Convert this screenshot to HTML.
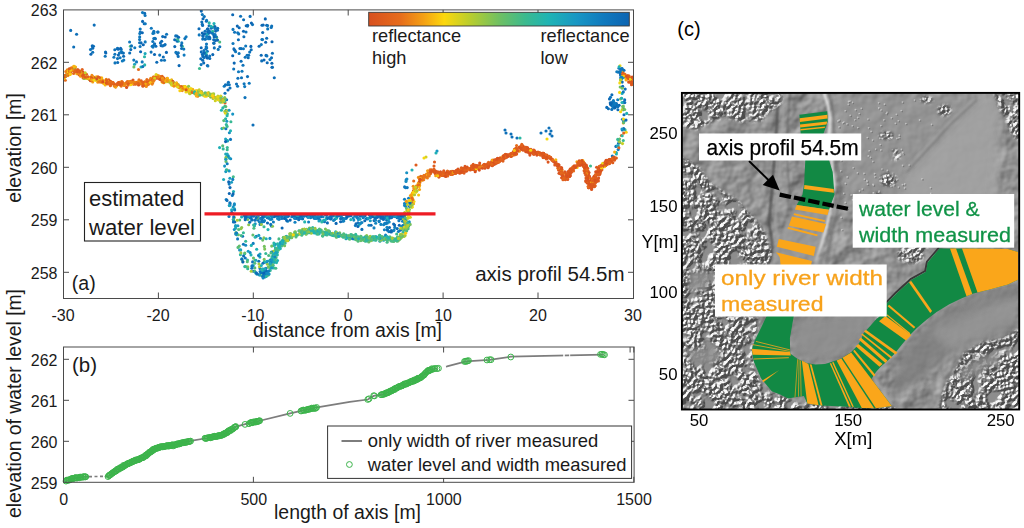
<!DOCTYPE html><html><head><meta charset="utf-8"><title>figure</title>
<style>html,body{margin:0;padding:0;background:#fff}svg{display:block}text{font-family:"Liberation Sans", sans-serif;fill:#1a1a1a}</style></head><body>
<svg width="1024" height="528" viewBox="0 0 1024 528">
<rect width="1024" height="528" fill="#fff"/>
<defs>
<linearGradient id="cb" x1="0" x2="1" y1="0" y2="0">
<stop offset="0.00" stop-color="#d8501f"/>
<stop offset="0.12" stop-color="#e66c1c"/>
<stop offset="0.21" stop-color="#f4a014"/>
<stop offset="0.29" stop-color="#fcd80d"/>
<stop offset="0.39" stop-color="#b8cd2e"/>
<stop offset="0.50" stop-color="#70c062"/>
<stop offset="0.60" stop-color="#3cba8e"/>
<stop offset="0.69" stop-color="#1fb4b4"/>
<stop offset="0.80" stop-color="#1896c4"/>
<stop offset="0.90" stop-color="#107abe"/>
<stop offset="1.00" stop-color="#0c64b2"/>
</linearGradient>
<clipPath id="ca"><rect x="63" y="10" width="571" height="288.5"/></clipPath>
<clipPath id="cm"><rect x="682" y="93" width="337" height="316"/></clipPath>
<filter id="trees" x="676" y="88" width="348" height="326" filterUnits="userSpaceOnUse" color-interpolation-filters="sRGB">
<feTurbulence type="fractalNoise" baseFrequency="0.27" numOctaves="3" seed="5" result="n"/>
<feTurbulence type="fractalNoise" baseFrequency="0.07" numOctaves="2" seed="9" result="lo"/>
<feComponentTransfer in="lo" result="lo2"><feFuncA type="linear" slope="5" intercept="-1.55"/></feComponentTransfer>
<feComponentTransfer in="n" result="n2"><feFuncA type="linear" slope="2.2" intercept="-0.6"/></feComponentTransfer>
<feComposite in="n2" in2="lo2" operator="arithmetic" k1="1" k2="0" k3="0" k4="0" result="h"/>
<feDiffuseLighting in="h" surfaceScale="3" diffuseConstant="1" lighting-color="#ffffff" result="l"><feDistantLight azimuth="225" elevation="33"/></feDiffuseLighting>
<feComponentTransfer in="l" result="l2"><feFuncR type="table" tableValues="0.3 0.41 0.5 0.53 0.62 0.88 1"/><feFuncG type="table" tableValues="0.3 0.41 0.5 0.53 0.62 0.88 1"/><feFuncB type="table" tableValues="0.3 0.41 0.5 0.53 0.62 0.88 1"/></feComponentTransfer>
<feGaussianBlur in="SourceAlpha" stdDeviation="1.5" result="m"/>
<feComposite in="l2" in2="m" operator="in"/>
</filter>
<filter id="soft" x="676" y="88" width="348" height="326" filterUnits="userSpaceOnUse" color-interpolation-filters="sRGB">
<feTurbulence type="fractalNoise" baseFrequency="0.05" numOctaves="3" seed="8" result="n"/>
<feDiffuseLighting in="n" surfaceScale="1.6" diffuseConstant="1" lighting-color="#ffffff" result="l"><feDistantLight azimuth="225" elevation="45"/></feDiffuseLighting>
<feComponentTransfer in="l"><feFuncR type="linear" slope="0.9" intercept="-0.065"/><feFuncG type="linear" slope="0.9" intercept="-0.065"/><feFuncB type="linear" slope="0.9" intercept="-0.065"/></feComponentTransfer>
</filter>
<filter id="b2"><feGaussianBlur stdDeviation="2"/></filter>
<filter id="b1"><feGaussianBlur stdDeviation="0.8"/></filter>
<filter id="b4"><feGaussianBlur stdDeviation="4"/></filter>
</defs>
<g clip-path="url(#ca)">
<circle cx="503.7" cy="158.3" r="1.55" fill="#dc581e"/>
<circle cx="286.3" cy="236.3" r="1.55" fill="#1ca6bb"/>
<circle cx="573.8" cy="168.2" r="1.55" fill="#db571e"/>
<circle cx="372.1" cy="240.1" r="1.55" fill="#44bb88"/>
<circle cx="276.2" cy="249.3" r="1.55" fill="#2bb6a4"/>
<circle cx="543.1" cy="157.6" r="1.55" fill="#dc581e"/>
<circle cx="70.6" cy="70.2" r="1.55" fill="#ec8319"/>
<circle cx="226.6" cy="99.8" r="1.55" fill="#1077bd"/>
<circle cx="426.1" cy="176.6" r="1.55" fill="#e8741b"/>
<circle cx="519.5" cy="147.3" r="1.55" fill="#ed8818"/>
<circle cx="412.2" cy="193.9" r="1.55" fill="#f7b611"/>
<circle cx="122.3" cy="61.0" r="1.55" fill="#107abe"/>
<circle cx="161.7" cy="41.2" r="1.55" fill="#0d6ab5"/>
<circle cx="590.7" cy="178.5" r="1.55" fill="#e1621d"/>
<circle cx="396.9" cy="238.6" r="1.55" fill="#a8ca39"/>
<circle cx="293.4" cy="215.2" r="1.55" fill="#158ac1"/>
<circle cx="300.7" cy="214.7" r="1.55" fill="#0c65b3"/>
<circle cx="326.0" cy="234.8" r="1.55" fill="#8ec54c"/>
<circle cx="220.6" cy="100.7" r="1.55" fill="#a9ca39"/>
<circle cx="247.8" cy="219.5" r="1.55" fill="#6ec063"/>
<circle cx="434.4" cy="172.0" r="1.55" fill="#dd591e"/>
<circle cx="334.8" cy="235.0" r="1.55" fill="#1ca7bb"/>
<circle cx="625.2" cy="89.1" r="1.55" fill="#0e6fb8"/>
<circle cx="534.4" cy="153.9" r="1.55" fill="#d9521f"/>
<circle cx="145.1" cy="83.4" r="1.55" fill="#e1621d"/>
<circle cx="309.8" cy="214.5" r="1.55" fill="#0f73ba"/>
<circle cx="153.2" cy="77.1" r="1.55" fill="#ed8718"/>
<circle cx="239.2" cy="27.7" r="1.55" fill="#0d68b4"/>
<circle cx="612.9" cy="104.1" r="1.55" fill="#107bbe"/>
<circle cx="614.3" cy="108.0" r="1.55" fill="#0e70b9"/>
<circle cx="595.4" cy="180.0" r="1.55" fill="#d8501f"/>
<circle cx="563.2" cy="176.3" r="1.55" fill="#d9521f"/>
<circle cx="206.9" cy="93.9" r="1.55" fill="#8dc54d"/>
<circle cx="74.2" cy="70.9" r="1.55" fill="#e4671c"/>
<circle cx="622.7" cy="106.6" r="1.55" fill="#70c062"/>
<circle cx="559.7" cy="169.7" r="1.55" fill="#dd591e"/>
<circle cx="419.5" cy="189.5" r="1.55" fill="#f5a613"/>
<circle cx="378.9" cy="237.8" r="1.55" fill="#2db7a2"/>
<circle cx="397.9" cy="216.3" r="1.55" fill="#0e6fb8"/>
<circle cx="244.8" cy="266.6" r="1.55" fill="#28b6a8"/>
<circle cx="301.6" cy="232.2" r="1.55" fill="#a4c93d"/>
<circle cx="276.1" cy="257.7" r="1.55" fill="#49bb83"/>
<circle cx="356.6" cy="215.1" r="1.55" fill="#29b6a7"/>
<circle cx="206.0" cy="55.4" r="1.55" fill="#33b89a"/>
<circle cx="179.0" cy="86.1" r="1.55" fill="#eed614"/>
<circle cx="314.4" cy="215.2" r="1.55" fill="#1ca8bb"/>
<circle cx="170.9" cy="83.6" r="1.55" fill="#7fc357"/>
<circle cx="586.5" cy="172.1" r="1.55" fill="#e0601d"/>
<circle cx="226.2" cy="199.6" r="1.55" fill="#117cbe"/>
<circle cx="349.1" cy="237.2" r="1.55" fill="#34b899"/>
<circle cx="300.4" cy="231.4" r="1.55" fill="#1eafb6"/>
<circle cx="404.7" cy="217.7" r="1.55" fill="#39b992"/>
<circle cx="171.6" cy="80.9" r="1.55" fill="#facb0f"/>
<circle cx="102.2" cy="79.9" r="1.55" fill="#df5e1e"/>
<circle cx="101.9" cy="81.5" r="1.55" fill="#e8721b"/>
<circle cx="599.8" cy="170.7" r="1.55" fill="#d9521f"/>
<circle cx="471.8" cy="168.0" r="1.55" fill="#db561e"/>
<circle cx="101.9" cy="81.2" r="1.55" fill="#e66b1c"/>
<circle cx="607.1" cy="160.4" r="1.55" fill="#df5f1d"/>
<circle cx="253.2" cy="265.5" r="1.55" fill="#1ca6bc"/>
<circle cx="183.8" cy="49.1" r="1.55" fill="#0f77bc"/>
<circle cx="65.3" cy="80.3" r="1.55" fill="#e66c1c"/>
<circle cx="334.9" cy="215.9" r="1.55" fill="#23b5af"/>
<circle cx="285.7" cy="238.6" r="1.55" fill="#30b89e"/>
<circle cx="165.2" cy="80.3" r="1.55" fill="#db561e"/>
<circle cx="404.7" cy="226.8" r="1.55" fill="#158ac2"/>
<circle cx="367.9" cy="218.4" r="1.55" fill="#0d6bb6"/>
<circle cx="392.6" cy="238.4" r="1.55" fill="#2ab6a6"/>
<circle cx="291.6" cy="237.8" r="1.55" fill="#51bc7c"/>
<circle cx="627.4" cy="76.3" r="1.55" fill="#e1621d"/>
<circle cx="357.7" cy="237.5" r="1.55" fill="#3fba8b"/>
<circle cx="250.9" cy="46.4" r="1.55" fill="#0d67b4"/>
<circle cx="210.8" cy="94.0" r="1.55" fill="#96c747"/>
<circle cx="293.9" cy="234.3" r="1.55" fill="#5abe74"/>
<circle cx="555.8" cy="161.8" r="1.55" fill="#e1611d"/>
<circle cx="496.4" cy="159.4" r="1.55" fill="#d9521f"/>
<circle cx="404.1" cy="220.1" r="1.55" fill="#1386c1"/>
<circle cx="492.3" cy="165.7" r="1.55" fill="#da551e"/>
<circle cx="619.9" cy="142.4" r="1.55" fill="#96c747"/>
<circle cx="615.5" cy="105.2" r="1.55" fill="#0e70b8"/>
<circle cx="252.6" cy="261.9" r="1.55" fill="#0f74bb"/>
<circle cx="592.3" cy="184.9" r="1.55" fill="#dc581e"/>
<circle cx="161.1" cy="45.6" r="1.55" fill="#0c66b3"/>
<circle cx="188.3" cy="90.6" r="1.55" fill="#f7b411"/>
<circle cx="153.4" cy="79.6" r="1.55" fill="#e4d419"/>
<circle cx="489.0" cy="165.2" r="1.55" fill="#dd591e"/>
<circle cx="227.3" cy="170.0" r="1.55" fill="#a8ca3a"/>
<circle cx="307.6" cy="215.3" r="1.55" fill="#1ba3bd"/>
<circle cx="356.7" cy="237.7" r="1.55" fill="#41bb8a"/>
<circle cx="264.3" cy="270.8" r="1.55" fill="#117dbf"/>
<circle cx="105.0" cy="83.1" r="1.55" fill="#c0ce2a"/>
<circle cx="128.1" cy="82.0" r="1.55" fill="#f7b711"/>
<circle cx="530.5" cy="151.9" r="1.55" fill="#dc581e"/>
<circle cx="231.6" cy="209.9" r="1.55" fill="#1ca7bb"/>
<circle cx="437.0" cy="151.0" r="1.55" fill="#1896c4"/>
<circle cx="387.9" cy="240.0" r="1.55" fill="#42bb89"/>
<circle cx="105.5" cy="52.1" r="1.55" fill="#0e71b9"/>
<circle cx="351.9" cy="237.7" r="1.55" fill="#48bb84"/>
<circle cx="590.5" cy="185.0" r="1.55" fill="#e2641d"/>
<circle cx="250.8" cy="217.0" r="1.55" fill="#1383c0"/>
<circle cx="282.9" cy="239.9" r="1.55" fill="#1eafb7"/>
<circle cx="250.1" cy="216.6" r="1.55" fill="#1486c1"/>
<circle cx="595.2" cy="178.6" r="1.55" fill="#dd5a1e"/>
<circle cx="586.1" cy="168.9" r="1.55" fill="#d9521f"/>
<circle cx="66.4" cy="75.3" r="1.55" fill="#dad21e"/>
<circle cx="226.1" cy="110.3" r="1.55" fill="#4ebc7f"/>
<circle cx="178.3" cy="41.3" r="1.55" fill="#28b6a8"/>
<circle cx="610.2" cy="160.1" r="1.55" fill="#db551e"/>
<circle cx="512.7" cy="155.1" r="1.55" fill="#dc581e"/>
<circle cx="104.9" cy="82.4" r="1.55" fill="#e76f1b"/>
<circle cx="130.4" cy="46.3" r="1.55" fill="#4abc83"/>
<circle cx="223.6" cy="179.5" r="1.55" fill="#1daab9"/>
<circle cx="203.7" cy="95.0" r="1.55" fill="#f8d70f"/>
<circle cx="310.6" cy="230.2" r="1.55" fill="#27b6aa"/>
<circle cx="446.3" cy="173.6" r="1.55" fill="#d8501f"/>
<circle cx="594.9" cy="177.2" r="1.55" fill="#db561e"/>
<circle cx="134.6" cy="64.2" r="1.55" fill="#1ba4bc"/>
<circle cx="254.8" cy="263.2" r="1.55" fill="#4dbc80"/>
<circle cx="546.5" cy="158.9" r="1.55" fill="#d9511f"/>
<circle cx="412.3" cy="197.7" r="1.55" fill="#e1d41a"/>
<circle cx="273.2" cy="251.2" r="1.55" fill="#adcb36"/>
<circle cx="407.1" cy="221.8" r="1.55" fill="#55bd79"/>
<circle cx="427.4" cy="177.9" r="1.55" fill="#eb7e19"/>
<circle cx="266.6" cy="262.1" r="1.55" fill="#0f75bb"/>
<circle cx="92.9" cy="77.1" r="1.55" fill="#e2651d"/>
<circle cx="278.3" cy="248.0" r="1.55" fill="#1ca8ba"/>
<circle cx="243.4" cy="48.8" r="1.55" fill="#1078bd"/>
<circle cx="80.9" cy="71.3" r="1.55" fill="#e5691c"/>
<circle cx="393.6" cy="224.0" r="1.55" fill="#0d6ab6"/>
<circle cx="233.0" cy="29.4" r="1.55" fill="#1077bd"/>
<circle cx="180.6" cy="86.9" r="1.55" fill="#de5b1e"/>
<circle cx="451.7" cy="171.4" r="1.55" fill="#f4d711"/>
<circle cx="318.9" cy="233.9" r="1.55" fill="#2db7a2"/>
<circle cx="409.9" cy="203.0" r="1.55" fill="#e8751b"/>
<circle cx="484.6" cy="166.6" r="1.55" fill="#de5c1e"/>
<circle cx="561.7" cy="167.9" r="1.55" fill="#da531f"/>
<circle cx="369.5" cy="237.9" r="1.55" fill="#22b5b0"/>
<circle cx="128.4" cy="82.1" r="1.55" fill="#f4a214"/>
<circle cx="315.0" cy="214.8" r="1.55" fill="#0c66b3"/>
<circle cx="235.7" cy="228.3" r="1.55" fill="#26b6aa"/>
<circle cx="531.7" cy="152.7" r="1.55" fill="#da531f"/>
<circle cx="559.9" cy="173.6" r="1.55" fill="#d9531f"/>
<circle cx="397.2" cy="217.8" r="1.55" fill="#0e6eb8"/>
<circle cx="269.9" cy="238.4" r="1.55" fill="#168ec2"/>
<circle cx="299.3" cy="215.9" r="1.55" fill="#1283c0"/>
<circle cx="572.8" cy="169.5" r="1.55" fill="#de5b1e"/>
<circle cx="308.0" cy="217.3" r="1.55" fill="#0e71b9"/>
<circle cx="336.4" cy="237.2" r="1.55" fill="#6cc065"/>
<circle cx="595.8" cy="177.9" r="1.55" fill="#e2641d"/>
<circle cx="237.9" cy="225.8" r="1.55" fill="#1998c3"/>
<circle cx="620.2" cy="87.0" r="1.55" fill="#70c062"/>
<circle cx="513.7" cy="154.9" r="1.55" fill="#e3651d"/>
<circle cx="386.8" cy="220.2" r="1.55" fill="#0e6fb8"/>
<circle cx="272.0" cy="256.5" r="1.55" fill="#3eba8c"/>
<circle cx="515.0" cy="152.0" r="1.55" fill="#d9521f"/>
<circle cx="157.0" cy="75.3" r="1.55" fill="#e56a1c"/>
<circle cx="375.7" cy="223.2" r="1.55" fill="#1385c0"/>
<circle cx="512.0" cy="137.0" r="1.55" fill="#0e6fb8"/>
<circle cx="289.5" cy="236.6" r="1.55" fill="#57bd77"/>
<circle cx="611.8" cy="109.4" r="1.55" fill="#0e70b9"/>
<circle cx="591.9" cy="182.0" r="1.55" fill="#da541f"/>
<circle cx="276.5" cy="215.8" r="1.55" fill="#117cbf"/>
<circle cx="596.1" cy="181.7" r="1.55" fill="#e0601d"/>
<circle cx="429.2" cy="175.9" r="1.55" fill="#eb7d19"/>
<circle cx="397.1" cy="237.9" r="1.55" fill="#3dba8d"/>
<circle cx="152.8" cy="82.8" r="1.55" fill="#e9771a"/>
<circle cx="546.2" cy="156.8" r="1.55" fill="#d9511f"/>
<circle cx="188.0" cy="91.2" r="1.55" fill="#f7b811"/>
<circle cx="306.3" cy="233.9" r="1.55" fill="#26b5ab"/>
<circle cx="491.8" cy="164.5" r="1.55" fill="#df5e1e"/>
<circle cx="600.7" cy="171.4" r="1.55" fill="#da551f"/>
<circle cx="622.5" cy="119.3" r="1.55" fill="#107abe"/>
<circle cx="358.1" cy="238.6" r="1.55" fill="#36b996"/>
<circle cx="314.3" cy="231.7" r="1.55" fill="#8bc54e"/>
<circle cx="338.9" cy="235.0" r="1.55" fill="#1ca9ba"/>
<circle cx="403.3" cy="219.5" r="1.55" fill="#0d6bb6"/>
<circle cx="573.0" cy="166.9" r="1.55" fill="#e9751b"/>
<circle cx="186.0" cy="91.9" r="1.55" fill="#f1d613"/>
<circle cx="400.7" cy="216.9" r="1.55" fill="#1383c0"/>
<circle cx="546.5" cy="158.0" r="1.55" fill="#df5e1d"/>
<circle cx="592.1" cy="186.7" r="1.55" fill="#dc581e"/>
<circle cx="516.6" cy="145.6" r="1.55" fill="#e66b1c"/>
<circle cx="83.6" cy="76.2" r="1.55" fill="#dd5a1e"/>
<circle cx="314.2" cy="218.1" r="1.55" fill="#0e71b9"/>
<circle cx="225.0" cy="102.9" r="1.55" fill="#de5b1e"/>
<circle cx="184.9" cy="38.6" r="1.55" fill="#0f76bc"/>
<circle cx="90.5" cy="77.6" r="1.55" fill="#dc591e"/>
<circle cx="605.8" cy="165.4" r="1.55" fill="#dc581e"/>
<circle cx="277.8" cy="214.6" r="1.55" fill="#1280bf"/>
<circle cx="257.0" cy="216.5" r="1.55" fill="#107abe"/>
<circle cx="256.0" cy="273.3" r="1.55" fill="#1dacb8"/>
<circle cx="500.5" cy="157.8" r="1.55" fill="#e2651d"/>
<circle cx="416.3" cy="191.6" r="1.55" fill="#facb0f"/>
<circle cx="69.3" cy="70.7" r="1.55" fill="#f9c40f"/>
<circle cx="520.6" cy="147.2" r="1.55" fill="#e56a1c"/>
<circle cx="398.8" cy="239.5" r="1.55" fill="#69bf68"/>
<circle cx="64.5" cy="78.1" r="1.55" fill="#efd613"/>
<circle cx="514.4" cy="151.1" r="1.55" fill="#db561e"/>
<circle cx="189.5" cy="90.8" r="1.55" fill="#abcb38"/>
<circle cx="388.2" cy="215.8" r="1.55" fill="#0d6cb6"/>
<circle cx="630.1" cy="77.8" r="1.55" fill="#ec8418"/>
<circle cx="558.5" cy="165.1" r="1.55" fill="#e1621d"/>
<circle cx="224.6" cy="166.1" r="1.55" fill="#1895c4"/>
<circle cx="251.6" cy="220.1" r="1.55" fill="#1488c1"/>
<circle cx="279.3" cy="247.9" r="1.55" fill="#1daab9"/>
<circle cx="619.7" cy="71.9" r="1.55" fill="#1eb1b5"/>
<circle cx="488.0" cy="167.8" r="1.55" fill="#dc581e"/>
<circle cx="388.7" cy="218.6" r="1.55" fill="#117dbf"/>
<circle cx="243.4" cy="244.2" r="1.55" fill="#0e72b9"/>
<circle cx="546.0" cy="155.8" r="1.55" fill="#da541f"/>
<circle cx="121.1" cy="49.3" r="1.55" fill="#0f77bc"/>
<circle cx="511.0" cy="134.0" r="1.55" fill="#0e6fb8"/>
<circle cx="111.1" cy="84.8" r="1.55" fill="#e8731b"/>
<circle cx="186.1" cy="36.7" r="1.55" fill="#0f77bc"/>
<circle cx="540.0" cy="152.8" r="1.55" fill="#da551e"/>
<circle cx="380.9" cy="224.4" r="1.55" fill="#1283c0"/>
<circle cx="405.6" cy="232.2" r="1.55" fill="#c8d026"/>
<circle cx="293.3" cy="235.6" r="1.55" fill="#65bf6c"/>
<circle cx="226.5" cy="156.7" r="1.55" fill="#1a9fbf"/>
<circle cx="614.5" cy="158.5" r="1.55" fill="#de5c1e"/>
<circle cx="256.3" cy="218.3" r="1.55" fill="#0c64b2"/>
<circle cx="110.0" cy="81.6" r="1.55" fill="#e0601d"/>
<circle cx="157.5" cy="76.7" r="1.55" fill="#accb37"/>
<circle cx="437.5" cy="174.7" r="1.55" fill="#da551f"/>
<circle cx="75.5" cy="67.0" r="1.55" fill="#f5a813"/>
<circle cx="329.3" cy="233.3" r="1.55" fill="#3cba8e"/>
<circle cx="578.4" cy="163.7" r="1.55" fill="#da541f"/>
<circle cx="523.7" cy="147.9" r="1.55" fill="#dd5a1e"/>
<circle cx="369.4" cy="214.5" r="1.55" fill="#1487c1"/>
<circle cx="399.7" cy="238.2" r="1.55" fill="#69bf68"/>
<circle cx="392.4" cy="216.6" r="1.55" fill="#0d69b5"/>
<circle cx="405.9" cy="206.4" r="1.55" fill="#0f72ba"/>
<circle cx="631.2" cy="83.0" r="1.55" fill="#e0601d"/>
<circle cx="414.0" cy="201.5" r="1.55" fill="#f1d612"/>
<circle cx="584.7" cy="169.0" r="1.55" fill="#ecd515"/>
<circle cx="74.2" cy="68.4" r="1.55" fill="#afcb35"/>
<circle cx="392.3" cy="241.2" r="1.55" fill="#4fbc7e"/>
<circle cx="302.0" cy="218.7" r="1.55" fill="#1283c0"/>
<circle cx="359.0" cy="225.0" r="1.55" fill="#1fb4b4"/>
<circle cx="503.3" cy="157.5" r="1.55" fill="#d9521f"/>
<circle cx="163.4" cy="78.1" r="1.55" fill="#f09116"/>
<circle cx="120.8" cy="85.0" r="1.55" fill="#ea7c1a"/>
<circle cx="480.0" cy="167.2" r="1.55" fill="#da541f"/>
<circle cx="597.6" cy="171.2" r="1.55" fill="#f5a414"/>
<circle cx="205.8" cy="48.7" r="1.55" fill="#0e6db7"/>
<circle cx="284.8" cy="241.1" r="1.55" fill="#21b4b2"/>
<circle cx="459.6" cy="170.7" r="1.55" fill="#d9511f"/>
<circle cx="570.5" cy="171.3" r="1.55" fill="#e0601d"/>
<circle cx="76.8" cy="73.8" r="1.55" fill="#f6af12"/>
<circle cx="172.5" cy="84.0" r="1.55" fill="#e66c1c"/>
<circle cx="76.6" cy="34.3" r="1.55" fill="#0e6fb8"/>
<circle cx="84.8" cy="78.0" r="1.55" fill="#f39d14"/>
<circle cx="389.2" cy="237.6" r="1.55" fill="#1eaeb7"/>
<circle cx="375.9" cy="236.5" r="1.55" fill="#1ca8ba"/>
<circle cx="196.0" cy="91.8" r="1.55" fill="#fbd30e"/>
<circle cx="599.3" cy="171.5" r="1.55" fill="#d9511f"/>
<circle cx="299.4" cy="233.9" r="1.55" fill="#7bc25a"/>
<circle cx="405.4" cy="228.2" r="1.55" fill="#8fc64c"/>
<circle cx="215.4" cy="40.6" r="1.55" fill="#0d6ab5"/>
<circle cx="617.9" cy="109.7" r="1.55" fill="#0d6cb6"/>
<circle cx="286.0" cy="238.9" r="1.55" fill="#abcb37"/>
<circle cx="85.7" cy="76.2" r="1.55" fill="#f8bf10"/>
<circle cx="568.3" cy="176.7" r="1.55" fill="#d8511f"/>
<circle cx="250.1" cy="252.6" r="1.55" fill="#158bc2"/>
<circle cx="260.1" cy="271.5" r="1.55" fill="#0f75bb"/>
<circle cx="164.5" cy="60.3" r="1.55" fill="#0f73ba"/>
<circle cx="346.1" cy="235.1" r="1.55" fill="#31b89c"/>
<circle cx="172.9" cy="84.5" r="1.55" fill="#f29715"/>
<circle cx="366.7" cy="235.6" r="1.55" fill="#94c648"/>
<circle cx="350.5" cy="236.2" r="1.55" fill="#1793c3"/>
<circle cx="221.9" cy="128.6" r="1.55" fill="#1dadb8"/>
<circle cx="405.9" cy="203.1" r="1.55" fill="#1078bd"/>
<circle cx="147.0" cy="84.9" r="1.55" fill="#d8501f"/>
<circle cx="241.8" cy="258.9" r="1.55" fill="#20b4b3"/>
<circle cx="400.8" cy="216.9" r="1.55" fill="#0e72b9"/>
<circle cx="368.1" cy="239.3" r="1.55" fill="#39b993"/>
<circle cx="473.2" cy="168.1" r="1.55" fill="#da541f"/>
<circle cx="285.7" cy="236.8" r="1.55" fill="#55bd79"/>
<circle cx="384.9" cy="238.1" r="1.55" fill="#70c062"/>
<circle cx="599.9" cy="171.1" r="1.55" fill="#d9531f"/>
<circle cx="630.4" cy="82.1" r="1.55" fill="#dd5a1e"/>
<circle cx="567.6" cy="176.3" r="1.55" fill="#da551f"/>
<circle cx="361.3" cy="214.8" r="1.55" fill="#0c65b3"/>
<circle cx="174.3" cy="83.2" r="1.55" fill="#e0611d"/>
<circle cx="566.1" cy="178.1" r="1.55" fill="#d8501f"/>
<circle cx="373.4" cy="236.8" r="1.55" fill="#1a9fbf"/>
<circle cx="530.9" cy="149.2" r="1.55" fill="#e2651d"/>
<circle cx="252.9" cy="235.0" r="1.55" fill="#62be6e"/>
<circle cx="182.9" cy="89.1" r="1.55" fill="#f6af12"/>
<circle cx="371.2" cy="237.3" r="1.55" fill="#20b4b2"/>
<circle cx="181.5" cy="87.6" r="1.55" fill="#e5d418"/>
<circle cx="86.7" cy="78.3" r="1.55" fill="#ee8b17"/>
<circle cx="201.2" cy="47.8" r="1.55" fill="#0c66b3"/>
<circle cx="201.5" cy="91.5" r="1.55" fill="#46bb86"/>
<circle cx="357.3" cy="237.6" r="1.55" fill="#58bd77"/>
<circle cx="291.5" cy="237.0" r="1.55" fill="#c1cf29"/>
<circle cx="83.1" cy="78.0" r="1.55" fill="#e05f1d"/>
<circle cx="370.3" cy="220.7" r="1.55" fill="#199bc1"/>
<circle cx="285.8" cy="218.7" r="1.55" fill="#158ac1"/>
<circle cx="497.9" cy="160.7" r="1.55" fill="#da541f"/>
<circle cx="464.3" cy="170.0" r="1.55" fill="#dd5a1e"/>
<circle cx="167.7" cy="81.2" r="1.55" fill="#eb8019"/>
<circle cx="269.8" cy="268.1" r="1.55" fill="#3aba90"/>
<circle cx="239.6" cy="250.0" r="1.55" fill="#1280bf"/>
<circle cx="595.2" cy="182.6" r="1.55" fill="#de5b1e"/>
<circle cx="384.7" cy="236.8" r="1.55" fill="#1282c0"/>
<circle cx="140.6" cy="51.8" r="1.55" fill="#0c66b3"/>
<circle cx="127.5" cy="84.0" r="1.55" fill="#de5d1e"/>
<circle cx="87.9" cy="78.1" r="1.55" fill="#e66d1c"/>
<circle cx="552.0" cy="160.3" r="1.55" fill="#e4691c"/>
<circle cx="265.8" cy="253.5" r="1.55" fill="#35b997"/>
<circle cx="594.0" cy="180.1" r="1.55" fill="#dc591e"/>
<circle cx="563.2" cy="179.0" r="1.55" fill="#e3651d"/>
<circle cx="342.3" cy="235.6" r="1.55" fill="#4dbc7f"/>
<circle cx="302.5" cy="229.2" r="1.55" fill="#aecb36"/>
<circle cx="115.6" cy="87.1" r="1.55" fill="#e8721b"/>
<circle cx="272.3" cy="266.1" r="1.55" fill="#41bb8a"/>
<circle cx="624.6" cy="76.7" r="1.55" fill="#e3661d"/>
<circle cx="346.6" cy="237.0" r="1.55" fill="#4cbc81"/>
<circle cx="97.2" cy="80.3" r="1.55" fill="#ea7b1a"/>
<circle cx="82.7" cy="74.9" r="1.55" fill="#e0601d"/>
<circle cx="446.2" cy="174.0" r="1.55" fill="#da541f"/>
<circle cx="265.0" cy="215.6" r="1.55" fill="#23b5af"/>
<circle cx="274.4" cy="261.6" r="1.55" fill="#3dba8d"/>
<circle cx="388.1" cy="238.7" r="1.55" fill="#29b6a7"/>
<circle cx="444.4" cy="174.3" r="1.55" fill="#e56b1c"/>
<circle cx="129.2" cy="81.5" r="1.55" fill="#ef8d17"/>
<circle cx="275.4" cy="247.7" r="1.55" fill="#20b4b2"/>
<circle cx="608.2" cy="160.2" r="1.55" fill="#f6ac12"/>
<circle cx="63.2" cy="75.5" r="1.55" fill="#f9c310"/>
<circle cx="262.6" cy="271.4" r="1.55" fill="#1dacb8"/>
<circle cx="138.5" cy="69.5" r="1.55" fill="#e66c1c"/>
<circle cx="265.0" cy="273.2" r="1.55" fill="#1282c0"/>
<circle cx="414.4" cy="190.6" r="1.55" fill="#df5d1e"/>
<circle cx="176.5" cy="82.7" r="1.55" fill="#f39d15"/>
<circle cx="354.8" cy="215.7" r="1.55" fill="#1281c0"/>
<circle cx="172.9" cy="82.8" r="1.55" fill="#d9521f"/>
<circle cx="326.5" cy="231.7" r="1.55" fill="#4bbc81"/>
<circle cx="540.7" cy="153.7" r="1.55" fill="#de5c1e"/>
<circle cx="312.7" cy="227.5" r="1.55" fill="#2bb6a5"/>
<circle cx="119.4" cy="53.1" r="1.55" fill="#0f76bc"/>
<circle cx="128.7" cy="82.1" r="1.55" fill="#f6ab13"/>
<circle cx="316.1" cy="230.5" r="1.55" fill="#61be6f"/>
<circle cx="453.7" cy="173.5" r="1.55" fill="#de5b1e"/>
<circle cx="164.7" cy="82.0" r="1.55" fill="#aaca38"/>
<circle cx="163.3" cy="57.0" r="1.55" fill="#0d6cb6"/>
<circle cx="446.8" cy="173.6" r="1.55" fill="#dd5b1e"/>
<circle cx="387.1" cy="242.3" r="1.55" fill="#45bb86"/>
<circle cx="243.5" cy="31.2" r="1.55" fill="#0c65b3"/>
<circle cx="87.6" cy="77.6" r="1.55" fill="#e5691c"/>
<circle cx="78.9" cy="74.6" r="1.55" fill="#de5d1e"/>
<circle cx="633.3" cy="84.5" r="1.55" fill="#fbcf0e"/>
<circle cx="401.2" cy="236.2" r="1.55" fill="#81c356"/>
<circle cx="562.3" cy="172.7" r="1.55" fill="#f8ba11"/>
<circle cx="475.5" cy="168.4" r="1.55" fill="#dd5a1e"/>
<circle cx="389.7" cy="217.6" r="1.55" fill="#0d69b5"/>
<circle cx="104.3" cy="81.0" r="1.55" fill="#fac70f"/>
<circle cx="242.6" cy="236.2" r="1.55" fill="#0e71b9"/>
<circle cx="276.3" cy="216.2" r="1.55" fill="#1eaeb7"/>
<circle cx="141.0" cy="67.0" r="1.55" fill="#1eb1b5"/>
<circle cx="270.3" cy="260.5" r="1.55" fill="#22b5b0"/>
<circle cx="235.9" cy="232.6" r="1.55" fill="#61be6f"/>
<circle cx="503.7" cy="155.7" r="1.55" fill="#e66c1c"/>
<circle cx="247.8" cy="266.9" r="1.55" fill="#8ec54d"/>
<circle cx="147.7" cy="83.4" r="1.55" fill="#f29715"/>
<circle cx="480.0" cy="167.4" r="1.55" fill="#dd5a1e"/>
<circle cx="154.9" cy="38.2" r="1.55" fill="#107abe"/>
<circle cx="174.2" cy="83.3" r="1.55" fill="#e9791a"/>
<circle cx="402.7" cy="225.9" r="1.55" fill="#4abc82"/>
<circle cx="208.2" cy="94.5" r="1.55" fill="#8fc64c"/>
<circle cx="105.1" cy="81.2" r="1.55" fill="#ec8119"/>
<circle cx="612.1" cy="103.5" r="1.55" fill="#0c66b3"/>
<circle cx="600.0" cy="169.9" r="1.55" fill="#dc571e"/>
<circle cx="401.5" cy="237.6" r="1.55" fill="#9dc842"/>
<circle cx="114.7" cy="84.7" r="1.55" fill="#e66e1c"/>
<circle cx="306.0" cy="234.1" r="1.55" fill="#9cc842"/>
<circle cx="609.6" cy="163.6" r="1.55" fill="#da551e"/>
<circle cx="273.5" cy="215.2" r="1.55" fill="#0f73ba"/>
<circle cx="205.0" cy="31.3" r="1.55" fill="#0f74bb"/>
<circle cx="79.0" cy="71.1" r="1.55" fill="#e2631d"/>
<circle cx="248.7" cy="224.7" r="1.55" fill="#8dc54d"/>
<circle cx="403.3" cy="218.2" r="1.55" fill="#0c64b2"/>
<circle cx="288.4" cy="238.4" r="1.55" fill="#3cba8e"/>
<circle cx="110.3" cy="82.1" r="1.55" fill="#dd5a1e"/>
<circle cx="224.2" cy="98.9" r="1.55" fill="#f4a014"/>
<circle cx="276.1" cy="252.1" r="1.55" fill="#3fba8b"/>
<circle cx="597.0" cy="174.5" r="1.55" fill="#dc581e"/>
<circle cx="592.3" cy="183.4" r="1.55" fill="#e1631d"/>
<circle cx="407.2" cy="187.6" r="1.55" fill="#0f77bc"/>
<circle cx="542.4" cy="154.0" r="1.55" fill="#de5b1e"/>
<circle cx="357.9" cy="226.5" r="1.55" fill="#0c66b3"/>
<circle cx="277.0" cy="248.4" r="1.55" fill="#5bbe73"/>
<circle cx="178.2" cy="52.7" r="1.55" fill="#0d6bb6"/>
<circle cx="399.3" cy="225.2" r="1.55" fill="#0c66b3"/>
<circle cx="267.6" cy="214.7" r="1.55" fill="#158ac1"/>
<circle cx="462.3" cy="168.4" r="1.55" fill="#da531f"/>
<circle cx="270.6" cy="261.2" r="1.55" fill="#2bb6a4"/>
<circle cx="324.1" cy="232.9" r="1.55" fill="#1898c3"/>
<circle cx="124.8" cy="85.5" r="1.55" fill="#e9771a"/>
<circle cx="85.4" cy="75.1" r="1.55" fill="#ee8a17"/>
<circle cx="408.3" cy="214.8" r="1.55" fill="#7cc259"/>
<circle cx="133.6" cy="84.2" r="1.55" fill="#d8501f"/>
<circle cx="576.4" cy="166.8" r="1.55" fill="#facb0f"/>
<circle cx="373.7" cy="216.6" r="1.55" fill="#117dbf"/>
<circle cx="288.8" cy="237.3" r="1.55" fill="#accb37"/>
<circle cx="140.5" cy="83.8" r="1.55" fill="#dc581e"/>
<circle cx="271.5" cy="57.7" r="1.55" fill="#0d6bb6"/>
<circle cx="146.2" cy="82.9" r="1.55" fill="#ea791a"/>
<circle cx="321.3" cy="230.1" r="1.55" fill="#79c25c"/>
<circle cx="144.7" cy="64.9" r="1.55" fill="#25b5ac"/>
<circle cx="475.5" cy="165.2" r="1.55" fill="#e2631d"/>
<circle cx="275.4" cy="249.4" r="1.55" fill="#1daab9"/>
<circle cx="621.2" cy="98.2" r="1.55" fill="#b1cc33"/>
<circle cx="564.8" cy="177.6" r="1.55" fill="#e4681c"/>
<circle cx="177.9" cy="53.3" r="1.55" fill="#1079bd"/>
<circle cx="189.2" cy="92.0" r="1.55" fill="#d3d121"/>
<circle cx="538.0" cy="152.0" r="1.55" fill="#de5c1e"/>
<circle cx="530.6" cy="150.9" r="1.55" fill="#db561e"/>
<circle cx="275.5" cy="249.9" r="1.55" fill="#6ec064"/>
<circle cx="108.8" cy="79.7" r="1.55" fill="#d8501f"/>
<circle cx="358.2" cy="239.3" r="1.55" fill="#1fb4b4"/>
<circle cx="119.9" cy="84.9" r="1.55" fill="#e0d31b"/>
<circle cx="403.8" cy="235.8" r="1.55" fill="#c9d026"/>
<circle cx="282.2" cy="216.0" r="1.55" fill="#0e70b9"/>
<circle cx="179.1" cy="87.8" r="1.55" fill="#ee8918"/>
<circle cx="287.7" cy="221.3" r="1.55" fill="#1283c0"/>
<circle cx="205.6" cy="34.0" r="1.55" fill="#0f72ba"/>
<circle cx="155.9" cy="76.1" r="1.55" fill="#f19416"/>
<circle cx="228.4" cy="82.2" r="1.55" fill="#0f72ba"/>
<circle cx="92.7" cy="81.9" r="1.55" fill="#f39e14"/>
<circle cx="329.2" cy="232.1" r="1.55" fill="#44bb87"/>
<circle cx="582.9" cy="160.6" r="1.55" fill="#fbd10e"/>
<circle cx="309.3" cy="228.0" r="1.55" fill="#81c355"/>
<circle cx="79.7" cy="72.1" r="1.55" fill="#ec8119"/>
<circle cx="68.0" cy="72.2" r="1.55" fill="#ea7b1a"/>
<circle cx="312.9" cy="230.9" r="1.55" fill="#75c15f"/>
<circle cx="406.1" cy="179.9" r="1.55" fill="#117fbf"/>
<circle cx="89.2" cy="79.4" r="1.55" fill="#b1cc33"/>
<circle cx="209.7" cy="56.1" r="1.55" fill="#0f74bb"/>
<circle cx="131.9" cy="83.8" r="1.55" fill="#f9c110"/>
<circle cx="438.7" cy="173.2" r="1.55" fill="#dc581e"/>
<circle cx="207.9" cy="33.5" r="1.55" fill="#0e71b9"/>
<circle cx="406.1" cy="219.2" r="1.55" fill="#54bd7a"/>
<circle cx="270.6" cy="259.8" r="1.55" fill="#0d68b4"/>
<circle cx="419.4" cy="183.1" r="1.55" fill="#eb7f19"/>
<circle cx="491.2" cy="163.3" r="1.55" fill="#dc581e"/>
<circle cx="339.6" cy="215.4" r="1.55" fill="#0d69b5"/>
<circle cx="195.1" cy="93.3" r="1.55" fill="#f29815"/>
<circle cx="232.7" cy="14.8" r="1.55" fill="#0d68b4"/>
<circle cx="310.6" cy="232.1" r="1.55" fill="#6ec063"/>
<circle cx="141.3" cy="83.1" r="1.55" fill="#f6ab13"/>
<circle cx="226.9" cy="156.5" r="1.55" fill="#2bb6a5"/>
<circle cx="385.4" cy="216.7" r="1.55" fill="#0d67b4"/>
<circle cx="196.8" cy="90.8" r="1.55" fill="#f6af12"/>
<circle cx="121.4" cy="51.5" r="1.55" fill="#1078bd"/>
<circle cx="622.8" cy="71.5" r="1.55" fill="#f5d710"/>
<circle cx="370.9" cy="239.6" r="1.55" fill="#4abc82"/>
<circle cx="335.5" cy="235.3" r="1.55" fill="#1eaeb7"/>
<circle cx="390.1" cy="237.1" r="1.55" fill="#53bd7b"/>
<circle cx="247.6" cy="25.2" r="1.55" fill="#0e71b9"/>
<circle cx="231.7" cy="212.6" r="1.55" fill="#0f74bb"/>
<circle cx="232.1" cy="213.0" r="1.55" fill="#0e6db7"/>
<circle cx="135.7" cy="82.2" r="1.55" fill="#ed8718"/>
<circle cx="587.3" cy="175.6" r="1.55" fill="#d9521f"/>
<circle cx="438.6" cy="172.3" r="1.55" fill="#df5e1d"/>
<circle cx="280.2" cy="248.7" r="1.55" fill="#1eb2b5"/>
<circle cx="70.0" cy="73.3" r="1.55" fill="#e9761a"/>
<circle cx="133.5" cy="83.6" r="1.55" fill="#f08f17"/>
<circle cx="457.5" cy="172.1" r="1.55" fill="#dc581e"/>
<circle cx="229.9" cy="202.7" r="1.55" fill="#0f72ba"/>
<circle cx="613.4" cy="100.5" r="1.55" fill="#107abe"/>
<circle cx="152.1" cy="79.6" r="1.55" fill="#e56b1c"/>
<circle cx="273.8" cy="260.9" r="1.55" fill="#24b5ad"/>
<circle cx="506.6" cy="157.2" r="1.55" fill="#da531f"/>
<circle cx="532.1" cy="152.4" r="1.55" fill="#e0611d"/>
<circle cx="423.1" cy="177.8" r="1.55" fill="#ec8418"/>
<circle cx="275.7" cy="253.6" r="1.55" fill="#1eb0b6"/>
<circle cx="581.0" cy="161.9" r="1.55" fill="#db551e"/>
<circle cx="210.6" cy="97.1" r="1.55" fill="#97c746"/>
<circle cx="166.8" cy="81.8" r="1.55" fill="#f9c310"/>
<circle cx="213.7" cy="26.7" r="1.55" fill="#64bf6d"/>
<circle cx="213.5" cy="96.4" r="1.55" fill="#f6ae12"/>
<circle cx="348.1" cy="237.9" r="1.55" fill="#2bb7a4"/>
<circle cx="360.4" cy="216.1" r="1.55" fill="#0d6bb6"/>
<circle cx="354.9" cy="237.7" r="1.55" fill="#cad025"/>
<circle cx="271.4" cy="226.0" r="1.55" fill="#0e6fb8"/>
<circle cx="290.4" cy="235.2" r="1.55" fill="#80c356"/>
<circle cx="108.7" cy="80.7" r="1.55" fill="#e7711b"/>
<circle cx="522.8" cy="146.3" r="1.55" fill="#dd5a1e"/>
<circle cx="547.0" cy="139.0" r="1.55" fill="#f5d710"/>
<circle cx="210.3" cy="95.4" r="1.55" fill="#facc0e"/>
<circle cx="598.4" cy="173.7" r="1.55" fill="#dd591e"/>
<circle cx="234.3" cy="229.5" r="1.55" fill="#1792c3"/>
<circle cx="141.3" cy="80.9" r="1.55" fill="#df5f1d"/>
<circle cx="162.7" cy="36.6" r="1.55" fill="#0e6db7"/>
<circle cx="179.9" cy="90.7" r="1.55" fill="#fbce0e"/>
<circle cx="407.8" cy="210.5" r="1.55" fill="#f6ab13"/>
<circle cx="610.5" cy="103.6" r="1.55" fill="#0e6db7"/>
<circle cx="80.6" cy="75.2" r="1.55" fill="#ed8418"/>
<circle cx="600.6" cy="166.6" r="1.55" fill="#db561e"/>
<circle cx="228.7" cy="181.9" r="1.55" fill="#0c64b2"/>
<circle cx="273.4" cy="222.0" r="1.55" fill="#107bbe"/>
<circle cx="264.7" cy="269.5" r="1.55" fill="#0e6eb7"/>
<circle cx="296.1" cy="216.9" r="1.55" fill="#0d68b4"/>
<circle cx="204.2" cy="57.6" r="1.55" fill="#0f76bc"/>
<circle cx="601.9" cy="164.7" r="1.55" fill="#db551e"/>
<circle cx="589.9" cy="187.1" r="1.55" fill="#f7b312"/>
<circle cx="127.3" cy="81.6" r="1.55" fill="#e4681c"/>
<circle cx="391.3" cy="217.8" r="1.55" fill="#0d6bb6"/>
<circle cx="419.6" cy="185.5" r="1.55" fill="#ef8d17"/>
<circle cx="326.5" cy="218.1" r="1.55" fill="#28b6a9"/>
<circle cx="269.0" cy="215.4" r="1.55" fill="#199bc1"/>
<circle cx="275.4" cy="244.4" r="1.55" fill="#1897c4"/>
<circle cx="162.1" cy="78.7" r="1.55" fill="#f09316"/>
<circle cx="96.1" cy="78.6" r="1.55" fill="#dc571e"/>
<circle cx="343.8" cy="236.8" r="1.55" fill="#38b993"/>
<circle cx="610.3" cy="102.7" r="1.55" fill="#0d6ab5"/>
<circle cx="555.2" cy="162.5" r="1.55" fill="#ecd515"/>
<circle cx="623.7" cy="121.2" r="1.55" fill="#117dbf"/>
<circle cx="419.8" cy="180.3" r="1.55" fill="#f1d613"/>
<circle cx="173.2" cy="84.9" r="1.55" fill="#f08f17"/>
<circle cx="204.3" cy="16.6" r="1.55" fill="#0e72b9"/>
<circle cx="153.3" cy="80.0" r="1.55" fill="#d8501f"/>
<circle cx="394.4" cy="215.9" r="1.55" fill="#1384c0"/>
<circle cx="313.2" cy="230.1" r="1.55" fill="#1ca7bb"/>
<circle cx="568.2" cy="173.3" r="1.55" fill="#db551e"/>
<circle cx="606.8" cy="163.9" r="1.55" fill="#da551f"/>
<circle cx="144.5" cy="56.8" r="1.55" fill="#2ab6a6"/>
<circle cx="117.5" cy="58.6" r="1.55" fill="#0f73ba"/>
<circle cx="621.4" cy="68.8" r="1.55" fill="#0c66b3"/>
<circle cx="259.9" cy="257.1" r="1.55" fill="#1ca7bb"/>
<circle cx="478.5" cy="166.6" r="1.55" fill="#dc581e"/>
<circle cx="324.5" cy="221.8" r="1.55" fill="#0f73ba"/>
<circle cx="122.0" cy="84.7" r="1.55" fill="#f19316"/>
<circle cx="209.8" cy="58.5" r="1.55" fill="#0d6bb6"/>
<circle cx="273.2" cy="260.6" r="1.55" fill="#28b6a9"/>
<circle cx="540.3" cy="154.0" r="1.55" fill="#d9531f"/>
<circle cx="406.7" cy="223.7" r="1.55" fill="#9ac843"/>
<circle cx="263.8" cy="269.3" r="1.55" fill="#1793c3"/>
<circle cx="279.5" cy="215.5" r="1.55" fill="#0c67b3"/>
<circle cx="419.8" cy="182.4" r="1.55" fill="#d8501f"/>
<circle cx="533.8" cy="153.1" r="1.55" fill="#de5c1e"/>
<circle cx="291.8" cy="237.5" r="1.55" fill="#7ac25b"/>
<circle cx="411.6" cy="207.2" r="1.55" fill="#accb37"/>
<circle cx="222.3" cy="102.3" r="1.55" fill="#eed614"/>
<circle cx="382.0" cy="216.0" r="1.55" fill="#1383c0"/>
<circle cx="388.7" cy="219.5" r="1.55" fill="#199cc1"/>
<circle cx="236.8" cy="234.8" r="1.55" fill="#0f72ba"/>
<circle cx="251.0" cy="217.7" r="1.55" fill="#0e6db7"/>
<circle cx="302.8" cy="233.5" r="1.55" fill="#24b5ad"/>
<circle cx="519.3" cy="151.3" r="1.55" fill="#f39d14"/>
<circle cx="387.6" cy="217.5" r="1.55" fill="#0f73ba"/>
<circle cx="321.3" cy="216.7" r="1.55" fill="#0c64b2"/>
<circle cx="177.1" cy="54.0" r="1.55" fill="#0d69b5"/>
<circle cx="558.8" cy="168.9" r="1.55" fill="#dd5b1e"/>
<circle cx="619.1" cy="141.3" r="1.55" fill="#4fbc7e"/>
<circle cx="487.7" cy="165.8" r="1.55" fill="#da551e"/>
<circle cx="219.7" cy="42.0" r="1.55" fill="#4cbc80"/>
<circle cx="464.3" cy="169.3" r="1.55" fill="#da541f"/>
<circle cx="240.9" cy="228.7" r="1.55" fill="#9ac844"/>
<circle cx="493.0" cy="162.0" r="1.55" fill="#d9521f"/>
<circle cx="415.6" cy="188.9" r="1.55" fill="#e4681c"/>
<circle cx="248.2" cy="251.2" r="1.55" fill="#1a9ec0"/>
<circle cx="374.6" cy="238.2" r="1.55" fill="#33b899"/>
<circle cx="168.5" cy="81.1" r="1.55" fill="#f9c50f"/>
<circle cx="272.5" cy="226.3" r="1.55" fill="#81c356"/>
<circle cx="370.9" cy="216.5" r="1.55" fill="#0d6cb6"/>
<circle cx="205.4" cy="39.0" r="1.55" fill="#107abe"/>
<circle cx="370.5" cy="217.4" r="1.55" fill="#0f73ba"/>
<circle cx="561.6" cy="173.3" r="1.55" fill="#de5d1e"/>
<circle cx="99.2" cy="81.9" r="1.55" fill="#e5691c"/>
<circle cx="609.1" cy="160.9" r="1.55" fill="#e66b1c"/>
<circle cx="122.7" cy="82.8" r="1.55" fill="#ef8f17"/>
<circle cx="602.9" cy="164.3" r="1.55" fill="#dd5a1e"/>
<circle cx="69.3" cy="72.2" r="1.55" fill="#e0601d"/>
<circle cx="207.3" cy="51.2" r="1.55" fill="#0f74bb"/>
<circle cx="409.5" cy="217.0" r="1.55" fill="#dad31d"/>
<circle cx="214.0" cy="23.6" r="1.55" fill="#1eb0b6"/>
<circle cx="161.2" cy="77.8" r="1.55" fill="#e8d517"/>
<circle cx="622.3" cy="87.0" r="1.55" fill="#b1cc33"/>
<circle cx="629.1" cy="76.0" r="1.55" fill="#d9531f"/>
<circle cx="364.6" cy="215.7" r="1.55" fill="#1ca8ba"/>
<circle cx="201.3" cy="51.9" r="1.55" fill="#0e6cb7"/>
<circle cx="510.9" cy="156.2" r="1.55" fill="#dc591e"/>
<circle cx="197.6" cy="91.0" r="1.55" fill="#f8bf10"/>
<circle cx="232.3" cy="195.5" r="1.55" fill="#1078bd"/>
<circle cx="493.8" cy="164.4" r="1.55" fill="#dc571e"/>
<circle cx="99.1" cy="81.4" r="1.55" fill="#e2641d"/>
<circle cx="492.0" cy="160.7" r="1.55" fill="#d9521f"/>
<circle cx="628.2" cy="76.2" r="1.55" fill="#db571e"/>
<circle cx="185.1" cy="86.5" r="1.55" fill="#f39b15"/>
<circle cx="341.4" cy="235.2" r="1.55" fill="#48bb83"/>
<circle cx="103.2" cy="81.2" r="1.55" fill="#dd5a1e"/>
<circle cx="264.2" cy="262.1" r="1.55" fill="#89c450"/>
<circle cx="250.3" cy="216.3" r="1.55" fill="#1383c0"/>
<circle cx="77.2" cy="69.9" r="1.55" fill="#e4681c"/>
<circle cx="93.7" cy="78.9" r="1.55" fill="#ed8518"/>
<circle cx="243.6" cy="255.9" r="1.55" fill="#0c64b2"/>
<circle cx="242.8" cy="261.6" r="1.55" fill="#75c15e"/>
<circle cx="138.8" cy="84.2" r="1.55" fill="#78c15c"/>
<circle cx="543.7" cy="153.3" r="1.55" fill="#dd591e"/>
<circle cx="526.6" cy="148.9" r="1.55" fill="#dd591e"/>
<circle cx="103.9" cy="83.3" r="1.55" fill="#e2651d"/>
<circle cx="283.7" cy="241.9" r="1.55" fill="#b2cc32"/>
<circle cx="282.9" cy="244.4" r="1.55" fill="#1489c1"/>
<circle cx="479.4" cy="166.3" r="1.55" fill="#de5c1e"/>
<circle cx="182.3" cy="90.6" r="1.55" fill="#f09216"/>
<circle cx="283.5" cy="241.2" r="1.55" fill="#33b89a"/>
<circle cx="631.0" cy="78.7" r="1.55" fill="#dc591e"/>
<circle cx="596.7" cy="180.7" r="1.55" fill="#d8511f"/>
<circle cx="410.5" cy="206.3" r="1.55" fill="#f5aa13"/>
<circle cx="579.2" cy="160.8" r="1.55" fill="#da531f"/>
<circle cx="204.9" cy="93.7" r="1.55" fill="#f5aa13"/>
<circle cx="269.4" cy="260.9" r="1.55" fill="#1dabb9"/>
<circle cx="458.0" cy="169.0" r="1.55" fill="#da541f"/>
<circle cx="362.2" cy="238.8" r="1.55" fill="#21b4b2"/>
<circle cx="197.3" cy="93.7" r="1.55" fill="#f4d711"/>
<circle cx="616.4" cy="158.0" r="1.55" fill="#e2641d"/>
<circle cx="591.9" cy="183.5" r="1.55" fill="#dd5a1e"/>
<circle cx="594.2" cy="182.2" r="1.55" fill="#da551e"/>
<circle cx="330.5" cy="218.7" r="1.55" fill="#107abe"/>
<circle cx="354.4" cy="238.9" r="1.55" fill="#27b6aa"/>
<circle cx="245.7" cy="241.3" r="1.55" fill="#36b995"/>
<circle cx="615.4" cy="158.3" r="1.55" fill="#da541f"/>
<circle cx="405.1" cy="204.6" r="1.55" fill="#158dc2"/>
<circle cx="405.5" cy="230.0" r="1.55" fill="#6ec064"/>
<circle cx="133.8" cy="60.1" r="1.55" fill="#1079bd"/>
<circle cx="212.0" cy="27.3" r="1.55" fill="#22b5b0"/>
<circle cx="139.7" cy="36.9" r="1.55" fill="#0f77bc"/>
<circle cx="385.6" cy="223.7" r="1.55" fill="#1384c0"/>
<circle cx="430.4" cy="173.2" r="1.55" fill="#da551e"/>
<circle cx="413.5" cy="190.9" r="1.55" fill="#d8501f"/>
<circle cx="99.2" cy="80.6" r="1.55" fill="#e0611d"/>
<circle cx="206.1" cy="94.7" r="1.55" fill="#e7711b"/>
<circle cx="470.3" cy="169.9" r="1.55" fill="#dc591e"/>
<circle cx="294.7" cy="232.1" r="1.55" fill="#85c452"/>
<circle cx="197.7" cy="93.0" r="1.55" fill="#aecb35"/>
<circle cx="219.6" cy="147.6" r="1.55" fill="#1eafb6"/>
<circle cx="204.7" cy="93.6" r="1.55" fill="#62be6e"/>
<circle cx="620.0" cy="65.8" r="1.55" fill="#f5d710"/>
<circle cx="427.6" cy="170.7" r="1.55" fill="#f29a15"/>
<circle cx="266.7" cy="25.3" r="1.55" fill="#0c64b2"/>
<circle cx="567.7" cy="179.5" r="1.55" fill="#da541f"/>
<circle cx="266.0" cy="276.3" r="1.55" fill="#0e6eb8"/>
<circle cx="181.8" cy="42.9" r="1.55" fill="#0f77bc"/>
<circle cx="478.1" cy="166.1" r="1.55" fill="#da531f"/>
<circle cx="145.3" cy="85.0" r="1.55" fill="#d8501f"/>
<circle cx="531.7" cy="151.9" r="1.55" fill="#df5d1e"/>
<circle cx="301.7" cy="233.3" r="1.55" fill="#66bf6b"/>
<circle cx="267.5" cy="264.2" r="1.55" fill="#95c747"/>
<circle cx="522.0" cy="148.8" r="1.55" fill="#e2631d"/>
<circle cx="402.4" cy="228.6" r="1.55" fill="#70c062"/>
<circle cx="495.3" cy="160.7" r="1.55" fill="#de5c1e"/>
<circle cx="545.4" cy="156.0" r="1.55" fill="#dd5a1e"/>
<circle cx="272.3" cy="217.3" r="1.55" fill="#1385c0"/>
<circle cx="424.5" cy="177.4" r="1.55" fill="#e76f1c"/>
<circle cx="128.3" cy="85.1" r="1.55" fill="#e7711b"/>
<circle cx="529.0" cy="152.4" r="1.55" fill="#dc571e"/>
<circle cx="343.3" cy="235.9" r="1.55" fill="#41bb8a"/>
<circle cx="261.2" cy="55.2" r="1.55" fill="#0d69b5"/>
<circle cx="214.0" cy="35.4" r="1.55" fill="#25b5ad"/>
<circle cx="69.7" cy="70.4" r="1.55" fill="#d1d122"/>
<circle cx="174.6" cy="83.2" r="1.55" fill="#da541f"/>
<circle cx="82.9" cy="72.1" r="1.55" fill="#dc581e"/>
<circle cx="611.5" cy="159.8" r="1.55" fill="#e4681c"/>
<circle cx="270.2" cy="270.4" r="1.55" fill="#34b899"/>
<circle cx="391.3" cy="215.9" r="1.55" fill="#0e70b9"/>
<circle cx="373.3" cy="216.7" r="1.55" fill="#0d68b4"/>
<circle cx="254.7" cy="214.6" r="1.55" fill="#1280bf"/>
<circle cx="264.0" cy="60.0" r="1.55" fill="#0c66b3"/>
<circle cx="134.8" cy="47.8" r="1.55" fill="#1079be"/>
<circle cx="374.0" cy="227.9" r="1.55" fill="#1280bf"/>
<circle cx="413.2" cy="186.2" r="1.55" fill="#f09016"/>
<circle cx="367.5" cy="240.9" r="1.55" fill="#1eb1b6"/>
<circle cx="347.4" cy="236.2" r="1.55" fill="#35b898"/>
<circle cx="514.9" cy="149.3" r="1.55" fill="#db551e"/>
<circle cx="220.5" cy="102.1" r="1.55" fill="#64bf6d"/>
<circle cx="217.9" cy="99.0" r="1.55" fill="#fac90f"/>
<circle cx="525.4" cy="147.3" r="1.55" fill="#e2641d"/>
<circle cx="136.5" cy="61.9" r="1.55" fill="#1079bd"/>
<circle cx="286.6" cy="215.5" r="1.55" fill="#0f74bb"/>
<circle cx="428.8" cy="173.6" r="1.55" fill="#e66b1c"/>
<circle cx="101.5" cy="82.2" r="1.55" fill="#e8721b"/>
<circle cx="407.2" cy="204.5" r="1.55" fill="#b9cd2d"/>
<circle cx="592.2" cy="180.5" r="1.55" fill="#dd5b1e"/>
<circle cx="206.5" cy="93.3" r="1.55" fill="#48bb84"/>
<circle cx="490.9" cy="162.8" r="1.55" fill="#dc581e"/>
<circle cx="258.2" cy="214.8" r="1.55" fill="#0c65b2"/>
<circle cx="277.2" cy="252.5" r="1.55" fill="#28b6a9"/>
<circle cx="364.8" cy="220.8" r="1.55" fill="#0d6ab6"/>
<circle cx="71.1" cy="68.9" r="1.55" fill="#e56b1c"/>
<circle cx="404.5" cy="218.7" r="1.55" fill="#a8ca3a"/>
<circle cx="407.9" cy="201.7" r="1.55" fill="#aacb38"/>
<circle cx="476.0" cy="167.8" r="1.55" fill="#e05f1d"/>
<circle cx="145.0" cy="81.6" r="1.55" fill="#ef8e17"/>
<circle cx="185.7" cy="88.5" r="1.55" fill="#f8d70f"/>
<circle cx="543.6" cy="154.2" r="1.55" fill="#db571e"/>
<circle cx="203.9" cy="50.5" r="1.55" fill="#0f76bc"/>
<circle cx="221.0" cy="100.4" r="1.55" fill="#8ac54f"/>
<circle cx="208.7" cy="93.8" r="1.55" fill="#fac90f"/>
<circle cx="138.3" cy="84.4" r="1.55" fill="#fcd70d"/>
<circle cx="179.1" cy="65.6" r="1.55" fill="#0c67b3"/>
<circle cx="111.5" cy="83.4" r="1.55" fill="#e66d1c"/>
<circle cx="431.4" cy="169.9" r="1.55" fill="#e2641d"/>
<circle cx="504.1" cy="158.1" r="1.55" fill="#e0601d"/>
<circle cx="261.7" cy="60.9" r="1.55" fill="#0e6eb7"/>
<circle cx="355.7" cy="234.3" r="1.55" fill="#39b992"/>
<circle cx="246.2" cy="25.8" r="1.55" fill="#0d6bb6"/>
<circle cx="522.3" cy="149.1" r="1.55" fill="#dc591e"/>
<circle cx="97.7" cy="79.3" r="1.55" fill="#f7b711"/>
<circle cx="130.2" cy="82.2" r="1.55" fill="#de5c1e"/>
<circle cx="86.4" cy="78.3" r="1.55" fill="#ded31c"/>
<circle cx="206.4" cy="21.3" r="1.55" fill="#0d68b4"/>
<circle cx="273.5" cy="255.9" r="1.55" fill="#107abe"/>
<circle cx="162.3" cy="82.2" r="1.55" fill="#f9d80e"/>
<circle cx="586.3" cy="166.3" r="1.55" fill="#dc581e"/>
<circle cx="527.8" cy="150.3" r="1.55" fill="#dd5a1e"/>
<circle cx="93.5" cy="77.1" r="1.55" fill="#d8501f"/>
<circle cx="259.1" cy="46.2" r="1.55" fill="#0d69b5"/>
<circle cx="471.5" cy="165.9" r="1.55" fill="#df5e1d"/>
<circle cx="244.1" cy="215.5" r="1.55" fill="#1079bd"/>
<circle cx="123.7" cy="83.6" r="1.55" fill="#ee8918"/>
<circle cx="405.5" cy="218.1" r="1.55" fill="#7cc25a"/>
<circle cx="398.0" cy="237.1" r="1.55" fill="#77c15d"/>
<circle cx="154.4" cy="78.4" r="1.55" fill="#e1621d"/>
<circle cx="593.4" cy="177.7" r="1.55" fill="#dd5a1e"/>
<circle cx="411.5" cy="202.4" r="1.55" fill="#d8501f"/>
<circle cx="247.5" cy="260.0" r="1.55" fill="#33b89a"/>
<circle cx="620.6" cy="99.0" r="1.55" fill="#70c062"/>
<circle cx="252.2" cy="219.8" r="1.55" fill="#0e6fb8"/>
<circle cx="381.3" cy="218.1" r="1.55" fill="#0c67b3"/>
<circle cx="623.4" cy="102.3" r="1.55" fill="#0e6fb8"/>
<circle cx="580.2" cy="165.0" r="1.55" fill="#df5d1e"/>
<circle cx="365.4" cy="236.5" r="1.55" fill="#58bd76"/>
<circle cx="443.8" cy="171.9" r="1.55" fill="#e2651d"/>
<circle cx="234.3" cy="217.4" r="1.55" fill="#93c648"/>
<circle cx="270.5" cy="264.9" r="1.55" fill="#50bc7d"/>
<circle cx="234.2" cy="63.1" r="1.55" fill="#0c66b3"/>
<circle cx="227.2" cy="149.7" r="1.55" fill="#3aba90"/>
<circle cx="388.1" cy="238.7" r="1.55" fill="#1eafb7"/>
<circle cx="507.4" cy="156.8" r="1.55" fill="#da541f"/>
<circle cx="615.2" cy="106.3" r="1.55" fill="#117fbf"/>
<circle cx="408.6" cy="198.3" r="1.55" fill="#117ebf"/>
<circle cx="488.9" cy="164.3" r="1.55" fill="#df5e1d"/>
<circle cx="317.7" cy="216.2" r="1.55" fill="#0e71b9"/>
<circle cx="130.8" cy="84.8" r="1.55" fill="#fbd30e"/>
<circle cx="325.0" cy="233.0" r="1.55" fill="#2eb7a0"/>
<circle cx="405.0" cy="225.4" r="1.55" fill="#aacb38"/>
<circle cx="229.2" cy="184.1" r="1.55" fill="#0f76bc"/>
<circle cx="388.8" cy="231.6" r="1.55" fill="#1280bf"/>
<circle cx="555.6" cy="162.7" r="1.55" fill="#f2d612"/>
<circle cx="390.8" cy="239.4" r="1.55" fill="#23b5ae"/>
<circle cx="535.7" cy="152.7" r="1.55" fill="#df5e1d"/>
<circle cx="286.6" cy="215.2" r="1.55" fill="#0f76bc"/>
<circle cx="224.7" cy="101.8" r="1.55" fill="#4cbc81"/>
<circle cx="252.0" cy="265.8" r="1.55" fill="#0f75bb"/>
<circle cx="591.1" cy="186.9" r="1.55" fill="#dd5b1e"/>
<circle cx="125.0" cy="84.1" r="1.55" fill="#fbd00e"/>
<circle cx="317.9" cy="233.7" r="1.55" fill="#51bc7c"/>
<circle cx="316.8" cy="232.8" r="1.55" fill="#39b992"/>
<circle cx="350.9" cy="215.1" r="1.55" fill="#1079bd"/>
<circle cx="568.3" cy="173.1" r="1.55" fill="#d9511f"/>
<circle cx="227.4" cy="113.7" r="1.55" fill="#38b994"/>
<circle cx="104.2" cy="81.8" r="1.55" fill="#f4d711"/>
<circle cx="90.8" cy="78.0" r="1.55" fill="#d8501f"/>
<circle cx="240.4" cy="254.7" r="1.55" fill="#27b6a9"/>
<circle cx="390.5" cy="215.5" r="1.55" fill="#148ac1"/>
<circle cx="155.9" cy="46.3" r="1.55" fill="#0e6db7"/>
<circle cx="241.5" cy="77.7" r="1.55" fill="#0e70b9"/>
<circle cx="379.2" cy="221.1" r="1.55" fill="#0e6fb8"/>
<circle cx="614.4" cy="158.1" r="1.55" fill="#f4d711"/>
<circle cx="595.1" cy="180.1" r="1.55" fill="#dd5b1e"/>
<circle cx="278.2" cy="248.9" r="1.55" fill="#31b89d"/>
<circle cx="517.2" cy="150.0" r="1.55" fill="#d9521f"/>
<circle cx="214.6" cy="35.5" r="1.55" fill="#0c65b2"/>
<circle cx="569.3" cy="176.5" r="1.55" fill="#de5c1e"/>
<circle cx="113.9" cy="57.2" r="1.55" fill="#1078bd"/>
<circle cx="206.6" cy="20.4" r="1.55" fill="#0f76bc"/>
<circle cx="316.7" cy="232.9" r="1.55" fill="#29b6a7"/>
<circle cx="82.7" cy="74.0" r="1.55" fill="#df5e1e"/>
<circle cx="621.7" cy="98.3" r="1.55" fill="#1eb1b5"/>
<circle cx="599.7" cy="169.1" r="1.55" fill="#e0601d"/>
<circle cx="121.2" cy="86.1" r="1.55" fill="#e7711b"/>
<circle cx="366.2" cy="238.4" r="1.55" fill="#40ba8b"/>
<circle cx="319.1" cy="230.6" r="1.55" fill="#2db7a2"/>
<circle cx="169.2" cy="81.7" r="1.55" fill="#e3661d"/>
<circle cx="273.8" cy="245.4" r="1.55" fill="#22b5b0"/>
<circle cx="82.7" cy="75.2" r="1.55" fill="#e9771a"/>
<circle cx="332.9" cy="215.9" r="1.55" fill="#1384c0"/>
<circle cx="589.5" cy="176.4" r="1.55" fill="#d9511f"/>
<circle cx="326.5" cy="232.1" r="1.55" fill="#1dabb9"/>
<circle cx="306.4" cy="231.5" r="1.55" fill="#64bf6c"/>
<circle cx="258.8" cy="261.3" r="1.55" fill="#0e70b9"/>
<circle cx="260.4" cy="275.1" r="1.55" fill="#50bc7d"/>
<circle cx="498.2" cy="162.2" r="1.55" fill="#db551e"/>
<circle cx="266.1" cy="215.6" r="1.55" fill="#0d68b4"/>
<circle cx="121.0" cy="83.9" r="1.55" fill="#e76f1b"/>
<circle cx="413.7" cy="181.0" r="1.55" fill="#e56a1c"/>
<circle cx="225.0" cy="93.2" r="1.55" fill="#0e71b9"/>
<circle cx="100.9" cy="81.0" r="1.55" fill="#e7711b"/>
<circle cx="410.6" cy="204.7" r="1.55" fill="#e2d41a"/>
<circle cx="287.3" cy="216.6" r="1.55" fill="#0f77bc"/>
<circle cx="503.4" cy="158.9" r="1.55" fill="#d9511f"/>
<circle cx="267.3" cy="217.8" r="1.55" fill="#1079bd"/>
<circle cx="371.2" cy="239.9" r="1.55" fill="#37b995"/>
<circle cx="621.4" cy="75.7" r="1.55" fill="#107abe"/>
<circle cx="261.9" cy="217.7" r="1.55" fill="#0e6db7"/>
<circle cx="429.8" cy="174.0" r="1.55" fill="#eb7d19"/>
<circle cx="433.1" cy="171.3" r="1.55" fill="#da551e"/>
<circle cx="467.1" cy="167.1" r="1.55" fill="#da551e"/>
<circle cx="278.6" cy="245.8" r="1.55" fill="#1dadb8"/>
<circle cx="265.9" cy="273.4" r="1.55" fill="#1385c0"/>
<circle cx="404.0" cy="220.4" r="1.55" fill="#0d67b4"/>
<circle cx="349.1" cy="236.2" r="1.55" fill="#38b993"/>
<circle cx="545.3" cy="155.8" r="1.55" fill="#de5c1e"/>
<circle cx="139.6" cy="39.6" r="1.55" fill="#0f75bb"/>
<circle cx="525.8" cy="151.7" r="1.55" fill="#da551e"/>
<circle cx="81.7" cy="72.6" r="1.55" fill="#dc571e"/>
<circle cx="114.9" cy="85.8" r="1.55" fill="#d9521f"/>
<circle cx="421.2" cy="176.6" r="1.55" fill="#e9761a"/>
<circle cx="612.5" cy="104.8" r="1.55" fill="#0e6db7"/>
<circle cx="360.1" cy="214.8" r="1.55" fill="#1386c1"/>
<circle cx="410.3" cy="204.8" r="1.55" fill="#cdd024"/>
<circle cx="353.2" cy="237.7" r="1.55" fill="#50bc7d"/>
<circle cx="296.5" cy="218.4" r="1.55" fill="#107bbe"/>
<circle cx="593.8" cy="183.9" r="1.55" fill="#dc591e"/>
<circle cx="391.8" cy="215.4" r="1.55" fill="#0f76bc"/>
<circle cx="311.1" cy="230.9" r="1.55" fill="#2bb6a5"/>
<circle cx="438.8" cy="174.9" r="1.55" fill="#d9521f"/>
<circle cx="352.0" cy="235.3" r="1.55" fill="#51bc7c"/>
<circle cx="439.0" cy="176.3" r="1.55" fill="#da531f"/>
<circle cx="586.1" cy="167.1" r="1.55" fill="#d9511f"/>
<circle cx="332.9" cy="214.9" r="1.55" fill="#0f75bb"/>
<circle cx="369.2" cy="239.0" r="1.55" fill="#3bba90"/>
<circle cx="592.9" cy="184.0" r="1.55" fill="#df5f1d"/>
<circle cx="266.9" cy="274.6" r="1.55" fill="#1282c0"/>
<circle cx="265.4" cy="272.8" r="1.55" fill="#0e6db7"/>
<circle cx="235.6" cy="225.6" r="1.55" fill="#1a9fbf"/>
<circle cx="583.5" cy="163.5" r="1.55" fill="#e3671d"/>
<circle cx="557.9" cy="166.1" r="1.55" fill="#d8511f"/>
<circle cx="378.1" cy="216.9" r="1.55" fill="#0f77bc"/>
<circle cx="225.8" cy="106.6" r="1.55" fill="#6abf67"/>
<circle cx="465.0" cy="168.7" r="1.55" fill="#de5c1e"/>
<circle cx="401.2" cy="234.6" r="1.55" fill="#3bba90"/>
<circle cx="340.4" cy="215.0" r="1.55" fill="#0e6fb8"/>
<circle cx="189.4" cy="89.9" r="1.55" fill="#f7b811"/>
<circle cx="539.2" cy="154.0" r="1.55" fill="#dd5b1e"/>
<circle cx="332.4" cy="234.1" r="1.55" fill="#81c356"/>
<circle cx="145.6" cy="84.3" r="1.55" fill="#fbd30e"/>
<circle cx="108.1" cy="81.8" r="1.55" fill="#e8d517"/>
<circle cx="123.6" cy="56.3" r="1.55" fill="#0d6ab5"/>
<circle cx="440.9" cy="173.9" r="1.55" fill="#d8511f"/>
<circle cx="135.7" cy="83.6" r="1.55" fill="#db561e"/>
<circle cx="217.8" cy="97.3" r="1.55" fill="#b3cc32"/>
<circle cx="595.7" cy="171.8" r="1.55" fill="#d9531f"/>
<circle cx="630.3" cy="81.9" r="1.55" fill="#e1631d"/>
<circle cx="585.7" cy="166.2" r="1.55" fill="#da541f"/>
<circle cx="611.5" cy="159.5" r="1.55" fill="#dc591e"/>
<circle cx="186.4" cy="89.2" r="1.55" fill="#bece2b"/>
<circle cx="114.9" cy="54.3" r="1.55" fill="#0f76bc"/>
<circle cx="387.5" cy="229.4" r="1.55" fill="#1488c1"/>
<circle cx="383.9" cy="215.8" r="1.55" fill="#1281c0"/>
<circle cx="258.3" cy="218.6" r="1.55" fill="#0e71b9"/>
<circle cx="295.4" cy="231.9" r="1.55" fill="#78c25c"/>
<circle cx="315.0" cy="232.4" r="1.55" fill="#2ab6a6"/>
<circle cx="398.9" cy="220.7" r="1.55" fill="#117dbf"/>
<circle cx="546.0" cy="131.0" r="1.55" fill="#0e6fb8"/>
<circle cx="284.6" cy="245.8" r="1.55" fill="#72c061"/>
<circle cx="443.7" cy="175.0" r="1.55" fill="#d9521f"/>
<circle cx="336.0" cy="218.5" r="1.55" fill="#1dadb8"/>
<circle cx="474.5" cy="168.3" r="1.55" fill="#da541f"/>
<circle cx="443.8" cy="170.8" r="1.55" fill="#dd5a1e"/>
<circle cx="525.6" cy="150.4" r="1.55" fill="#da541f"/>
<circle cx="229.3" cy="157.9" r="1.55" fill="#1eafb6"/>
<circle cx="442.4" cy="174.3" r="1.55" fill="#e05f1d"/>
<circle cx="227.3" cy="140.6" r="1.55" fill="#3cba8e"/>
<circle cx="559.0" cy="168.5" r="1.55" fill="#de5c1e"/>
<circle cx="322.8" cy="236.1" r="1.55" fill="#36b996"/>
<circle cx="579.6" cy="164.5" r="1.55" fill="#df5f1d"/>
<circle cx="297.0" cy="216.9" r="1.55" fill="#0d67b4"/>
<circle cx="282.1" cy="228.0" r="1.55" fill="#0c66b3"/>
<circle cx="282.7" cy="242.5" r="1.55" fill="#1ca6bb"/>
<circle cx="539.5" cy="153.4" r="1.55" fill="#df5f1d"/>
<circle cx="631.9" cy="81.6" r="1.55" fill="#e1611d"/>
<circle cx="412.1" cy="195.5" r="1.55" fill="#f8b911"/>
<circle cx="561.9" cy="174.3" r="1.55" fill="#e1621d"/>
<circle cx="221.0" cy="100.3" r="1.55" fill="#fbd40d"/>
<circle cx="426.9" cy="173.7" r="1.55" fill="#f4a314"/>
<circle cx="379.8" cy="235.2" r="1.55" fill="#46bb86"/>
<circle cx="247.5" cy="76.6" r="1.55" fill="#0e6db7"/>
<circle cx="103.6" cy="83.3" r="1.55" fill="#facd0e"/>
<circle cx="405.1" cy="235.6" r="1.55" fill="#a5ca3c"/>
<circle cx="602.9" cy="166.5" r="1.55" fill="#dd5a1e"/>
<circle cx="502.7" cy="156.6" r="1.55" fill="#f39b15"/>
<circle cx="415.9" cy="192.3" r="1.55" fill="#d8d21e"/>
<circle cx="514.3" cy="153.5" r="1.55" fill="#da541f"/>
<circle cx="588.6" cy="173.0" r="1.55" fill="#dd5a1e"/>
<circle cx="205.3" cy="95.2" r="1.55" fill="#d2d122"/>
<circle cx="379.9" cy="241.2" r="1.55" fill="#199bc1"/>
<circle cx="203.0" cy="94.3" r="1.55" fill="#bece2b"/>
<circle cx="453.5" cy="171.9" r="1.55" fill="#e2641d"/>
<circle cx="383.6" cy="240.2" r="1.55" fill="#1aa1be"/>
<circle cx="507.8" cy="155.6" r="1.55" fill="#e1621d"/>
<circle cx="336.0" cy="235.1" r="1.55" fill="#5dbe72"/>
<circle cx="449.5" cy="173.0" r="1.55" fill="#e3671d"/>
<circle cx="482.4" cy="168.2" r="1.55" fill="#d8511f"/>
<circle cx="586.1" cy="171.0" r="1.55" fill="#db561e"/>
<circle cx="549.1" cy="156.3" r="1.55" fill="#e1631d"/>
<circle cx="399.9" cy="238.8" r="1.55" fill="#88c451"/>
<circle cx="620.5" cy="74.9" r="1.55" fill="#0e71b9"/>
<circle cx="198.8" cy="91.3" r="1.55" fill="#98c745"/>
<circle cx="143.3" cy="83.6" r="1.55" fill="#e56b1c"/>
<circle cx="355.8" cy="215.3" r="1.55" fill="#107abe"/>
<circle cx="260.2" cy="223.1" r="1.55" fill="#a1c93f"/>
<circle cx="248.7" cy="55.2" r="1.55" fill="#0f74bb"/>
<circle cx="452.5" cy="174.2" r="1.55" fill="#dc581e"/>
<circle cx="138.6" cy="84.9" r="1.55" fill="#d8501f"/>
<circle cx="290.2" cy="220.1" r="1.55" fill="#0c65b2"/>
<circle cx="361.0" cy="236.3" r="1.55" fill="#36b996"/>
<circle cx="436.0" cy="153.0" r="1.55" fill="#1eb1b5"/>
<circle cx="367.0" cy="236.8" r="1.55" fill="#55bd79"/>
<circle cx="474.0" cy="165.6" r="1.55" fill="#e66d1c"/>
<circle cx="624.7" cy="99.9" r="1.55" fill="#0e6fb8"/>
<circle cx="543.6" cy="153.7" r="1.55" fill="#dd5a1e"/>
<circle cx="430.8" cy="171.8" r="1.55" fill="#df5d1e"/>
<circle cx="350.7" cy="238.4" r="1.55" fill="#1897c4"/>
<circle cx="168.3" cy="80.3" r="1.55" fill="#fbd30e"/>
<circle cx="326.8" cy="215.4" r="1.55" fill="#117dbf"/>
<circle cx="289.8" cy="237.4" r="1.55" fill="#61be6f"/>
<circle cx="320.4" cy="230.0" r="1.55" fill="#27b6aa"/>
<circle cx="596.2" cy="179.8" r="1.55" fill="#e2631d"/>
<circle cx="284.2" cy="238.6" r="1.55" fill="#7cc259"/>
<circle cx="165.2" cy="37.0" r="1.55" fill="#0c65b3"/>
<circle cx="171.1" cy="82.2" r="1.55" fill="#e4681c"/>
<circle cx="267.3" cy="272.8" r="1.55" fill="#0d6ab5"/>
<circle cx="270.8" cy="264.4" r="1.55" fill="#76c15e"/>
<circle cx="267.2" cy="62.7" r="1.55" fill="#0d6ab5"/>
<circle cx="365.1" cy="215.8" r="1.55" fill="#0d6bb6"/>
<circle cx="343.1" cy="218.5" r="1.55" fill="#1384c0"/>
<circle cx="269.5" cy="218.2" r="1.55" fill="#199bc1"/>
<circle cx="554.2" cy="161.6" r="1.55" fill="#dd591e"/>
<circle cx="589.9" cy="187.2" r="1.55" fill="#dd5b1e"/>
<circle cx="117.6" cy="48.3" r="1.55" fill="#0e71b9"/>
<circle cx="408.8" cy="214.5" r="1.55" fill="#d5d220"/>
<circle cx="374.1" cy="220.6" r="1.55" fill="#0d6ab5"/>
<circle cx="230.0" cy="187.6" r="1.55" fill="#0d68b4"/>
<circle cx="152.8" cy="41.5" r="1.55" fill="#0f76bc"/>
<circle cx="174.9" cy="84.2" r="1.55" fill="#e2631d"/>
<circle cx="385.4" cy="238.9" r="1.55" fill="#32b89b"/>
<circle cx="336.8" cy="235.2" r="1.55" fill="#57bd77"/>
<circle cx="548.6" cy="157.7" r="1.55" fill="#e3661d"/>
<circle cx="580.2" cy="161.6" r="1.55" fill="#dd591e"/>
<circle cx="491.7" cy="162.5" r="1.55" fill="#e1621d"/>
<circle cx="558.7" cy="168.1" r="1.55" fill="#dd5a1e"/>
<circle cx="263.9" cy="237.9" r="1.55" fill="#85c453"/>
<circle cx="612.1" cy="105.9" r="1.55" fill="#0c66b3"/>
<circle cx="560.9" cy="167.5" r="1.55" fill="#d9511f"/>
<circle cx="404.0" cy="236.5" r="1.55" fill="#a8ca3a"/>
<circle cx="311.4" cy="230.5" r="1.55" fill="#38b993"/>
<circle cx="384.4" cy="229.8" r="1.55" fill="#1282c0"/>
<circle cx="555.7" cy="161.0" r="1.55" fill="#d8501f"/>
<circle cx="117.2" cy="48.8" r="1.55" fill="#0f74bb"/>
<circle cx="260.1" cy="224.5" r="1.55" fill="#1078bd"/>
<circle cx="520.1" cy="147.6" r="1.55" fill="#de5c1e"/>
<circle cx="379.9" cy="215.9" r="1.55" fill="#0f74bb"/>
<circle cx="452.1" cy="174.1" r="1.55" fill="#da531f"/>
<circle cx="250.1" cy="16.4" r="1.55" fill="#0e6fb8"/>
<circle cx="342.8" cy="221.3" r="1.55" fill="#1281c0"/>
<circle cx="294.4" cy="235.0" r="1.55" fill="#bacd2d"/>
<circle cx="313.1" cy="216.1" r="1.55" fill="#107abe"/>
<circle cx="112.2" cy="82.7" r="1.55" fill="#d8d21e"/>
<circle cx="286.7" cy="220.6" r="1.55" fill="#0d68b4"/>
<circle cx="133.1" cy="82.1" r="1.55" fill="#da551e"/>
<circle cx="287.4" cy="237.0" r="1.55" fill="#41bb8a"/>
<circle cx="594.8" cy="177.2" r="1.55" fill="#e2641d"/>
<circle cx="415.8" cy="186.5" r="1.55" fill="#a8ca3a"/>
<circle cx="240.6" cy="16.2" r="1.55" fill="#0e71b9"/>
<circle cx="283.3" cy="237.2" r="1.55" fill="#61be6f"/>
<circle cx="209.8" cy="95.8" r="1.55" fill="#adcb36"/>
<circle cx="261.8" cy="222.3" r="1.55" fill="#117ebf"/>
<circle cx="280.5" cy="245.2" r="1.55" fill="#3aba90"/>
<circle cx="249.7" cy="52.1" r="1.55" fill="#0f72ba"/>
<circle cx="623.3" cy="76.3" r="1.55" fill="#1487c1"/>
<circle cx="369.3" cy="237.9" r="1.55" fill="#3bba8f"/>
<circle cx="473.9" cy="169.6" r="1.55" fill="#dc591e"/>
<circle cx="80.5" cy="76.3" r="1.55" fill="#f19616"/>
<circle cx="175.8" cy="85.0" r="1.55" fill="#d8511f"/>
<circle cx="513.0" cy="153.5" r="1.55" fill="#dc581e"/>
<circle cx="301.7" cy="216.6" r="1.55" fill="#1282c0"/>
<circle cx="605.1" cy="162.3" r="1.55" fill="#e05f1d"/>
<circle cx="168.2" cy="81.0" r="1.55" fill="#f6ae12"/>
<circle cx="360.9" cy="214.8" r="1.55" fill="#0f77bc"/>
<circle cx="284.8" cy="216.6" r="1.55" fill="#1487c1"/>
<circle cx="609.5" cy="99.0" r="1.55" fill="#0d67b4"/>
<circle cx="450.8" cy="171.5" r="1.55" fill="#dc581e"/>
<circle cx="344.4" cy="218.8" r="1.55" fill="#1384c0"/>
<circle cx="258.8" cy="235.4" r="1.55" fill="#1a9fbf"/>
<circle cx="248.2" cy="57.8" r="1.55" fill="#0e6db7"/>
<circle cx="207.3" cy="95.4" r="1.55" fill="#8dc54d"/>
<circle cx="184.0" cy="86.9" r="1.55" fill="#dd5a1e"/>
<circle cx="616.4" cy="103.5" r="1.55" fill="#0e6cb7"/>
<circle cx="633.1" cy="79.3" r="1.55" fill="#e3651d"/>
<circle cx="346.0" cy="238.7" r="1.55" fill="#1ca8ba"/>
<circle cx="587.0" cy="170.8" r="1.55" fill="#e2651d"/>
<circle cx="405.4" cy="220.2" r="1.55" fill="#5ebe71"/>
<circle cx="202.4" cy="54.4" r="1.55" fill="#0d6bb6"/>
<circle cx="542.7" cy="156.0" r="1.55" fill="#db551e"/>
<circle cx="505.5" cy="157.3" r="1.55" fill="#e1621d"/>
<circle cx="259.3" cy="221.8" r="1.55" fill="#1487c1"/>
<circle cx="246.0" cy="32.0" r="1.55" fill="#0f73ba"/>
<circle cx="225.7" cy="154.0" r="1.55" fill="#1da9ba"/>
<circle cx="559.1" cy="167.9" r="1.55" fill="#e2641d"/>
<circle cx="294.2" cy="233.8" r="1.55" fill="#64bf6c"/>
<circle cx="603.9" cy="165.5" r="1.55" fill="#dc581e"/>
<circle cx="231.5" cy="182.3" r="1.55" fill="#199bc1"/>
<circle cx="497.8" cy="161.3" r="1.55" fill="#dc591e"/>
<circle cx="405.4" cy="221.1" r="1.55" fill="#93c649"/>
<circle cx="267.6" cy="25.6" r="1.55" fill="#0f74bb"/>
<circle cx="249.1" cy="215.1" r="1.55" fill="#0f75bb"/>
<circle cx="419.9" cy="179.2" r="1.55" fill="#ea7a1a"/>
<circle cx="106.2" cy="79.3" r="1.55" fill="#f09116"/>
<circle cx="405.8" cy="225.3" r="1.55" fill="#1eb1b5"/>
<circle cx="229.2" cy="170.9" r="1.55" fill="#1898c3"/>
<circle cx="426.0" cy="157.0" r="1.55" fill="#d3d121"/>
<circle cx="191.4" cy="92.5" r="1.55" fill="#f9c50f"/>
<circle cx="152.5" cy="80.4" r="1.55" fill="#fbd10e"/>
<circle cx="534.2" cy="150.2" r="1.55" fill="#da541f"/>
<circle cx="152.7" cy="80.9" r="1.55" fill="#e9781a"/>
<circle cx="303.0" cy="229.8" r="1.55" fill="#6dc064"/>
<circle cx="569.4" cy="176.7" r="1.55" fill="#db561e"/>
<circle cx="370.2" cy="236.3" r="1.55" fill="#a0c93f"/>
<circle cx="264.6" cy="262.2" r="1.55" fill="#117fbf"/>
<circle cx="529.9" cy="153.8" r="1.55" fill="#d9511f"/>
<circle cx="206.1" cy="94.7" r="1.55" fill="#66bf6b"/>
<circle cx="358.7" cy="218.6" r="1.55" fill="#0f77bc"/>
<circle cx="602.7" cy="163.3" r="1.55" fill="#e8d517"/>
<circle cx="383.3" cy="218.5" r="1.55" fill="#0f76bc"/>
<circle cx="137.3" cy="82.5" r="1.55" fill="#e3661d"/>
<circle cx="440.6" cy="175.6" r="1.55" fill="#dd5a1e"/>
<circle cx="68.0" cy="75.6" r="1.55" fill="#f29815"/>
<circle cx="213.0" cy="98.4" r="1.55" fill="#99c744"/>
<circle cx="527.9" cy="150.5" r="1.55" fill="#db561e"/>
<circle cx="93.5" cy="46.2" r="1.55" fill="#0e71b9"/>
<circle cx="100.2" cy="81.7" r="1.55" fill="#f09116"/>
<circle cx="605.8" cy="162.4" r="1.55" fill="#d8501f"/>
<circle cx="166.6" cy="34.2" r="1.55" fill="#0f76bc"/>
<circle cx="274.1" cy="253.9" r="1.55" fill="#1ba2bd"/>
<circle cx="398.6" cy="217.2" r="1.55" fill="#1eb0b6"/>
<circle cx="512.0" cy="153.9" r="1.55" fill="#df5e1e"/>
<circle cx="557.8" cy="164.3" r="1.55" fill="#db571e"/>
<circle cx="461.7" cy="170.4" r="1.55" fill="#db551e"/>
<circle cx="580.0" cy="165.2" r="1.55" fill="#db551e"/>
<circle cx="623.5" cy="119.1" r="1.55" fill="#f5d710"/>
<circle cx="374.8" cy="240.0" r="1.55" fill="#39b992"/>
<circle cx="480.3" cy="165.9" r="1.55" fill="#e66d1c"/>
<circle cx="587.2" cy="183.0" r="1.55" fill="#d9511f"/>
<circle cx="534.8" cy="151.9" r="1.55" fill="#e4691c"/>
<circle cx="318.1" cy="214.8" r="1.55" fill="#20b4b3"/>
<circle cx="90.9" cy="78.5" r="1.55" fill="#e1611d"/>
<circle cx="187.3" cy="87.4" r="1.55" fill="#f1d612"/>
<circle cx="472.5" cy="169.3" r="1.55" fill="#d8501f"/>
<circle cx="430.0" cy="169.7" r="1.55" fill="#e8721b"/>
<circle cx="484.9" cy="168.2" r="1.55" fill="#d9521f"/>
<circle cx="393.8" cy="241.5" r="1.55" fill="#58bd76"/>
<circle cx="266.5" cy="273.8" r="1.55" fill="#117dbf"/>
<circle cx="496.3" cy="161.6" r="1.55" fill="#e66c1c"/>
<circle cx="264.2" cy="259.4" r="1.55" fill="#7ec358"/>
<circle cx="466.4" cy="170.4" r="1.55" fill="#db571e"/>
<circle cx="410.0" cy="202.6" r="1.55" fill="#48bb84"/>
<circle cx="225.6" cy="118.8" r="1.55" fill="#27b6a9"/>
<circle cx="403.9" cy="226.6" r="1.55" fill="#df5e1e"/>
<circle cx="383.6" cy="224.7" r="1.55" fill="#1282c0"/>
<circle cx="67.6" cy="74.0" r="1.55" fill="#f6ad12"/>
<circle cx="206.3" cy="54.7" r="1.55" fill="#0e71b9"/>
<circle cx="400.5" cy="237.6" r="1.55" fill="#88c450"/>
<circle cx="101.6" cy="81.2" r="1.55" fill="#e8721b"/>
<circle cx="624.0" cy="114.7" r="1.55" fill="#0e6fb8"/>
<circle cx="183.4" cy="88.5" r="1.55" fill="#f2d612"/>
<circle cx="440.2" cy="175.6" r="1.55" fill="#fbcf0e"/>
<circle cx="270.7" cy="224.4" r="1.55" fill="#0f74bb"/>
<circle cx="233.3" cy="176.8" r="1.55" fill="#43bb88"/>
<circle cx="325.6" cy="233.1" r="1.55" fill="#6bbf66"/>
<circle cx="614.2" cy="157.1" r="1.55" fill="#d9521f"/>
<circle cx="505.2" cy="158.0" r="1.55" fill="#df5e1e"/>
<circle cx="288.8" cy="239.8" r="1.55" fill="#2eb7a0"/>
<circle cx="211.5" cy="95.0" r="1.55" fill="#c8d026"/>
<circle cx="558.8" cy="170.3" r="1.55" fill="#dc591e"/>
<circle cx="277.2" cy="254.8" r="1.55" fill="#7ec358"/>
<circle cx="584.3" cy="165.6" r="1.55" fill="#e2641d"/>
<circle cx="537.8" cy="154.5" r="1.55" fill="#df5f1d"/>
<circle cx="278.1" cy="218.8" r="1.55" fill="#0e6cb7"/>
<circle cx="434.0" cy="171.1" r="1.55" fill="#df5f1d"/>
<circle cx="318.0" cy="230.4" r="1.55" fill="#32b89b"/>
<circle cx="623.3" cy="107.9" r="1.55" fill="#70c062"/>
<circle cx="398.6" cy="238.6" r="1.55" fill="#63be6d"/>
<circle cx="353.2" cy="217.8" r="1.55" fill="#158bc2"/>
<circle cx="78.0" cy="69.7" r="1.55" fill="#d8501f"/>
<circle cx="308.4" cy="229.6" r="1.55" fill="#5abd75"/>
<circle cx="391.0" cy="240.9" r="1.55" fill="#47bb84"/>
<circle cx="245.2" cy="219.8" r="1.55" fill="#0d69b5"/>
<circle cx="544.7" cy="156.0" r="1.55" fill="#e2641d"/>
<circle cx="341.1" cy="236.0" r="1.55" fill="#40bb8a"/>
<circle cx="304.1" cy="231.4" r="1.55" fill="#9bc843"/>
<circle cx="390.8" cy="215.9" r="1.55" fill="#0e6fb8"/>
<circle cx="243.6" cy="19.7" r="1.55" fill="#0e6eb7"/>
<circle cx="209.9" cy="38.7" r="1.55" fill="#0f75bb"/>
<circle cx="70.1" cy="70.9" r="1.55" fill="#f19616"/>
<circle cx="352.0" cy="235.9" r="1.55" fill="#35b997"/>
<circle cx="584.8" cy="173.0" r="1.55" fill="#d9531f"/>
<circle cx="622.2" cy="82.1" r="1.55" fill="#0e6fb8"/>
<circle cx="155.3" cy="77.4" r="1.55" fill="#e3661d"/>
<circle cx="262.2" cy="220.2" r="1.55" fill="#0c66b3"/>
<circle cx="457.6" cy="171.3" r="1.55" fill="#e2651d"/>
<circle cx="388.9" cy="239.0" r="1.55" fill="#1fb4b4"/>
<circle cx="393.5" cy="230.8" r="1.55" fill="#1487c1"/>
<circle cx="76.1" cy="71.8" r="1.55" fill="#ee8b17"/>
<circle cx="67.3" cy="69.7" r="1.55" fill="#ec8119"/>
<circle cx="280.5" cy="242.8" r="1.55" fill="#1896c4"/>
<circle cx="201.2" cy="94.8" r="1.55" fill="#85c453"/>
<circle cx="213.0" cy="95.9" r="1.55" fill="#facc0e"/>
<circle cx="523.1" cy="146.0" r="1.55" fill="#d9511f"/>
<circle cx="205.5" cy="95.3" r="1.55" fill="#f8be10"/>
<circle cx="622.1" cy="77.3" r="1.55" fill="#db561e"/>
<circle cx="397.2" cy="228.6" r="1.55" fill="#0e6eb7"/>
<circle cx="176.7" cy="85.9" r="1.55" fill="#f6b012"/>
<circle cx="90.5" cy="80.8" r="1.55" fill="#dc571e"/>
<circle cx="505.2" cy="154.2" r="1.55" fill="#de5d1e"/>
<circle cx="628.0" cy="75.7" r="1.55" fill="#e8741b"/>
<circle cx="260.6" cy="218.4" r="1.55" fill="#117cbe"/>
<circle cx="197.8" cy="96.2" r="1.55" fill="#ed8618"/>
<circle cx="605.6" cy="163.2" r="1.55" fill="#de5c1e"/>
<circle cx="612.3" cy="156.0" r="1.55" fill="#107abe"/>
<circle cx="582.7" cy="163.0" r="1.55" fill="#dd5a1e"/>
<circle cx="308.4" cy="232.7" r="1.55" fill="#6fc063"/>
<circle cx="187.2" cy="88.2" r="1.55" fill="#f09116"/>
<circle cx="435.2" cy="173.6" r="1.55" fill="#da531f"/>
<circle cx="69.2" cy="72.5" r="1.55" fill="#ec8318"/>
<circle cx="334.7" cy="219.5" r="1.55" fill="#158ac1"/>
<circle cx="398.2" cy="240.8" r="1.55" fill="#87c452"/>
<circle cx="262.0" cy="220.8" r="1.55" fill="#0f76bc"/>
<circle cx="565.3" cy="178.1" r="1.55" fill="#db561e"/>
<circle cx="428.9" cy="174.4" r="1.55" fill="#e4681c"/>
<circle cx="458.6" cy="170.4" r="1.55" fill="#d9511f"/>
<circle cx="577.1" cy="167.4" r="1.55" fill="#f9c210"/>
<circle cx="542.5" cy="153.5" r="1.55" fill="#d9531f"/>
<circle cx="97.6" cy="82.1" r="1.55" fill="#f29815"/>
<circle cx="473.9" cy="169.5" r="1.55" fill="#e4681c"/>
<circle cx="121.9" cy="52.7" r="1.55" fill="#0e6fb8"/>
<circle cx="262.9" cy="276.1" r="1.55" fill="#3eba8c"/>
<circle cx="266.6" cy="272.1" r="1.55" fill="#1488c1"/>
<circle cx="270.7" cy="265.4" r="1.55" fill="#3aba91"/>
<circle cx="230.7" cy="158.7" r="1.55" fill="#1690c3"/>
<circle cx="561.6" cy="177.8" r="1.55" fill="#db551e"/>
<circle cx="154.0" cy="32.9" r="1.55" fill="#107abe"/>
<circle cx="618.1" cy="72.1" r="1.55" fill="#0e6db7"/>
<circle cx="351.9" cy="237.2" r="1.55" fill="#34b899"/>
<circle cx="330.7" cy="216.1" r="1.55" fill="#0e70b9"/>
<circle cx="384.1" cy="239.6" r="1.55" fill="#1fb4b4"/>
<circle cx="501.2" cy="159.6" r="1.55" fill="#e1631d"/>
<circle cx="244.7" cy="253.8" r="1.55" fill="#22b5b0"/>
<circle cx="622.3" cy="130.0" r="1.55" fill="#0d6cb6"/>
<circle cx="406.3" cy="226.0" r="1.55" fill="#59bd76"/>
<circle cx="187.0" cy="89.1" r="1.55" fill="#ea7a1a"/>
<circle cx="355.4" cy="225.6" r="1.55" fill="#117ebf"/>
<circle cx="212.8" cy="54.6" r="1.55" fill="#0c66b3"/>
<circle cx="376.7" cy="217.4" r="1.55" fill="#0c65b2"/>
<circle cx="557.1" cy="165.1" r="1.55" fill="#db561e"/>
<circle cx="281.8" cy="242.8" r="1.55" fill="#1eb1b6"/>
<circle cx="406.3" cy="227.6" r="1.55" fill="#dfd31b"/>
<circle cx="503.7" cy="156.5" r="1.55" fill="#de5b1e"/>
<circle cx="314.1" cy="218.0" r="1.55" fill="#0f76bc"/>
<circle cx="117.7" cy="62.5" r="1.55" fill="#0d6bb6"/>
<circle cx="119.2" cy="82.4" r="1.55" fill="#e8741b"/>
<circle cx="542.1" cy="153.7" r="1.55" fill="#e0601d"/>
<circle cx="363.2" cy="217.8" r="1.55" fill="#0f74bb"/>
<circle cx="73.7" cy="66.3" r="1.55" fill="#f6b112"/>
<circle cx="184.6" cy="87.1" r="1.55" fill="#c3cf29"/>
<circle cx="239.9" cy="48.5" r="1.55" fill="#0f73ba"/>
<circle cx="272.0" cy="41.8" r="1.55" fill="#0c65b3"/>
<circle cx="445.6" cy="175.5" r="1.55" fill="#db561e"/>
<circle cx="564.0" cy="178.1" r="1.55" fill="#d9521f"/>
<circle cx="78.3" cy="72.0" r="1.55" fill="#f09116"/>
<circle cx="72.1" cy="70.8" r="1.55" fill="#e2641d"/>
<circle cx="72.5" cy="68.5" r="1.55" fill="#e76f1c"/>
<circle cx="545.7" cy="157.4" r="1.55" fill="#db551e"/>
<circle cx="274.5" cy="254.4" r="1.55" fill="#39b992"/>
<circle cx="209.1" cy="25.8" r="1.55" fill="#0d6cb6"/>
<circle cx="460.1" cy="171.7" r="1.55" fill="#df5e1d"/>
<circle cx="326.0" cy="234.2" r="1.55" fill="#31b89d"/>
<circle cx="304.3" cy="216.3" r="1.55" fill="#117cbf"/>
<circle cx="594.6" cy="180.5" r="1.55" fill="#dc581e"/>
<circle cx="183.1" cy="86.5" r="1.55" fill="#d1d122"/>
<circle cx="452.9" cy="171.2" r="1.55" fill="#db551e"/>
<circle cx="208.5" cy="92.6" r="1.55" fill="#b5cc30"/>
<circle cx="133.0" cy="80.0" r="1.55" fill="#da541f"/>
<circle cx="225.8" cy="171.6" r="1.55" fill="#1999c2"/>
<circle cx="513.9" cy="152.3" r="1.55" fill="#fcd50d"/>
<circle cx="135.4" cy="83.4" r="1.55" fill="#e2651d"/>
<circle cx="261.4" cy="224.5" r="1.55" fill="#98c745"/>
<circle cx="372.5" cy="236.9" r="1.55" fill="#37b995"/>
<circle cx="323.6" cy="232.0" r="1.55" fill="#35b997"/>
<circle cx="70.7" cy="30.4" r="1.55" fill="#0e6fb8"/>
<circle cx="620.6" cy="111.8" r="1.55" fill="#f5d710"/>
<circle cx="306.4" cy="229.4" r="1.55" fill="#44bb87"/>
<circle cx="274.2" cy="258.7" r="1.55" fill="#46bb86"/>
<circle cx="299.0" cy="230.8" r="1.55" fill="#22b5b0"/>
<circle cx="164.4" cy="81.6" r="1.55" fill="#88c451"/>
<circle cx="408.1" cy="228.8" r="1.55" fill="#45bb86"/>
<circle cx="326.3" cy="214.8" r="1.55" fill="#1078bd"/>
<circle cx="116.9" cy="83.8" r="1.55" fill="#e1611d"/>
<circle cx="241.7" cy="227.5" r="1.55" fill="#8ec54d"/>
<circle cx="158.1" cy="32.0" r="1.55" fill="#0d6bb6"/>
<circle cx="118.4" cy="55.1" r="1.55" fill="#0d68b4"/>
<circle cx="229.9" cy="178.2" r="1.55" fill="#199bc1"/>
<circle cx="567.9" cy="171.8" r="1.55" fill="#d8511f"/>
<circle cx="153.9" cy="77.0" r="1.55" fill="#e8751b"/>
<circle cx="519.6" cy="147.0" r="1.55" fill="#da551e"/>
<circle cx="559.1" cy="169.8" r="1.55" fill="#da541f"/>
<circle cx="186.9" cy="87.7" r="1.55" fill="#f9c010"/>
<circle cx="233.3" cy="219.5" r="1.55" fill="#0d6bb6"/>
<circle cx="403.9" cy="225.2" r="1.55" fill="#1eaeb7"/>
<circle cx="546.9" cy="155.1" r="1.55" fill="#db561e"/>
<circle cx="554.8" cy="164.9" r="1.55" fill="#dd5a1e"/>
<circle cx="226.0" cy="161.4" r="1.55" fill="#62be6d"/>
<circle cx="336.7" cy="218.0" r="1.55" fill="#22b5b0"/>
<circle cx="377.2" cy="215.4" r="1.55" fill="#148ac1"/>
<circle cx="358.3" cy="215.1" r="1.55" fill="#0f76bc"/>
<circle cx="402.3" cy="236.0" r="1.55" fill="#75c15f"/>
<circle cx="439.6" cy="175.2" r="1.55" fill="#df5e1d"/>
<circle cx="521.5" cy="146.3" r="1.55" fill="#db571e"/>
<circle cx="612.4" cy="102.3" r="1.55" fill="#1079bd"/>
<circle cx="268.0" cy="229.6" r="1.55" fill="#1fb4b4"/>
<circle cx="108.8" cy="83.4" r="1.55" fill="#e66e1c"/>
<circle cx="610.6" cy="159.8" r="1.55" fill="#de5d1e"/>
<circle cx="428.3" cy="173.3" r="1.55" fill="#e8731b"/>
<circle cx="615.0" cy="107.6" r="1.55" fill="#107bbe"/>
<circle cx="163.4" cy="80.7" r="1.55" fill="#fbd40e"/>
<circle cx="276.5" cy="262.6" r="1.55" fill="#23b5af"/>
<circle cx="112.2" cy="82.7" r="1.55" fill="#de5d1e"/>
<circle cx="471.1" cy="168.8" r="1.55" fill="#da551e"/>
<circle cx="153.8" cy="31.2" r="1.55" fill="#0f73ba"/>
<circle cx="210.1" cy="94.6" r="1.55" fill="#76c15e"/>
<circle cx="626.0" cy="76.1" r="1.55" fill="#e4681c"/>
<circle cx="492.4" cy="163.1" r="1.55" fill="#d9511f"/>
<circle cx="599.0" cy="171.1" r="1.55" fill="#da541f"/>
<circle cx="483.7" cy="165.6" r="1.55" fill="#de5c1e"/>
<circle cx="406.4" cy="208.1" r="1.55" fill="#5dbe72"/>
<circle cx="295.0" cy="218.2" r="1.55" fill="#0c65b3"/>
<circle cx="102.2" cy="80.9" r="1.55" fill="#f29a15"/>
<circle cx="230.9" cy="121.8" r="1.55" fill="#38b994"/>
<circle cx="255.0" cy="260.2" r="1.55" fill="#6bbf66"/>
<circle cx="328.9" cy="218.1" r="1.55" fill="#1281c0"/>
<circle cx="99.5" cy="78.9" r="1.55" fill="#f4a314"/>
<circle cx="392.7" cy="238.0" r="1.55" fill="#d5d220"/>
<circle cx="366.4" cy="218.6" r="1.55" fill="#0f76bc"/>
<circle cx="595.0" cy="183.2" r="1.55" fill="#df5d1e"/>
<circle cx="450.8" cy="173.7" r="1.55" fill="#d9511f"/>
<circle cx="350.8" cy="215.1" r="1.55" fill="#0e70b8"/>
<circle cx="434.0" cy="166.0" r="1.55" fill="#de5c1e"/>
<circle cx="239.1" cy="53.5" r="1.55" fill="#0f74bb"/>
<circle cx="188.6" cy="86.3" r="1.55" fill="#8cc54e"/>
<circle cx="587.7" cy="168.3" r="1.55" fill="#db571e"/>
<circle cx="229.4" cy="132.7" r="1.55" fill="#168dc2"/>
<circle cx="339.9" cy="234.2" r="1.55" fill="#27b6aa"/>
<circle cx="234.4" cy="203.9" r="1.55" fill="#158ac1"/>
<circle cx="226.0" cy="159.1" r="1.55" fill="#80c356"/>
<circle cx="407.9" cy="226.7" r="1.55" fill="#accb36"/>
<circle cx="440.5" cy="171.7" r="1.55" fill="#da541f"/>
<circle cx="458.7" cy="171.0" r="1.55" fill="#d9531f"/>
<circle cx="202.3" cy="14.6" r="1.55" fill="#0f77bc"/>
<circle cx="616.3" cy="152.6" r="1.55" fill="#1dadb8"/>
<circle cx="115.0" cy="62.9" r="1.55" fill="#0f75bb"/>
<circle cx="153.2" cy="79.6" r="1.55" fill="#ea7d19"/>
<circle cx="410.9" cy="200.9" r="1.55" fill="#aecb35"/>
<circle cx="568.6" cy="173.3" r="1.55" fill="#e2631d"/>
<circle cx="91.9" cy="75.4" r="1.55" fill="#ef8e17"/>
<circle cx="92.7" cy="79.2" r="1.55" fill="#d9521f"/>
<circle cx="213.0" cy="31.5" r="1.55" fill="#48bb84"/>
<circle cx="570.4" cy="175.7" r="1.55" fill="#d8501f"/>
<circle cx="230.1" cy="203.7" r="1.55" fill="#0f77bc"/>
<circle cx="581.5" cy="162.7" r="1.55" fill="#da541f"/>
<circle cx="489.6" cy="163.8" r="1.55" fill="#de5d1e"/>
<circle cx="492.9" cy="165.1" r="1.55" fill="#de5d1e"/>
<circle cx="511.3" cy="156.4" r="1.55" fill="#db571e"/>
<circle cx="362.9" cy="216.4" r="1.55" fill="#0d6cb6"/>
<circle cx="453.6" cy="172.4" r="1.55" fill="#da551f"/>
<circle cx="213.5" cy="97.5" r="1.55" fill="#32b89b"/>
<circle cx="569.0" cy="171.0" r="1.55" fill="#dd5b1e"/>
<circle cx="306.4" cy="232.5" r="1.55" fill="#69bf68"/>
<circle cx="370.8" cy="239.1" r="1.55" fill="#2fb79f"/>
<circle cx="327.4" cy="222.9" r="1.55" fill="#0d6ab5"/>
<circle cx="319.4" cy="229.1" r="1.55" fill="#4bbc81"/>
<circle cx="413.5" cy="203.7" r="1.55" fill="#f6ab13"/>
<circle cx="262.7" cy="240.1" r="1.55" fill="#6abf67"/>
<circle cx="515.5" cy="148.9" r="1.55" fill="#da531f"/>
<circle cx="76.4" cy="71.1" r="1.55" fill="#adcb36"/>
<circle cx="529.8" cy="151.6" r="1.55" fill="#db561e"/>
<circle cx="224.2" cy="86.2" r="1.55" fill="#1079bd"/>
<circle cx="420.7" cy="176.4" r="1.55" fill="#e66d1c"/>
<circle cx="270.4" cy="261.7" r="1.55" fill="#63bf6d"/>
<circle cx="373.2" cy="239.7" r="1.55" fill="#1ba3bd"/>
<circle cx="264.5" cy="220.5" r="1.55" fill="#1282c0"/>
<circle cx="144.7" cy="13.4" r="1.55" fill="#0d6ab5"/>
<circle cx="585.5" cy="167.1" r="1.55" fill="#dd5b1e"/>
<circle cx="306.4" cy="214.8" r="1.55" fill="#0e70b8"/>
<circle cx="584.8" cy="168.2" r="1.55" fill="#dc581e"/>
<circle cx="276.9" cy="215.3" r="1.55" fill="#0c66b3"/>
<circle cx="188.1" cy="90.8" r="1.55" fill="#96c746"/>
<circle cx="273.3" cy="254.3" r="1.55" fill="#22b5b0"/>
<circle cx="406.7" cy="230.7" r="1.55" fill="#51bc7d"/>
<circle cx="111.1" cy="81.8" r="1.55" fill="#f6ac13"/>
<circle cx="406.9" cy="210.6" r="1.55" fill="#fac80f"/>
<circle cx="274.3" cy="261.7" r="1.55" fill="#3bba8f"/>
<circle cx="560.0" cy="173.1" r="1.55" fill="#db561e"/>
<circle cx="203.8" cy="53.4" r="1.55" fill="#0f72ba"/>
<circle cx="434.0" cy="170.5" r="1.55" fill="#d9511f"/>
<circle cx="360.9" cy="240.6" r="1.55" fill="#65bf6b"/>
<circle cx="331.3" cy="217.9" r="1.55" fill="#0f72ba"/>
<circle cx="213.8" cy="34.6" r="1.55" fill="#0c65b3"/>
<circle cx="607.0" cy="160.5" r="1.55" fill="#da541f"/>
<circle cx="626.8" cy="78.2" r="1.55" fill="#db571e"/>
<circle cx="266.7" cy="274.4" r="1.55" fill="#0d68b4"/>
<circle cx="207.3" cy="29.2" r="1.55" fill="#0f75bb"/>
<circle cx="318.1" cy="214.6" r="1.55" fill="#1a9dc1"/>
<circle cx="265.3" cy="216.4" r="1.55" fill="#1dabb9"/>
<circle cx="363.4" cy="238.0" r="1.55" fill="#22b5b0"/>
<circle cx="256.8" cy="273.9" r="1.55" fill="#1ca8bb"/>
<circle cx="611.9" cy="104.2" r="1.55" fill="#0e6fb8"/>
<circle cx="82.3" cy="74.0" r="1.55" fill="#d8501f"/>
<circle cx="207.4" cy="65.5" r="1.55" fill="#0c66b3"/>
<circle cx="266.6" cy="275.6" r="1.55" fill="#1ba2be"/>
<circle cx="406.7" cy="172.7" r="1.55" fill="#1792c3"/>
<circle cx="267.2" cy="261.3" r="1.55" fill="#199ac2"/>
<circle cx="285.9" cy="237.8" r="1.55" fill="#45bb87"/>
<circle cx="455.7" cy="173.0" r="1.55" fill="#da541f"/>
<circle cx="382.0" cy="239.7" r="1.55" fill="#73c160"/>
<circle cx="259.4" cy="274.9" r="1.55" fill="#1ba1be"/>
<circle cx="81.0" cy="73.4" r="1.55" fill="#f8ba11"/>
<circle cx="102.0" cy="80.6" r="1.55" fill="#f29815"/>
<circle cx="567.6" cy="177.9" r="1.55" fill="#e2641d"/>
<circle cx="583.6" cy="162.5" r="1.55" fill="#de5d1e"/>
<circle cx="161.4" cy="60.2" r="1.55" fill="#0e70b9"/>
<circle cx="309.2" cy="232.8" r="1.55" fill="#20b4b3"/>
<circle cx="163.9" cy="78.5" r="1.55" fill="#f4d711"/>
<circle cx="306.9" cy="231.8" r="1.55" fill="#35b997"/>
<circle cx="545.4" cy="157.8" r="1.55" fill="#d9531f"/>
<circle cx="550.0" cy="134.0" r="1.55" fill="#0e6fb8"/>
<circle cx="437.5" cy="175.8" r="1.55" fill="#f7b312"/>
<circle cx="305.5" cy="233.0" r="1.55" fill="#4ebc7f"/>
<circle cx="545.6" cy="155.8" r="1.55" fill="#e2651d"/>
<circle cx="92.7" cy="52.2" r="1.55" fill="#0e72b9"/>
<circle cx="143.6" cy="82.4" r="1.55" fill="#e3661d"/>
<circle cx="590.2" cy="186.7" r="1.55" fill="#d8501f"/>
<circle cx="83.4" cy="76.2" r="1.55" fill="#5cbe73"/>
<circle cx="447.4" cy="171.1" r="1.55" fill="#e56b1c"/>
<circle cx="254.5" cy="225.7" r="1.55" fill="#28b6a8"/>
<circle cx="352.3" cy="236.3" r="1.55" fill="#69bf68"/>
<circle cx="620.8" cy="77.3" r="1.55" fill="#117fbf"/>
<circle cx="459.7" cy="173.2" r="1.55" fill="#d8501f"/>
<circle cx="573.0" cy="167.5" r="1.55" fill="#d9521f"/>
<circle cx="263.2" cy="25.0" r="1.55" fill="#0d69b5"/>
<circle cx="348.6" cy="215.7" r="1.55" fill="#24b5ad"/>
<circle cx="615.0" cy="105.1" r="1.55" fill="#0e72b9"/>
<circle cx="343.8" cy="221.0" r="1.55" fill="#117fbf"/>
<circle cx="199.0" cy="28.8" r="1.55" fill="#0d6bb6"/>
<circle cx="337.0" cy="216.3" r="1.55" fill="#1eaeb7"/>
<circle cx="267.5" cy="223.0" r="1.55" fill="#0d69b4"/>
<circle cx="497.3" cy="162.7" r="1.55" fill="#dc581e"/>
<circle cx="183.6" cy="89.0" r="1.55" fill="#f0d613"/>
<circle cx="191.2" cy="90.4" r="1.55" fill="#f4a014"/>
<circle cx="527.1" cy="150.0" r="1.55" fill="#dc581e"/>
<circle cx="450.7" cy="174.5" r="1.55" fill="#dc581e"/>
<circle cx="380.1" cy="240.6" r="1.55" fill="#78c15c"/>
<circle cx="272.0" cy="67.2" r="1.55" fill="#0d69b5"/>
<circle cx="311.8" cy="216.4" r="1.55" fill="#0e70b8"/>
<circle cx="401.4" cy="235.3" r="1.55" fill="#d3d121"/>
<circle cx="235.6" cy="51.8" r="1.55" fill="#107abe"/>
<circle cx="105.8" cy="53.0" r="1.55" fill="#0d67b4"/>
<circle cx="400.5" cy="234.8" r="1.55" fill="#c3cf29"/>
<circle cx="110.9" cy="82.6" r="1.55" fill="#f4a214"/>
<circle cx="300.6" cy="230.8" r="1.55" fill="#6dc064"/>
<circle cx="404.7" cy="212.6" r="1.55" fill="#b5cd30"/>
<circle cx="253.5" cy="258.1" r="1.55" fill="#68bf69"/>
<circle cx="215.5" cy="98.0" r="1.55" fill="#a0c93f"/>
<circle cx="592.3" cy="180.4" r="1.55" fill="#da541f"/>
<circle cx="468.9" cy="168.4" r="1.55" fill="#e0611d"/>
<circle cx="550.4" cy="157.2" r="1.55" fill="#e66d1c"/>
<circle cx="512.9" cy="153.7" r="1.55" fill="#de5c1e"/>
<circle cx="198.5" cy="94.2" r="1.55" fill="#8ec64c"/>
<circle cx="316.9" cy="232.6" r="1.55" fill="#31b89d"/>
<circle cx="233.7" cy="69.0" r="1.55" fill="#0e71b9"/>
<circle cx="619.5" cy="139.0" r="1.55" fill="#6cc065"/>
<circle cx="600.6" cy="165.8" r="1.55" fill="#e1621d"/>
<circle cx="404.5" cy="222.7" r="1.55" fill="#73c15f"/>
<circle cx="355.8" cy="239.1" r="1.55" fill="#55bd79"/>
<circle cx="583.3" cy="163.3" r="1.55" fill="#de5c1e"/>
<circle cx="461.8" cy="172.6" r="1.55" fill="#de5c1e"/>
<circle cx="89.9" cy="79.6" r="1.55" fill="#d8501f"/>
<circle cx="387.0" cy="227.3" r="1.55" fill="#1385c0"/>
<circle cx="242.0" cy="71.3" r="1.55" fill="#1078bd"/>
<circle cx="252.0" cy="215.4" r="1.55" fill="#0f74bb"/>
<circle cx="233.7" cy="216.9" r="1.55" fill="#0f76bc"/>
<circle cx="492.3" cy="160.1" r="1.55" fill="#f5a713"/>
<circle cx="505.7" cy="156.8" r="1.55" fill="#de5d1e"/>
<circle cx="517.9" cy="151.0" r="1.55" fill="#d9531f"/>
<circle cx="219.8" cy="100.5" r="1.55" fill="#81c356"/>
<circle cx="341.9" cy="217.9" r="1.55" fill="#0e6fb8"/>
<circle cx="552.1" cy="159.8" r="1.55" fill="#db571e"/>
<circle cx="624.8" cy="102.6" r="1.55" fill="#0e6fb8"/>
<circle cx="213.7" cy="39.8" r="1.55" fill="#0e6db7"/>
<circle cx="164.0" cy="79.5" r="1.55" fill="#e66d1c"/>
<circle cx="594.9" cy="185.9" r="1.55" fill="#e1631d"/>
<circle cx="618.6" cy="143.2" r="1.55" fill="#0e6fb8"/>
<circle cx="71.9" cy="68.2" r="1.55" fill="#e3671d"/>
<circle cx="93.1" cy="77.8" r="1.55" fill="#fbd40d"/>
<circle cx="206.3" cy="56.1" r="1.55" fill="#0c65b3"/>
<circle cx="558.1" cy="168.2" r="1.55" fill="#f09316"/>
<circle cx="88.0" cy="77.2" r="1.55" fill="#e3661d"/>
<circle cx="66.5" cy="74.7" r="1.55" fill="#e2641d"/>
<circle cx="586.1" cy="169.6" r="1.55" fill="#e1621d"/>
<circle cx="575.1" cy="167.6" r="1.55" fill="#e05f1d"/>
<circle cx="605.2" cy="164.6" r="1.55" fill="#dc581e"/>
<circle cx="271.9" cy="266.9" r="1.55" fill="#1fb2b5"/>
<circle cx="105.2" cy="84.9" r="1.55" fill="#f8b911"/>
<circle cx="191.3" cy="91.9" r="1.55" fill="#d0d122"/>
<circle cx="202.6" cy="93.9" r="1.55" fill="#ced123"/>
<circle cx="184.1" cy="55.1" r="1.55" fill="#107abe"/>
<circle cx="520.7" cy="149.1" r="1.55" fill="#db571e"/>
<circle cx="330.9" cy="218.9" r="1.55" fill="#0d6bb6"/>
<circle cx="577.9" cy="165.3" r="1.55" fill="#db561e"/>
<circle cx="363.3" cy="215.6" r="1.55" fill="#0f77bc"/>
<circle cx="503.7" cy="155.9" r="1.55" fill="#e3671d"/>
<circle cx="599.2" cy="166.2" r="1.55" fill="#e4681c"/>
<circle cx="327.2" cy="230.5" r="1.55" fill="#8bc54f"/>
<circle cx="177.0" cy="41.1" r="1.55" fill="#0e6cb7"/>
<circle cx="249.9" cy="217.6" r="1.55" fill="#1078bd"/>
<circle cx="579.0" cy="164.9" r="1.55" fill="#da541f"/>
<circle cx="623.3" cy="109.7" r="1.55" fill="#0e6fb8"/>
<circle cx="202.9" cy="56.4" r="1.55" fill="#0d68b4"/>
<circle cx="574.5" cy="167.5" r="1.55" fill="#df5e1e"/>
<circle cx="214.9" cy="26.5" r="1.55" fill="#0c66b3"/>
<circle cx="121.5" cy="81.6" r="1.55" fill="#ee8b17"/>
<circle cx="266.0" cy="55.4" r="1.55" fill="#0d69b5"/>
<circle cx="122.2" cy="81.7" r="1.55" fill="#e1631d"/>
<circle cx="119.2" cy="84.3" r="1.55" fill="#a8ca39"/>
<circle cx="251.2" cy="49.7" r="1.55" fill="#0e6fb8"/>
<circle cx="229.3" cy="84.7" r="1.55" fill="#0e71b9"/>
<circle cx="176.3" cy="84.0" r="1.55" fill="#f09016"/>
<circle cx="394.1" cy="230.0" r="1.55" fill="#1283c0"/>
<circle cx="516.4" cy="154.2" r="1.55" fill="#dd5b1e"/>
<circle cx="383.4" cy="237.7" r="1.55" fill="#4fbc7e"/>
<circle cx="304.9" cy="231.0" r="1.55" fill="#2db7a2"/>
<circle cx="595.3" cy="180.3" r="1.55" fill="#df5e1d"/>
<circle cx="70.3" cy="72.3" r="1.55" fill="#de5d1e"/>
<circle cx="258.6" cy="255.4" r="1.55" fill="#0f77bc"/>
<circle cx="247.5" cy="26.1" r="1.55" fill="#0d6bb6"/>
<circle cx="91.8" cy="80.4" r="1.55" fill="#e66b1c"/>
<circle cx="412.4" cy="207.0" r="1.55" fill="#f5d710"/>
<circle cx="403.6" cy="229.7" r="1.55" fill="#3dba8e"/>
<circle cx="625.0" cy="76.8" r="1.55" fill="#df5e1d"/>
<circle cx="595.2" cy="177.7" r="1.55" fill="#e2641d"/>
<circle cx="485.3" cy="164.8" r="1.55" fill="#dc581e"/>
<circle cx="266.4" cy="271.2" r="1.55" fill="#1895c4"/>
<circle cx="85.2" cy="76.1" r="1.55" fill="#d8501f"/>
<circle cx="605.0" cy="162.5" r="1.55" fill="#de5b1e"/>
<circle cx="364.6" cy="240.7" r="1.55" fill="#5bbe73"/>
<circle cx="459.4" cy="170.5" r="1.55" fill="#dd5a1e"/>
<circle cx="330.5" cy="234.7" r="1.55" fill="#3bba90"/>
<circle cx="408.6" cy="211.9" r="1.55" fill="#8bc54f"/>
<circle cx="274.3" cy="260.1" r="1.55" fill="#3fba8b"/>
<circle cx="406.0" cy="181.5" r="1.55" fill="#168dc2"/>
<circle cx="409.4" cy="209.6" r="1.55" fill="#8dc54d"/>
<circle cx="336.1" cy="235.4" r="1.55" fill="#2db7a1"/>
<circle cx="500.8" cy="160.3" r="1.55" fill="#da541f"/>
<circle cx="178.2" cy="84.5" r="1.55" fill="#a0c93f"/>
<circle cx="93.1" cy="79.1" r="1.55" fill="#f5a413"/>
<circle cx="600.1" cy="173.4" r="1.55" fill="#e0601d"/>
<circle cx="344.4" cy="235.5" r="1.55" fill="#57bd77"/>
<circle cx="407.8" cy="213.7" r="1.55" fill="#36b996"/>
<circle cx="566.5" cy="174.8" r="1.55" fill="#e2631d"/>
<circle cx="606.0" cy="161.4" r="1.55" fill="#e3661d"/>
<circle cx="86.5" cy="74.2" r="1.55" fill="#e3671d"/>
<circle cx="237.3" cy="26.1" r="1.55" fill="#0c67b3"/>
<circle cx="352.7" cy="236.4" r="1.55" fill="#57bd77"/>
<circle cx="276.9" cy="215.8" r="1.55" fill="#0e6db7"/>
<circle cx="358.3" cy="219.4" r="1.55" fill="#158ac2"/>
<circle cx="471.9" cy="169.3" r="1.55" fill="#db551e"/>
<circle cx="117.5" cy="84.3" r="1.55" fill="#ef8d17"/>
<circle cx="361.9" cy="229.4" r="1.55" fill="#0e6db7"/>
<circle cx="351.8" cy="234.8" r="1.55" fill="#4abc82"/>
<circle cx="527.5" cy="149.8" r="1.55" fill="#e2641d"/>
<circle cx="321.5" cy="214.7" r="1.55" fill="#0f74bb"/>
<circle cx="511.0" cy="155.1" r="1.55" fill="#fbd80d"/>
<circle cx="247.7" cy="268.7" r="1.55" fill="#39b992"/>
<circle cx="80.6" cy="72.2" r="1.55" fill="#cdd024"/>
<circle cx="245.2" cy="57.3" r="1.55" fill="#0f75bb"/>
<circle cx="313.7" cy="232.4" r="1.55" fill="#75c15f"/>
<circle cx="442.8" cy="174.7" r="1.55" fill="#f9c310"/>
<circle cx="616.8" cy="71.8" r="1.55" fill="#107bbe"/>
<circle cx="364.8" cy="240.0" r="1.55" fill="#76c15e"/>
<circle cx="537.7" cy="154.3" r="1.55" fill="#f5a613"/>
<circle cx="154.0" cy="80.2" r="1.55" fill="#e1621d"/>
<circle cx="633.2" cy="82.8" r="1.55" fill="#db571e"/>
<circle cx="459.0" cy="171.3" r="1.55" fill="#df5e1e"/>
<circle cx="565.0" cy="173.2" r="1.55" fill="#f7b711"/>
<circle cx="474.0" cy="168.6" r="1.55" fill="#df5f1d"/>
<circle cx="238.5" cy="71.8" r="1.55" fill="#1079be"/>
<circle cx="388.2" cy="240.0" r="1.55" fill="#66bf6a"/>
<circle cx="418.4" cy="177.4" r="1.55" fill="#ef8f17"/>
<circle cx="402.5" cy="214.8" r="1.55" fill="#1282c0"/>
<circle cx="319.1" cy="233.4" r="1.55" fill="#1fb3b5"/>
<circle cx="516.5" cy="153.6" r="1.55" fill="#dd5a1e"/>
<circle cx="394.8" cy="227.4" r="1.55" fill="#1281c0"/>
<circle cx="426.4" cy="174.6" r="1.55" fill="#eb8019"/>
<circle cx="552.3" cy="159.4" r="1.55" fill="#e1631d"/>
<circle cx="160.4" cy="42.9" r="1.55" fill="#0d6cb6"/>
<circle cx="166.4" cy="52.4" r="1.55" fill="#0c65b3"/>
<circle cx="114.8" cy="49.7" r="1.55" fill="#0e71b9"/>
<circle cx="610.5" cy="97.2" r="1.55" fill="#0f76bc"/>
<circle cx="145.3" cy="84.5" r="1.55" fill="#ed8418"/>
<circle cx="140.3" cy="32.0" r="1.55" fill="#0e6db7"/>
<circle cx="354.9" cy="236.9" r="1.55" fill="#5abe74"/>
<circle cx="319.4" cy="216.9" r="1.55" fill="#1385c0"/>
<circle cx="227.5" cy="140.9" r="1.55" fill="#1ba3bd"/>
<circle cx="308.6" cy="214.9" r="1.55" fill="#1383c0"/>
<circle cx="139.7" cy="82.6" r="1.55" fill="#f5a913"/>
<circle cx="205.9" cy="94.2" r="1.55" fill="#59bd76"/>
<circle cx="218.3" cy="97.7" r="1.55" fill="#52bd7b"/>
<circle cx="238.3" cy="234.8" r="1.55" fill="#6abf67"/>
<circle cx="185.5" cy="89.3" r="1.55" fill="#f39c15"/>
<circle cx="265.2" cy="276.0" r="1.55" fill="#158bc2"/>
<circle cx="262.7" cy="269.0" r="1.55" fill="#1690c3"/>
<circle cx="557.9" cy="167.9" r="1.55" fill="#e1611d"/>
<circle cx="425.9" cy="175.4" r="1.55" fill="#e7701b"/>
<circle cx="207.9" cy="66.0" r="1.55" fill="#1078bd"/>
<circle cx="525.3" cy="149.9" r="1.55" fill="#db561e"/>
<circle cx="412.0" cy="170.0" r="1.55" fill="#1eb1b5"/>
<circle cx="67.5" cy="71.5" r="1.55" fill="#fad80e"/>
<circle cx="515.4" cy="151.1" r="1.55" fill="#dc581e"/>
<circle cx="553.2" cy="161.2" r="1.55" fill="#d9511f"/>
<circle cx="526.9" cy="147.9" r="1.55" fill="#d8511f"/>
<circle cx="158.5" cy="77.4" r="1.55" fill="#f29815"/>
<circle cx="444.2" cy="175.7" r="1.55" fill="#e0601d"/>
<circle cx="260.8" cy="214.5" r="1.55" fill="#0f77bc"/>
<circle cx="569.1" cy="172.5" r="1.55" fill="#e0601d"/>
<circle cx="115.6" cy="86.8" r="1.55" fill="#e9d516"/>
<circle cx="207.4" cy="95.5" r="1.55" fill="#df5f1d"/>
<circle cx="565.3" cy="177.0" r="1.55" fill="#dd5a1e"/>
<circle cx="598.6" cy="178.1" r="1.55" fill="#d9531f"/>
<circle cx="398.4" cy="231.5" r="1.55" fill="#1079bd"/>
<circle cx="368.9" cy="225.2" r="1.55" fill="#1384c0"/>
<circle cx="464.6" cy="171.2" r="1.55" fill="#d8501f"/>
<circle cx="302.7" cy="218.7" r="1.55" fill="#0e6fb8"/>
<circle cx="123.9" cy="85.1" r="1.55" fill="#db561e"/>
<circle cx="226.1" cy="110.7" r="1.55" fill="#1078bd"/>
<circle cx="628.6" cy="82.1" r="1.55" fill="#da551e"/>
<circle cx="152.2" cy="46.3" r="1.55" fill="#0f77bc"/>
<circle cx="500.3" cy="158.5" r="1.55" fill="#dc571e"/>
<circle cx="110.4" cy="85.8" r="1.55" fill="#e3661d"/>
<circle cx="545.8" cy="156.8" r="1.55" fill="#e2641d"/>
<circle cx="587.9" cy="178.7" r="1.55" fill="#dc581e"/>
<circle cx="244.8" cy="253.0" r="1.55" fill="#5ebe71"/>
<circle cx="153.4" cy="79.7" r="1.55" fill="#dc581e"/>
<circle cx="251.0" cy="254.9" r="1.55" fill="#1eb1b6"/>
<circle cx="257.8" cy="220.0" r="1.55" fill="#0f76bc"/>
<circle cx="334.4" cy="233.9" r="1.55" fill="#31b89d"/>
<circle cx="217.9" cy="96.1" r="1.55" fill="#bdce2b"/>
<circle cx="320.0" cy="220.0" r="1.55" fill="#1488c1"/>
<circle cx="253.4" cy="271.2" r="1.55" fill="#0c64b2"/>
<circle cx="405.4" cy="223.2" r="1.55" fill="#75c15e"/>
<circle cx="181.4" cy="86.6" r="1.55" fill="#e3651d"/>
<circle cx="284.7" cy="237.3" r="1.55" fill="#a2c93e"/>
<circle cx="572.3" cy="169.2" r="1.55" fill="#d8511f"/>
<circle cx="496.6" cy="160.2" r="1.55" fill="#d8501f"/>
<circle cx="549.8" cy="158.3" r="1.55" fill="#e0601d"/>
<circle cx="264.6" cy="275.6" r="1.55" fill="#168ec2"/>
<circle cx="300.2" cy="218.5" r="1.55" fill="#1280bf"/>
<circle cx="222.8" cy="107.9" r="1.55" fill="#27b6aa"/>
<circle cx="405.0" cy="227.2" r="1.55" fill="#4ebc7f"/>
<circle cx="399.9" cy="218.7" r="1.55" fill="#0e6fb8"/>
<circle cx="622.7" cy="86.3" r="1.55" fill="#0e6fb8"/>
<circle cx="260.0" cy="268.4" r="1.55" fill="#0e6db7"/>
<circle cx="163.7" cy="82.7" r="1.55" fill="#e76f1c"/>
<circle cx="626.1" cy="78.8" r="1.55" fill="#f7b811"/>
<circle cx="67.8" cy="74.8" r="1.55" fill="#dc591e"/>
<circle cx="562.0" cy="172.7" r="1.55" fill="#dc571e"/>
<circle cx="584.7" cy="164.1" r="1.55" fill="#e1631d"/>
<circle cx="585.7" cy="167.7" r="1.55" fill="#e1631d"/>
<circle cx="477.2" cy="166.3" r="1.55" fill="#dc581e"/>
<circle cx="584.0" cy="164.6" r="1.55" fill="#de5c1e"/>
<circle cx="586.0" cy="178.0" r="1.55" fill="#d8511f"/>
<circle cx="364.4" cy="237.8" r="1.55" fill="#1da9ba"/>
<circle cx="321.6" cy="232.0" r="1.55" fill="#2fb79f"/>
<circle cx="302.9" cy="216.0" r="1.55" fill="#0f77bc"/>
<circle cx="402.9" cy="219.1" r="1.55" fill="#cfd123"/>
<circle cx="211.2" cy="28.2" r="1.55" fill="#0f73ba"/>
<circle cx="603.4" cy="166.3" r="1.55" fill="#d9531f"/>
<circle cx="302.8" cy="231.2" r="1.55" fill="#36b996"/>
<circle cx="149.5" cy="80.4" r="1.55" fill="#e7711b"/>
<circle cx="216.7" cy="37.4" r="1.55" fill="#51bc7c"/>
<circle cx="280.6" cy="244.1" r="1.55" fill="#1eb0b6"/>
<circle cx="394.7" cy="216.1" r="1.55" fill="#117ebf"/>
<circle cx="557.4" cy="164.0" r="1.55" fill="#dc571e"/>
<circle cx="623.0" cy="77.8" r="1.55" fill="#1eb1b5"/>
<circle cx="227.1" cy="110.8" r="1.55" fill="#ccd024"/>
<circle cx="318.9" cy="219.1" r="1.55" fill="#0f76bc"/>
<circle cx="479.3" cy="170.1" r="1.55" fill="#d9521f"/>
<circle cx="375.6" cy="215.9" r="1.55" fill="#1281c0"/>
<circle cx="529.1" cy="151.8" r="1.55" fill="#d9521f"/>
<circle cx="240.7" cy="249.9" r="1.55" fill="#1ca6bb"/>
<circle cx="209.2" cy="95.2" r="1.55" fill="#6cc065"/>
<circle cx="145.1" cy="85.6" r="1.55" fill="#e76f1b"/>
<circle cx="65.5" cy="75.9" r="1.55" fill="#e56a1c"/>
<circle cx="179.1" cy="86.1" r="1.55" fill="#ed8418"/>
<circle cx="139.0" cy="79.8" r="1.55" fill="#e66d1c"/>
<circle cx="410.3" cy="205.3" r="1.55" fill="#b6cd2f"/>
<circle cx="279.6" cy="246.5" r="1.55" fill="#1ba4bd"/>
<circle cx="233.5" cy="219.8" r="1.55" fill="#32b89b"/>
<circle cx="256.2" cy="236.4" r="1.55" fill="#1280bf"/>
<circle cx="440.1" cy="174.5" r="1.55" fill="#db561e"/>
<circle cx="217.3" cy="97.8" r="1.55" fill="#a4c93c"/>
<circle cx="405.6" cy="220.9" r="1.55" fill="#f1d613"/>
<circle cx="299.8" cy="233.8" r="1.55" fill="#fbd30e"/>
<circle cx="554.2" cy="161.9" r="1.55" fill="#da531f"/>
<circle cx="276.5" cy="251.9" r="1.55" fill="#31b89c"/>
<circle cx="630.6" cy="80.1" r="1.55" fill="#dc571e"/>
<circle cx="290.7" cy="233.5" r="1.55" fill="#8fc64c"/>
<circle cx="194.5" cy="91.2" r="1.55" fill="#f9c60f"/>
<circle cx="445.5" cy="176.0" r="1.55" fill="#db571e"/>
<circle cx="269.1" cy="273.9" r="1.55" fill="#1898c3"/>
<circle cx="614.1" cy="102.5" r="1.55" fill="#0f73ba"/>
<circle cx="550.7" cy="157.3" r="1.55" fill="#e2641d"/>
<circle cx="262.0" cy="214.5" r="1.55" fill="#0f73ba"/>
<circle cx="576.9" cy="161.8" r="1.55" fill="#f5a513"/>
<circle cx="377.7" cy="214.7" r="1.55" fill="#0e6db7"/>
<circle cx="526.6" cy="147.8" r="1.55" fill="#dd5b1e"/>
<circle cx="418.7" cy="182.8" r="1.55" fill="#dd5a1e"/>
<circle cx="272.6" cy="265.5" r="1.55" fill="#1eafb7"/>
<circle cx="515.9" cy="151.5" r="1.55" fill="#da541f"/>
<circle cx="619.1" cy="105.2" r="1.55" fill="#0c65b2"/>
<circle cx="389.3" cy="237.7" r="1.55" fill="#6ec064"/>
<circle cx="287.3" cy="238.6" r="1.55" fill="#39b991"/>
<circle cx="199.9" cy="95.1" r="1.55" fill="#4fbc7e"/>
<circle cx="283.5" cy="214.7" r="1.55" fill="#199bc1"/>
<circle cx="367.3" cy="219.0" r="1.55" fill="#0e6eb8"/>
<circle cx="521.5" cy="147.5" r="1.55" fill="#dc581e"/>
<circle cx="379.1" cy="221.6" r="1.55" fill="#117fbf"/>
<circle cx="404.6" cy="216.5" r="1.55" fill="#95c747"/>
<circle cx="516.6" cy="150.0" r="1.55" fill="#d9521f"/>
<circle cx="90.9" cy="54.2" r="1.55" fill="#0d67b4"/>
<circle cx="294.9" cy="234.6" r="1.55" fill="#a5ca3c"/>
<circle cx="292.3" cy="215.5" r="1.55" fill="#0c65b3"/>
<circle cx="264.7" cy="261.7" r="1.55" fill="#23b5af"/>
<circle cx="189.4" cy="93.2" r="1.55" fill="#e5d418"/>
<circle cx="369.4" cy="214.9" r="1.55" fill="#0f76bc"/>
<circle cx="604.6" cy="166.7" r="1.55" fill="#f2d612"/>
<circle cx="456.6" cy="170.2" r="1.55" fill="#d9531f"/>
<circle cx="186.5" cy="89.6" r="1.55" fill="#ebd515"/>
<circle cx="548.1" cy="162.1" r="1.55" fill="#db551e"/>
<circle cx="130.9" cy="81.3" r="1.55" fill="#de5b1e"/>
<circle cx="601.9" cy="169.8" r="1.55" fill="#e0601d"/>
<circle cx="167.0" cy="78.4" r="1.55" fill="#f08f17"/>
<circle cx="305.8" cy="215.4" r="1.55" fill="#1386c1"/>
<circle cx="614.2" cy="103.2" r="1.55" fill="#0f74bb"/>
<circle cx="227.0" cy="200.4" r="1.55" fill="#0e6eb8"/>
<circle cx="614.4" cy="158.8" r="1.55" fill="#dc581e"/>
<circle cx="207.7" cy="57.7" r="1.55" fill="#0e72b9"/>
<circle cx="414.5" cy="189.8" r="1.55" fill="#e6d418"/>
<circle cx="544.9" cy="157.1" r="1.55" fill="#f6b112"/>
<circle cx="436.1" cy="171.6" r="1.55" fill="#d9531f"/>
<circle cx="343.9" cy="234.4" r="1.55" fill="#29b6a8"/>
<circle cx="462.2" cy="170.7" r="1.55" fill="#da551e"/>
<circle cx="340.8" cy="215.6" r="1.55" fill="#117ebf"/>
<circle cx="129.6" cy="42.0" r="1.55" fill="#1078bd"/>
<circle cx="65.8" cy="71.5" r="1.55" fill="#eb8019"/>
<circle cx="106.6" cy="82.9" r="1.55" fill="#facc0f"/>
<circle cx="168.8" cy="80.4" r="1.55" fill="#fbd20e"/>
<circle cx="162.1" cy="76.2" r="1.55" fill="#e3651d"/>
<circle cx="112.2" cy="82.9" r="1.55" fill="#e7701b"/>
<circle cx="479.7" cy="163.0" r="1.55" fill="#d9521f"/>
<circle cx="618.2" cy="149.6" r="1.55" fill="#117cbf"/>
<circle cx="264.0" cy="226.7" r="1.55" fill="#3ab991"/>
<circle cx="608.4" cy="108.7" r="1.55" fill="#0e6fb8"/>
<circle cx="408.0" cy="226.2" r="1.55" fill="#80c356"/>
<circle cx="529.6" cy="149.5" r="1.55" fill="#d8511f"/>
<circle cx="358.0" cy="222.7" r="1.55" fill="#0f76bc"/>
<circle cx="409.6" cy="206.5" r="1.55" fill="#0d69b5"/>
<circle cx="614.1" cy="105.2" r="1.55" fill="#1079be"/>
<circle cx="93.5" cy="78.7" r="1.55" fill="#f19616"/>
<circle cx="144.3" cy="83.3" r="1.55" fill="#f39e14"/>
<circle cx="273.3" cy="258.5" r="1.55" fill="#199cc1"/>
<circle cx="577.9" cy="162.6" r="1.55" fill="#e05f1d"/>
<circle cx="265.9" cy="275.3" r="1.55" fill="#0e6db7"/>
<circle cx="332.6" cy="233.3" r="1.55" fill="#c2cf29"/>
<circle cx="218.0" cy="97.4" r="1.55" fill="#c7cf27"/>
<circle cx="616.8" cy="105.2" r="1.55" fill="#0d6ab5"/>
<circle cx="609.9" cy="159.6" r="1.55" fill="#df5f1d"/>
<circle cx="386.7" cy="238.9" r="1.55" fill="#1fb3b4"/>
<circle cx="375.7" cy="220.3" r="1.55" fill="#1385c0"/>
<circle cx="516.9" cy="149.9" r="1.55" fill="#df5f1d"/>
<circle cx="263.4" cy="273.8" r="1.55" fill="#1489c1"/>
<circle cx="96.3" cy="76.9" r="1.55" fill="#f7b811"/>
<circle cx="211.0" cy="95.9" r="1.55" fill="#107cbe"/>
<circle cx="140.6" cy="83.8" r="1.55" fill="#e1611d"/>
<circle cx="126.2" cy="82.7" r="1.55" fill="#e56b1c"/>
<circle cx="419.6" cy="183.1" r="1.55" fill="#eb7d19"/>
<circle cx="619.0" cy="68.3" r="1.55" fill="#0e6fb8"/>
<circle cx="506.4" cy="154.5" r="1.55" fill="#d9531f"/>
<circle cx="110.3" cy="81.3" r="1.55" fill="#d9521f"/>
<circle cx="140.2" cy="29.0" r="1.55" fill="#0f77bc"/>
<circle cx="99.4" cy="79.6" r="1.55" fill="#eb7e19"/>
<circle cx="245.0" cy="97.6" r="1.55" fill="#0f73ba"/>
<circle cx="177.6" cy="39.2" r="1.55" fill="#3aba91"/>
<circle cx="304.0" cy="230.7" r="1.55" fill="#30b79e"/>
<circle cx="526.5" cy="149.2" r="1.55" fill="#df5e1e"/>
<circle cx="252.5" cy="24.6" r="1.55" fill="#0e71b9"/>
<circle cx="617.7" cy="99.8" r="1.55" fill="#117ebf"/>
<circle cx="119.0" cy="83.8" r="1.55" fill="#eb7d19"/>
<circle cx="275.1" cy="254.9" r="1.55" fill="#21b4b1"/>
<circle cx="403.2" cy="232.3" r="1.55" fill="#33b89a"/>
<circle cx="617.8" cy="106.8" r="1.55" fill="#0f72ba"/>
<circle cx="327.1" cy="218.6" r="1.55" fill="#0e6fb8"/>
<circle cx="398.3" cy="238.2" r="1.55" fill="#c4cf28"/>
<circle cx="74.7" cy="68.9" r="1.55" fill="#a3c93d"/>
<circle cx="182.4" cy="46.2" r="1.55" fill="#3bba90"/>
<circle cx="584.1" cy="163.1" r="1.55" fill="#d9531f"/>
<circle cx="305.4" cy="229.6" r="1.55" fill="#f6d710"/>
<circle cx="317.2" cy="231.7" r="1.55" fill="#1dacb8"/>
<circle cx="133.6" cy="82.1" r="1.55" fill="#ec8119"/>
<circle cx="396.6" cy="216.5" r="1.55" fill="#0e70b9"/>
<circle cx="147.1" cy="83.5" r="1.55" fill="#e5691c"/>
<circle cx="561.1" cy="171.1" r="1.55" fill="#db551e"/>
<circle cx="577.7" cy="164.0" r="1.55" fill="#df5f1d"/>
<circle cx="229.0" cy="216.5" r="1.55" fill="#1077bd"/>
<circle cx="396.7" cy="234.0" r="1.55" fill="#38b993"/>
<circle cx="243.0" cy="65.3" r="1.55" fill="#0f73ba"/>
<circle cx="274.7" cy="254.6" r="1.55" fill="#1fb4b3"/>
<circle cx="210.8" cy="95.4" r="1.55" fill="#e1d41a"/>
<circle cx="156.8" cy="62.2" r="1.55" fill="#0d6ab5"/>
<circle cx="175.7" cy="35.9" r="1.55" fill="#1078bd"/>
<circle cx="154.6" cy="43.8" r="1.55" fill="#0e6db7"/>
<circle cx="630.7" cy="80.9" r="1.55" fill="#db561e"/>
<circle cx="233.5" cy="191.5" r="1.55" fill="#1eaeb7"/>
<circle cx="199.2" cy="89.7" r="1.55" fill="#c7cf27"/>
<circle cx="247.7" cy="216.6" r="1.55" fill="#117cbe"/>
<circle cx="171.7" cy="84.1" r="1.55" fill="#e9761a"/>
<circle cx="374.7" cy="236.8" r="1.55" fill="#48bb84"/>
<circle cx="133.9" cy="66.9" r="1.55" fill="#6ec063"/>
<circle cx="212.2" cy="31.6" r="1.55" fill="#28b6a8"/>
<circle cx="255.2" cy="223.7" r="1.55" fill="#1794c4"/>
<circle cx="623.3" cy="123.0" r="1.55" fill="#f4a114"/>
<circle cx="284.4" cy="218.4" r="1.55" fill="#0c66b3"/>
<circle cx="591.6" cy="189.4" r="1.55" fill="#da541f"/>
<circle cx="301.6" cy="232.7" r="1.55" fill="#33b89a"/>
<circle cx="376.3" cy="238.6" r="1.55" fill="#22b5b1"/>
<circle cx="353.8" cy="220.1" r="1.55" fill="#158ac2"/>
<circle cx="299.2" cy="231.0" r="1.55" fill="#65bf6c"/>
<circle cx="383.4" cy="219.5" r="1.55" fill="#0e6db7"/>
<circle cx="145.1" cy="15.5" r="1.55" fill="#0f75bb"/>
<circle cx="298.8" cy="218.6" r="1.55" fill="#1488c1"/>
<circle cx="623.1" cy="72.8" r="1.55" fill="#de5d1e"/>
<circle cx="268.7" cy="271.0" r="1.55" fill="#117fbf"/>
<circle cx="576.1" cy="166.4" r="1.55" fill="#e4681c"/>
<circle cx="623.3" cy="140.5" r="1.55" fill="#3aba90"/>
<circle cx="66.4" cy="74.6" r="1.55" fill="#f29815"/>
<circle cx="598.5" cy="168.3" r="1.55" fill="#d8511f"/>
<circle cx="219.6" cy="97.1" r="1.55" fill="#bfce2b"/>
<circle cx="253.6" cy="225.1" r="1.55" fill="#32b89b"/>
<circle cx="327.0" cy="232.7" r="1.55" fill="#30b89d"/>
<circle cx="525.1" cy="148.7" r="1.55" fill="#da531f"/>
<circle cx="205.1" cy="39.2" r="1.55" fill="#0e71b9"/>
<circle cx="431.6" cy="170.5" r="1.55" fill="#d8511f"/>
<circle cx="408.7" cy="212.9" r="1.55" fill="#d0d123"/>
<circle cx="202.7" cy="39.1" r="1.55" fill="#0e70b9"/>
<circle cx="562.0" cy="170.5" r="1.55" fill="#f39e14"/>
<circle cx="345.5" cy="237.3" r="1.55" fill="#5ebe71"/>
<circle cx="209.0" cy="36.8" r="1.55" fill="#0d69b5"/>
<circle cx="241.9" cy="259.3" r="1.55" fill="#0e6eb8"/>
<circle cx="606.1" cy="160.3" r="1.55" fill="#da541f"/>
<circle cx="583.6" cy="166.4" r="1.55" fill="#fbce0e"/>
<circle cx="423.8" cy="178.0" r="1.55" fill="#ea7c19"/>
<circle cx="273.9" cy="268.0" r="1.55" fill="#31b89c"/>
<circle cx="514.2" cy="150.6" r="1.55" fill="#dc571e"/>
<circle cx="227.3" cy="147.5" r="1.55" fill="#37b994"/>
<circle cx="218.2" cy="97.9" r="1.55" fill="#86c452"/>
<circle cx="466.1" cy="170.5" r="1.55" fill="#e0601d"/>
<circle cx="166.7" cy="80.1" r="1.55" fill="#ead516"/>
<circle cx="82.8" cy="75.7" r="1.55" fill="#e66e1c"/>
<circle cx="221.3" cy="96.8" r="1.55" fill="#32b89b"/>
<circle cx="408.5" cy="211.9" r="1.55" fill="#5cbe73"/>
<circle cx="627.2" cy="77.0" r="1.55" fill="#dc581e"/>
<circle cx="202.1" cy="93.1" r="1.55" fill="#c8d026"/>
<circle cx="359.6" cy="238.7" r="1.55" fill="#66bf6a"/>
<circle cx="409.3" cy="221.9" r="1.55" fill="#1794c4"/>
<circle cx="323.6" cy="220.2" r="1.55" fill="#1eafb7"/>
<circle cx="476.5" cy="168.6" r="1.55" fill="#d8511f"/>
<circle cx="260.0" cy="254.0" r="1.55" fill="#1ba3bd"/>
<circle cx="504.5" cy="157.6" r="1.55" fill="#db561e"/>
<circle cx="390.2" cy="217.8" r="1.55" fill="#0d6cb6"/>
<circle cx="77.0" cy="71.6" r="1.55" fill="#f5a913"/>
<circle cx="173.4" cy="85.6" r="1.55" fill="#f6b012"/>
<circle cx="155.4" cy="38.8" r="1.55" fill="#0e70b9"/>
<circle cx="559.0" cy="173.3" r="1.55" fill="#da541f"/>
<circle cx="400.4" cy="230.3" r="1.55" fill="#0e71b9"/>
<circle cx="391.6" cy="215.5" r="1.55" fill="#117ebf"/>
<circle cx="402.7" cy="225.8" r="1.55" fill="#0d6cb6"/>
<circle cx="158.5" cy="75.8" r="1.55" fill="#f8b911"/>
<circle cx="540.2" cy="155.1" r="1.55" fill="#df5e1e"/>
<circle cx="397.3" cy="241.2" r="1.55" fill="#60be70"/>
<circle cx="564.9" cy="177.9" r="1.55" fill="#dc571e"/>
<circle cx="204.3" cy="34.0" r="1.55" fill="#0c65b2"/>
<circle cx="612.6" cy="157.9" r="1.55" fill="#e3651d"/>
<circle cx="266.0" cy="268.2" r="1.55" fill="#117ebf"/>
<circle cx="411.9" cy="198.3" r="1.55" fill="#facd0e"/>
<circle cx="220.6" cy="98.4" r="1.55" fill="#e6d418"/>
<circle cx="98.9" cy="81.2" r="1.55" fill="#e9771a"/>
<circle cx="466.3" cy="171.3" r="1.55" fill="#d8501f"/>
<circle cx="285.2" cy="243.1" r="1.55" fill="#3bba8f"/>
<circle cx="325.4" cy="219.7" r="1.55" fill="#1eafb7"/>
<circle cx="545.4" cy="154.9" r="1.55" fill="#df5e1d"/>
<circle cx="228.3" cy="155.9" r="1.55" fill="#158dc2"/>
<circle cx="273.6" cy="261.5" r="1.55" fill="#1690c3"/>
<circle cx="584.0" cy="164.4" r="1.55" fill="#da551f"/>
<circle cx="301.1" cy="231.9" r="1.55" fill="#6ec064"/>
<circle cx="356.0" cy="223.9" r="1.55" fill="#0d69b5"/>
<circle cx="209.2" cy="22.9" r="1.55" fill="#28b6a8"/>
<circle cx="438.9" cy="177.1" r="1.55" fill="#de5b1e"/>
<circle cx="404.6" cy="205.5" r="1.55" fill="#1384c0"/>
<circle cx="370.8" cy="240.7" r="1.55" fill="#9ac844"/>
<circle cx="271.7" cy="26.0" r="1.55" fill="#0f72ba"/>
<circle cx="390.5" cy="214.7" r="1.55" fill="#1384c0"/>
<circle cx="176.6" cy="83.6" r="1.55" fill="#fbce0e"/>
<circle cx="99.1" cy="79.3" r="1.55" fill="#f09017"/>
<circle cx="280.1" cy="242.9" r="1.55" fill="#1ca5bc"/>
<circle cx="114.2" cy="84.4" r="1.55" fill="#d9521f"/>
<circle cx="235.7" cy="233.9" r="1.55" fill="#117ebf"/>
<circle cx="625.1" cy="129.9" r="1.55" fill="#33b899"/>
<circle cx="295.5" cy="216.0" r="1.55" fill="#1079bd"/>
<circle cx="632.2" cy="82.5" r="1.55" fill="#dc581e"/>
<circle cx="622.1" cy="69.3" r="1.55" fill="#0e6fb8"/>
<circle cx="269.9" cy="215.8" r="1.55" fill="#1487c1"/>
<circle cx="110.5" cy="83.3" r="1.55" fill="#f7b312"/>
<circle cx="174.7" cy="39.8" r="1.55" fill="#0d69b5"/>
<circle cx="262.2" cy="269.4" r="1.55" fill="#38b993"/>
<circle cx="473.8" cy="169.3" r="1.55" fill="#dd591e"/>
<circle cx="387.4" cy="223.1" r="1.55" fill="#1488c1"/>
<circle cx="181.5" cy="89.1" r="1.55" fill="#d7d21f"/>
<circle cx="430.4" cy="172.9" r="1.55" fill="#db561e"/>
<circle cx="593.4" cy="178.1" r="1.55" fill="#e8741b"/>
<circle cx="199.2" cy="34.9" r="1.55" fill="#0f77bc"/>
<circle cx="82.0" cy="76.0" r="1.55" fill="#f5a813"/>
<circle cx="160.7" cy="79.7" r="1.55" fill="#d8501f"/>
<circle cx="430.5" cy="171.4" r="1.55" fill="#e0601d"/>
<circle cx="283.4" cy="243.3" r="1.55" fill="#2cb7a3"/>
<circle cx="69.6" cy="74.4" r="1.55" fill="#e66d1c"/>
<circle cx="116.3" cy="86.0" r="1.55" fill="#e4691c"/>
<circle cx="513.4" cy="153.6" r="1.55" fill="#da551f"/>
<circle cx="417.1" cy="190.7" r="1.55" fill="#afcb34"/>
<circle cx="270.3" cy="219.4" r="1.55" fill="#199ac2"/>
<circle cx="92.5" cy="46.6" r="1.55" fill="#0f74bb"/>
<circle cx="598.1" cy="169.5" r="1.55" fill="#df5e1d"/>
<circle cx="163.9" cy="78.2" r="1.55" fill="#e3671d"/>
<circle cx="295.9" cy="215.1" r="1.55" fill="#117dbf"/>
<circle cx="207.1" cy="34.6" r="1.55" fill="#1ca8ba"/>
<circle cx="131.6" cy="82.8" r="1.55" fill="#faca0f"/>
<circle cx="141.4" cy="83.7" r="1.55" fill="#ec8119"/>
<circle cx="623.7" cy="128.6" r="1.55" fill="#0e6eb7"/>
<circle cx="406.1" cy="225.7" r="1.55" fill="#69bf68"/>
<circle cx="237.6" cy="86.2" r="1.55" fill="#0f75bb"/>
<circle cx="250.1" cy="217.2" r="1.55" fill="#0e70b9"/>
<circle cx="233.0" cy="43.5" r="1.55" fill="#1078bd"/>
<circle cx="410.3" cy="217.3" r="1.55" fill="#d3d121"/>
<circle cx="209.7" cy="37.5" r="1.55" fill="#0d69b5"/>
<circle cx="596.8" cy="171.8" r="1.55" fill="#d9531f"/>
<circle cx="196.0" cy="94.0" r="1.55" fill="#f2d612"/>
<circle cx="191.5" cy="92.7" r="1.55" fill="#fbd20e"/>
<circle cx="624.0" cy="70.3" r="1.55" fill="#0e70b9"/>
<circle cx="619.7" cy="72.0" r="1.55" fill="#0f75bb"/>
<circle cx="172.2" cy="83.2" r="1.55" fill="#fbd30e"/>
<circle cx="265.7" cy="42.3" r="1.55" fill="#0d67b4"/>
<circle cx="171.7" cy="85.1" r="1.55" fill="#d9d21e"/>
<circle cx="111.1" cy="82.2" r="1.55" fill="#e0601d"/>
<circle cx="215.7" cy="97.4" r="1.55" fill="#c5cf28"/>
<circle cx="254.8" cy="267.9" r="1.55" fill="#59bd75"/>
<circle cx="258.0" cy="218.3" r="1.55" fill="#148ac1"/>
<circle cx="279.1" cy="219.2" r="1.55" fill="#0f73ba"/>
<circle cx="586.3" cy="167.9" r="1.55" fill="#db561e"/>
<circle cx="630.2" cy="79.3" r="1.55" fill="#f3d711"/>
<circle cx="209.3" cy="31.2" r="1.55" fill="#0e70b9"/>
<circle cx="284.1" cy="242.4" r="1.55" fill="#27b6aa"/>
<circle cx="358.1" cy="241.2" r="1.55" fill="#50bc7d"/>
<circle cx="329.3" cy="231.4" r="1.55" fill="#21b4b2"/>
<circle cx="586.5" cy="169.4" r="1.55" fill="#dd5a1e"/>
<circle cx="419.6" cy="183.7" r="1.55" fill="#f19416"/>
<circle cx="406.1" cy="224.0" r="1.55" fill="#ef8f17"/>
<circle cx="215.3" cy="100.8" r="1.55" fill="#cdd024"/>
<circle cx="234.5" cy="208.9" r="1.55" fill="#1eaeb7"/>
<circle cx="401.3" cy="226.7" r="1.55" fill="#158ac1"/>
<circle cx="185.7" cy="88.7" r="1.55" fill="#f9c210"/>
<circle cx="534.1" cy="151.2" r="1.55" fill="#dd591e"/>
<circle cx="91.4" cy="78.1" r="1.55" fill="#e3671d"/>
<circle cx="520.8" cy="146.8" r="1.55" fill="#d8511f"/>
<circle cx="265.9" cy="273.9" r="1.55" fill="#1793c3"/>
<circle cx="595.1" cy="185.8" r="1.55" fill="#df5e1e"/>
<circle cx="542.4" cy="153.2" r="1.55" fill="#e1611d"/>
<circle cx="277.5" cy="243.7" r="1.55" fill="#2bb7a4"/>
<circle cx="581.0" cy="162.3" r="1.55" fill="#e1621d"/>
<circle cx="529.5" cy="151.2" r="1.55" fill="#e2641d"/>
<circle cx="386.3" cy="237.3" r="1.55" fill="#25b5ac"/>
<circle cx="182.2" cy="88.2" r="1.55" fill="#f19516"/>
<circle cx="277.5" cy="260.6" r="1.55" fill="#1fb3b5"/>
<circle cx="515.0" cy="154.7" r="1.55" fill="#e4681c"/>
<circle cx="614.3" cy="105.6" r="1.55" fill="#1280bf"/>
<circle cx="394.6" cy="225.1" r="1.55" fill="#0d6ab5"/>
<circle cx="245.3" cy="258.0" r="1.55" fill="#0f76bc"/>
<circle cx="401.9" cy="234.2" r="1.55" fill="#c0ce2a"/>
<circle cx="171.6" cy="79.9" r="1.55" fill="#f6af12"/>
<circle cx="479.1" cy="167.6" r="1.55" fill="#e66d1c"/>
<circle cx="614.1" cy="104.0" r="1.55" fill="#107cbe"/>
<circle cx="419.9" cy="178.1" r="1.55" fill="#e56b1c"/>
<circle cx="538.8" cy="152.5" r="1.55" fill="#de5d1e"/>
<circle cx="397.4" cy="239.5" r="1.55" fill="#1ca8ba"/>
<circle cx="246.4" cy="215.7" r="1.55" fill="#1487c1"/>
<circle cx="325.7" cy="233.8" r="1.55" fill="#1898c3"/>
<circle cx="549.0" cy="128.0" r="1.55" fill="#0e6fb8"/>
<circle cx="206.2" cy="46.7" r="1.55" fill="#0e6cb7"/>
<circle cx="307.8" cy="216.2" r="1.55" fill="#0c64b2"/>
<circle cx="291.8" cy="216.8" r="1.55" fill="#117dbf"/>
<circle cx="241.2" cy="235.6" r="1.55" fill="#43bb88"/>
<circle cx="625.0" cy="74.4" r="1.55" fill="#e56b1c"/>
<circle cx="438.5" cy="172.8" r="1.55" fill="#e1621d"/>
<circle cx="171.0" cy="80.9" r="1.55" fill="#c6cf27"/>
<circle cx="94.1" cy="79.3" r="1.55" fill="#e9781a"/>
<circle cx="591.7" cy="182.8" r="1.55" fill="#de5d1e"/>
<circle cx="381.1" cy="237.2" r="1.55" fill="#40ba8b"/>
<circle cx="266.1" cy="270.8" r="1.55" fill="#0e6cb7"/>
<circle cx="546.0" cy="158.2" r="1.55" fill="#e2651d"/>
<circle cx="434.5" cy="162.0" r="1.55" fill="#de5c1e"/>
<circle cx="584.1" cy="170.7" r="1.55" fill="#df5e1e"/>
<circle cx="363.4" cy="240.2" r="1.55" fill="#62be6e"/>
<circle cx="570.1" cy="169.3" r="1.55" fill="#dd5a1e"/>
<circle cx="368.2" cy="218.3" r="1.55" fill="#1ba4bd"/>
<circle cx="343.3" cy="214.5" r="1.55" fill="#0e6db7"/>
<circle cx="483.9" cy="166.7" r="1.55" fill="#e3661d"/>
<circle cx="63.6" cy="77.4" r="1.55" fill="#f7b811"/>
<circle cx="69.1" cy="69.4" r="1.55" fill="#f5a513"/>
<circle cx="618.3" cy="146.0" r="1.55" fill="#28b6a9"/>
<circle cx="226.8" cy="121.2" r="1.55" fill="#1896c4"/>
<circle cx="255.9" cy="260.3" r="1.55" fill="#1dabb9"/>
<circle cx="242.9" cy="261.9" r="1.55" fill="#0c64b2"/>
<circle cx="363.2" cy="215.8" r="1.55" fill="#1383c0"/>
<circle cx="484.2" cy="164.3" r="1.55" fill="#e2641d"/>
<circle cx="355.7" cy="235.6" r="1.55" fill="#2ab6a6"/>
<circle cx="159.0" cy="77.8" r="1.55" fill="#f09016"/>
<circle cx="211.2" cy="96.3" r="1.55" fill="#1ca8ba"/>
<circle cx="341.5" cy="217.7" r="1.55" fill="#0d68b4"/>
<circle cx="166.8" cy="81.5" r="1.55" fill="#f4d711"/>
<circle cx="101.9" cy="81.1" r="1.55" fill="#e4681c"/>
<circle cx="382.2" cy="237.4" r="1.55" fill="#27b6aa"/>
<circle cx="400.6" cy="234.2" r="1.55" fill="#c0ce2a"/>
<circle cx="259.6" cy="266.8" r="1.55" fill="#b7cd2f"/>
<circle cx="196.4" cy="96.0" r="1.55" fill="#f7b511"/>
<circle cx="588.8" cy="177.7" r="1.55" fill="#e8731b"/>
<circle cx="382.8" cy="238.6" r="1.55" fill="#1ca8ba"/>
<circle cx="110.8" cy="83.0" r="1.55" fill="#f29a15"/>
<circle cx="449.7" cy="173.7" r="1.55" fill="#df5e1d"/>
<circle cx="293.8" cy="216.2" r="1.55" fill="#0d6cb6"/>
<circle cx="221.9" cy="99.2" r="1.55" fill="#d1d122"/>
<circle cx="279.7" cy="247.3" r="1.55" fill="#1dadb8"/>
<circle cx="362.2" cy="239.3" r="1.55" fill="#66bf6b"/>
<circle cx="521.8" cy="144.3" r="1.55" fill="#e1621d"/>
<circle cx="321.8" cy="221.9" r="1.55" fill="#2ab6a5"/>
<circle cx="209.9" cy="95.7" r="1.55" fill="#a7ca3b"/>
<circle cx="472.4" cy="168.6" r="1.55" fill="#da551e"/>
<circle cx="245.2" cy="217.4" r="1.55" fill="#148ac1"/>
<circle cx="587.7" cy="181.1" r="1.55" fill="#fbd80e"/>
<circle cx="358.9" cy="237.9" r="1.55" fill="#2bb7a4"/>
<circle cx="244.7" cy="86.6" r="1.55" fill="#1079be"/>
<circle cx="136.8" cy="82.4" r="1.55" fill="#f4a214"/>
<circle cx="318.0" cy="216.1" r="1.55" fill="#1488c1"/>
<circle cx="444.2" cy="172.7" r="1.55" fill="#dc581e"/>
<circle cx="91.5" cy="77.7" r="1.55" fill="#dd5a1e"/>
<circle cx="220.2" cy="101.1" r="1.55" fill="#adcb36"/>
<circle cx="225.6" cy="139.0" r="1.55" fill="#1ba3bd"/>
<circle cx="191.5" cy="89.9" r="1.55" fill="#4ebc7f"/>
<circle cx="490.0" cy="163.6" r="1.55" fill="#dc591e"/>
<circle cx="412.4" cy="193.2" r="1.55" fill="#f5a413"/>
<circle cx="626.2" cy="132.3" r="1.55" fill="#facd0e"/>
<circle cx="608.5" cy="161.6" r="1.55" fill="#dc581e"/>
<circle cx="265.0" cy="273.8" r="1.55" fill="#0f74bb"/>
<circle cx="247.5" cy="215.8" r="1.55" fill="#107abe"/>
<circle cx="234.8" cy="50.3" r="1.55" fill="#0d6cb6"/>
<circle cx="65.7" cy="76.4" r="1.55" fill="#e56a1c"/>
<circle cx="236.7" cy="233.9" r="1.55" fill="#26b6aa"/>
<circle cx="526.1" cy="147.3" r="1.55" fill="#de5c1e"/>
<circle cx="274.8" cy="255.0" r="1.55" fill="#8cc54e"/>
<circle cx="202.6" cy="25.4" r="1.55" fill="#0e6db7"/>
<circle cx="326.3" cy="234.0" r="1.55" fill="#2eb7a1"/>
<circle cx="211.7" cy="95.6" r="1.55" fill="#c0ce2a"/>
<circle cx="251.3" cy="245.4" r="1.55" fill="#21b5b1"/>
<circle cx="354.1" cy="237.7" r="1.55" fill="#2ab6a6"/>
<circle cx="293.8" cy="235.0" r="1.55" fill="#8fc64c"/>
<circle cx="505.6" cy="156.7" r="1.55" fill="#e4681c"/>
<circle cx="484.7" cy="164.8" r="1.55" fill="#d8501f"/>
<circle cx="274.5" cy="262.2" r="1.55" fill="#2bb6a5"/>
<circle cx="463.1" cy="168.5" r="1.55" fill="#db551e"/>
<circle cx="404.2" cy="214.9" r="1.55" fill="#f7b711"/>
<circle cx="411.0" cy="196.0" r="1.55" fill="#facb0f"/>
<circle cx="382.0" cy="236.6" r="1.55" fill="#5bbe73"/>
<circle cx="414.5" cy="194.7" r="1.55" fill="#afcb35"/>
<circle cx="122.2" cy="84.8" r="1.55" fill="#ea7a1a"/>
<circle cx="426.9" cy="176.5" r="1.55" fill="#e9761a"/>
<circle cx="562.3" cy="172.7" r="1.55" fill="#d8501f"/>
<circle cx="208.4" cy="38.8" r="1.55" fill="#0f77bc"/>
<circle cx="314.7" cy="231.6" r="1.55" fill="#3aba91"/>
<circle cx="171.7" cy="82.3" r="1.55" fill="#ec8219"/>
<circle cx="586.7" cy="174.4" r="1.55" fill="#dd5a1e"/>
<circle cx="92.1" cy="80.2" r="1.55" fill="#ea7b1a"/>
<circle cx="588.6" cy="175.6" r="1.55" fill="#e1631d"/>
<circle cx="195.2" cy="94.1" r="1.55" fill="#f7b312"/>
<circle cx="130.7" cy="82.2" r="1.55" fill="#eb8019"/>
<circle cx="547.0" cy="157.6" r="1.55" fill="#dd591e"/>
<circle cx="238.0" cy="247.4" r="1.55" fill="#54bd7a"/>
<circle cx="271.7" cy="246.1" r="1.55" fill="#72c061"/>
<circle cx="274.0" cy="260.0" r="1.55" fill="#3bba8f"/>
<circle cx="206.7" cy="47.9" r="1.55" fill="#0f77bc"/>
<circle cx="153.4" cy="78.9" r="1.55" fill="#e2641d"/>
<circle cx="261.3" cy="44.6" r="1.55" fill="#1079bd"/>
<circle cx="565.4" cy="179.8" r="1.55" fill="#de5d1e"/>
<circle cx="375.9" cy="240.2" r="1.55" fill="#31b89d"/>
<circle cx="542.0" cy="154.9" r="1.55" fill="#df5e1e"/>
<circle cx="408.4" cy="216.3" r="1.55" fill="#fbd30e"/>
<circle cx="254.8" cy="271.4" r="1.55" fill="#3eba8d"/>
<circle cx="588.9" cy="183.6" r="1.55" fill="#db561e"/>
<circle cx="165.7" cy="80.6" r="1.55" fill="#f7b212"/>
<circle cx="420.8" cy="180.7" r="1.55" fill="#fad80e"/>
<circle cx="268.5" cy="214.8" r="1.55" fill="#1eb0b6"/>
<circle cx="148.9" cy="82.4" r="1.55" fill="#dd591e"/>
<circle cx="453.4" cy="173.6" r="1.55" fill="#da541f"/>
<circle cx="486.5" cy="165.0" r="1.55" fill="#da541f"/>
<circle cx="238.4" cy="39.7" r="1.55" fill="#0d6cb6"/>
<circle cx="225.9" cy="157.5" r="1.55" fill="#87c452"/>
<circle cx="591.3" cy="181.8" r="1.55" fill="#e1621d"/>
<circle cx="472.6" cy="169.3" r="1.55" fill="#e3671d"/>
<circle cx="514.5" cy="149.4" r="1.55" fill="#dc581e"/>
<circle cx="356.7" cy="238.0" r="1.55" fill="#2db7a2"/>
<circle cx="473.2" cy="164.4" r="1.55" fill="#dc581e"/>
<circle cx="494.3" cy="159.9" r="1.55" fill="#de5b1e"/>
<circle cx="206.6" cy="36.8" r="1.55" fill="#107abe"/>
<circle cx="380.4" cy="239.9" r="1.55" fill="#59bd76"/>
<circle cx="402.6" cy="221.3" r="1.55" fill="#117fbf"/>
<circle cx="399.6" cy="215.4" r="1.55" fill="#20b4b3"/>
<circle cx="589.0" cy="182.1" r="1.55" fill="#e76e1c"/>
<circle cx="304.1" cy="231.8" r="1.55" fill="#99c745"/>
<circle cx="128.4" cy="82.6" r="1.55" fill="#ea7a1a"/>
<circle cx="209.4" cy="32.4" r="1.55" fill="#0e71b9"/>
<circle cx="385.4" cy="239.1" r="1.55" fill="#81c356"/>
<circle cx="601.8" cy="168.5" r="1.55" fill="#d9511f"/>
<circle cx="571.3" cy="171.1" r="1.55" fill="#dd5a1e"/>
<circle cx="461.3" cy="167.7" r="1.55" fill="#df5f1d"/>
<circle cx="323.3" cy="233.4" r="1.55" fill="#1ba4bc"/>
<circle cx="260.8" cy="272.7" r="1.55" fill="#0f75bb"/>
<circle cx="218.0" cy="99.7" r="1.55" fill="#efd613"/>
<circle cx="227.2" cy="163.7" r="1.55" fill="#117cbe"/>
<circle cx="277.1" cy="251.8" r="1.55" fill="#25b5ac"/>
<circle cx="412.9" cy="199.6" r="1.55" fill="#e8721b"/>
<circle cx="147.4" cy="83.3" r="1.55" fill="#e56b1c"/>
<circle cx="563.0" cy="175.8" r="1.55" fill="#d9531f"/>
<circle cx="272.6" cy="260.9" r="1.55" fill="#31b89c"/>
<circle cx="135.6" cy="84.2" r="1.55" fill="#e3671d"/>
<circle cx="274.1" cy="259.1" r="1.55" fill="#25b5ac"/>
<circle cx="145.3" cy="83.7" r="1.55" fill="#d8501f"/>
<circle cx="232.7" cy="55.8" r="1.55" fill="#0c66b3"/>
<circle cx="319.3" cy="232.3" r="1.55" fill="#2ab6a6"/>
<circle cx="310.5" cy="228.4" r="1.55" fill="#2eb7a0"/>
<circle cx="389.2" cy="222.0" r="1.55" fill="#1488c1"/>
<circle cx="590.4" cy="180.8" r="1.55" fill="#d9531f"/>
<circle cx="281.8" cy="241.0" r="1.55" fill="#34b899"/>
<circle cx="587.1" cy="172.2" r="1.55" fill="#da541f"/>
<circle cx="183.8" cy="88.2" r="1.55" fill="#e8741b"/>
<circle cx="389.3" cy="215.8" r="1.55" fill="#1282c0"/>
<circle cx="335.6" cy="231.9" r="1.55" fill="#23b5af"/>
<circle cx="613.2" cy="157.7" r="1.55" fill="#dc581e"/>
<circle cx="360.8" cy="223.0" r="1.55" fill="#0f75bb"/>
<circle cx="207.8" cy="28.7" r="1.55" fill="#0c66b3"/>
<circle cx="162.2" cy="81.4" r="1.55" fill="#e66b1c"/>
<circle cx="159.8" cy="76.3" r="1.55" fill="#e7701b"/>
<circle cx="272.8" cy="261.8" r="1.55" fill="#34b899"/>
<circle cx="514.1" cy="153.6" r="1.55" fill="#d9521f"/>
<circle cx="619.1" cy="66.9" r="1.55" fill="#1eb1b5"/>
<circle cx="281.7" cy="242.6" r="1.55" fill="#1792c3"/>
<circle cx="317.2" cy="218.2" r="1.55" fill="#0f75bb"/>
<circle cx="247.3" cy="261.8" r="1.55" fill="#58bd76"/>
<circle cx="488.0" cy="163.5" r="1.55" fill="#dc571e"/>
<circle cx="442.2" cy="175.5" r="1.55" fill="#dd591e"/>
<circle cx="613.3" cy="106.9" r="1.55" fill="#117ebf"/>
<circle cx="588.5" cy="183.5" r="1.55" fill="#da541f"/>
<circle cx="379.9" cy="237.0" r="1.55" fill="#41bb8a"/>
<circle cx="101.7" cy="77.8" r="1.55" fill="#f7b811"/>
<circle cx="228.0" cy="90.0" r="1.55" fill="#0d67b4"/>
<circle cx="589.7" cy="186.3" r="1.55" fill="#e2641d"/>
<circle cx="509.0" cy="154.9" r="1.55" fill="#da541f"/>
<circle cx="272.4" cy="53.3" r="1.55" fill="#0e70b8"/>
<circle cx="488.5" cy="162.2" r="1.55" fill="#e66b1c"/>
<circle cx="592.8" cy="180.2" r="1.55" fill="#f4a014"/>
<circle cx="142.6" cy="21.4" r="1.55" fill="#0d68b4"/>
<circle cx="338.5" cy="236.5" r="1.55" fill="#20b4b3"/>
<circle cx="289.1" cy="237.5" r="1.55" fill="#3fba8c"/>
<circle cx="333.0" cy="234.1" r="1.55" fill="#accb37"/>
<circle cx="627.3" cy="75.8" r="1.55" fill="#da531f"/>
<circle cx="510.5" cy="155.7" r="1.55" fill="#f5d710"/>
<circle cx="365.2" cy="239.1" r="1.55" fill="#74c15f"/>
<circle cx="392.5" cy="240.6" r="1.55" fill="#46bb86"/>
<circle cx="262.9" cy="263.2" r="1.55" fill="#0f74bb"/>
<circle cx="622.1" cy="93.4" r="1.55" fill="#1eb1b5"/>
<circle cx="262.0" cy="25.3" r="1.55" fill="#0d68b4"/>
<circle cx="594.1" cy="176.2" r="1.55" fill="#d9521f"/>
<circle cx="192.7" cy="89.3" r="1.55" fill="#f6af12"/>
<circle cx="609.8" cy="162.0" r="1.55" fill="#dc581e"/>
<circle cx="336.5" cy="232.4" r="1.55" fill="#85c453"/>
<circle cx="475.9" cy="170.1" r="1.55" fill="#e3661d"/>
<circle cx="263.3" cy="275.8" r="1.55" fill="#1281bf"/>
<circle cx="83.7" cy="77.8" r="1.55" fill="#e3651d"/>
<circle cx="610.3" cy="162.0" r="1.55" fill="#dd591e"/>
<circle cx="79.6" cy="72.8" r="1.55" fill="#ea7a1a"/>
<circle cx="203.7" cy="62.9" r="1.55" fill="#0d6ab5"/>
<circle cx="402.2" cy="215.4" r="1.55" fill="#1281c0"/>
<circle cx="516.3" cy="148.1" r="1.55" fill="#de5b1e"/>
<circle cx="338.6" cy="233.7" r="1.55" fill="#32b89b"/>
<circle cx="531.8" cy="151.5" r="1.55" fill="#dd5b1e"/>
<circle cx="94.5" cy="78.6" r="1.55" fill="#ef8e17"/>
<circle cx="195.7" cy="93.5" r="1.55" fill="#dcd31c"/>
<circle cx="545.9" cy="155.5" r="1.55" fill="#e4681c"/>
<circle cx="341.0" cy="217.0" r="1.55" fill="#1489c1"/>
<circle cx="201.3" cy="11.1" r="1.55" fill="#0d67b4"/>
<circle cx="590.2" cy="183.4" r="1.55" fill="#db561e"/>
<circle cx="446.5" cy="172.5" r="1.55" fill="#d8501f"/>
<circle cx="561.8" cy="169.3" r="1.55" fill="#db551e"/>
<circle cx="279.4" cy="216.8" r="1.55" fill="#0f73ba"/>
<circle cx="352.0" cy="235.6" r="1.55" fill="#59bd75"/>
<circle cx="148.3" cy="84.3" r="1.55" fill="#e4671d"/>
<circle cx="408.7" cy="226.1" r="1.55" fill="#42bb89"/>
<circle cx="227.6" cy="84.6" r="1.55" fill="#0f73ba"/>
<circle cx="177.0" cy="36.0" r="1.55" fill="#0d6cb6"/>
<circle cx="589.9" cy="184.1" r="1.55" fill="#d8501f"/>
<circle cx="619.6" cy="92.4" r="1.55" fill="#f5d710"/>
<circle cx="244.1" cy="83.7" r="1.55" fill="#0f75bb"/>
<circle cx="485.7" cy="166.7" r="1.55" fill="#e0601d"/>
<circle cx="407.2" cy="209.6" r="1.55" fill="#75c15f"/>
<circle cx="361.9" cy="222.5" r="1.55" fill="#1282c0"/>
<circle cx="428.0" cy="174.9" r="1.55" fill="#e66e1c"/>
<circle cx="385.5" cy="215.6" r="1.55" fill="#0f73ba"/>
<circle cx="126.6" cy="87.4" r="1.55" fill="#d8501f"/>
<circle cx="225.8" cy="159.3" r="1.55" fill="#199bc1"/>
<circle cx="389.8" cy="237.1" r="1.55" fill="#5abd75"/>
<circle cx="207.7" cy="31.7" r="1.55" fill="#0d69b5"/>
<circle cx="266.9" cy="55.9" r="1.55" fill="#0f73ba"/>
<circle cx="333.6" cy="220.4" r="1.55" fill="#1385c0"/>
<circle cx="586.1" cy="171.3" r="1.55" fill="#dc581e"/>
<circle cx="561.3" cy="174.2" r="1.55" fill="#dd5a1e"/>
<circle cx="611.9" cy="94.7" r="1.55" fill="#0d6bb6"/>
<circle cx="217.7" cy="28.3" r="1.55" fill="#0f75bb"/>
<circle cx="394.2" cy="238.8" r="1.55" fill="#33b89a"/>
<circle cx="294.6" cy="218.2" r="1.55" fill="#1385c0"/>
<circle cx="532.4" cy="152.8" r="1.55" fill="#dc581e"/>
<circle cx="141.1" cy="42.9" r="1.55" fill="#0d69b5"/>
<circle cx="377.1" cy="237.4" r="1.55" fill="#1fb3b4"/>
<circle cx="447.7" cy="176.0" r="1.55" fill="#e66c1c"/>
<circle cx="272.4" cy="267.6" r="1.55" fill="#25b5ac"/>
<circle cx="142.2" cy="61.9" r="1.55" fill="#1079bd"/>
<circle cx="583.4" cy="164.8" r="1.55" fill="#db571e"/>
<circle cx="547.1" cy="158.1" r="1.55" fill="#df5d1e"/>
<circle cx="100.4" cy="80.6" r="1.55" fill="#e66d1c"/>
<circle cx="264.2" cy="276.3" r="1.55" fill="#1ca7bb"/>
<circle cx="233.1" cy="193.9" r="1.55" fill="#0c66b3"/>
<circle cx="258.4" cy="215.7" r="1.55" fill="#1384c0"/>
<circle cx="552.4" cy="159.6" r="1.55" fill="#e0601d"/>
<circle cx="87.6" cy="77.6" r="1.55" fill="#df5e1e"/>
<circle cx="287.4" cy="216.3" r="1.55" fill="#107abe"/>
<circle cx="555.2" cy="162.4" r="1.55" fill="#da531f"/>
<circle cx="353.3" cy="235.8" r="1.55" fill="#4abc82"/>
<circle cx="337.4" cy="216.3" r="1.55" fill="#0f74bb"/>
<circle cx="301.4" cy="231.9" r="1.55" fill="#42bb89"/>
<circle cx="281.6" cy="246.0" r="1.55" fill="#3fba8b"/>
<circle cx="404.5" cy="199.3" r="1.55" fill="#117fbf"/>
<circle cx="387.0" cy="239.7" r="1.55" fill="#3bba90"/>
<circle cx="286.5" cy="240.6" r="1.55" fill="#9bc843"/>
<circle cx="143.7" cy="82.7" r="1.55" fill="#e1611d"/>
<circle cx="366.3" cy="238.8" r="1.55" fill="#2cb7a3"/>
<circle cx="588.8" cy="187.8" r="1.55" fill="#da551f"/>
<circle cx="480.6" cy="166.1" r="1.55" fill="#da531f"/>
<circle cx="65.5" cy="75.4" r="1.55" fill="#8ac550"/>
<circle cx="626.7" cy="113.4" r="1.55" fill="#1eb1b5"/>
<circle cx="310.5" cy="217.6" r="1.55" fill="#0f75bb"/>
<circle cx="280.5" cy="243.0" r="1.55" fill="#1999c3"/>
<circle cx="346.8" cy="236.7" r="1.55" fill="#32b89b"/>
<circle cx="328.4" cy="232.0" r="1.55" fill="#6abf67"/>
<circle cx="319.0" cy="221.0" r="1.55" fill="#1aa0bf"/>
<circle cx="213.7" cy="93.9" r="1.55" fill="#9fc840"/>
<circle cx="211.9" cy="96.2" r="1.55" fill="#d0d123"/>
<circle cx="345.7" cy="214.8" r="1.55" fill="#1383c0"/>
<circle cx="379.6" cy="235.2" r="1.55" fill="#44bb87"/>
<circle cx="295.0" cy="222.3" r="1.55" fill="#1281c0"/>
<circle cx="585.6" cy="168.4" r="1.55" fill="#db551e"/>
<circle cx="620.8" cy="79.1" r="1.55" fill="#107abe"/>
<circle cx="402.7" cy="214.7" r="1.55" fill="#88c451"/>
<circle cx="328.2" cy="234.0" r="1.55" fill="#1ca7bb"/>
<circle cx="223.6" cy="128.0" r="1.55" fill="#7ec358"/>
<circle cx="459.5" cy="171.9" r="1.55" fill="#d9521f"/>
<circle cx="262.5" cy="39.6" r="1.55" fill="#1078bd"/>
<circle cx="377.6" cy="215.3" r="1.55" fill="#0f73ba"/>
<circle cx="606.8" cy="107.4" r="1.55" fill="#0d6bb6"/>
<circle cx="241.1" cy="48.6" r="1.55" fill="#0e6eb7"/>
<circle cx="622.3" cy="109.6" r="1.55" fill="#b1cc33"/>
<circle cx="70.2" cy="74.5" r="1.55" fill="#fac70f"/>
<circle cx="144.2" cy="23.7" r="1.55" fill="#0e6db7"/>
<circle cx="592.0" cy="187.4" r="1.55" fill="#d9521f"/>
<circle cx="381.2" cy="239.5" r="1.55" fill="#84c454"/>
<circle cx="150.7" cy="78.2" r="1.55" fill="#ec8418"/>
<circle cx="406.0" cy="228.7" r="1.55" fill="#7cc259"/>
<circle cx="406.9" cy="179.0" r="1.55" fill="#158bc2"/>
<circle cx="585.8" cy="181.6" r="1.55" fill="#dd5a1e"/>
<circle cx="88.9" cy="78.2" r="1.55" fill="#facc0e"/>
<circle cx="380.8" cy="218.1" r="1.55" fill="#0d69b5"/>
<circle cx="214.2" cy="37.0" r="1.55" fill="#0c65b3"/>
<circle cx="296.2" cy="234.8" r="1.55" fill="#6abf67"/>
<circle cx="272.6" cy="265.8" r="1.55" fill="#36b996"/>
<circle cx="620.9" cy="73.6" r="1.55" fill="#117ebf"/>
<circle cx="85.0" cy="76.0" r="1.55" fill="#c1cf29"/>
<circle cx="503.4" cy="157.8" r="1.55" fill="#dc581e"/>
<circle cx="350.7" cy="215.8" r="1.55" fill="#0f74bb"/>
<circle cx="420.4" cy="177.9" r="1.55" fill="#d8501f"/>
<circle cx="491.8" cy="164.1" r="1.55" fill="#d8501f"/>
<circle cx="173.4" cy="83.0" r="1.55" fill="#e4681c"/>
<circle cx="473.6" cy="166.4" r="1.55" fill="#da551e"/>
<circle cx="399.8" cy="239.3" r="1.55" fill="#62be6e"/>
<circle cx="464.1" cy="173.1" r="1.55" fill="#dd5b1e"/>
<circle cx="279.0" cy="219.0" r="1.55" fill="#117dbf"/>
<circle cx="268.7" cy="255.5" r="1.55" fill="#4ebc7f"/>
<circle cx="288.0" cy="238.2" r="1.55" fill="#76c15d"/>
<circle cx="569.8" cy="172.0" r="1.55" fill="#df5f1d"/>
<circle cx="98.6" cy="77.5" r="1.55" fill="#f9c210"/>
<circle cx="461.2" cy="169.5" r="1.55" fill="#e3661d"/>
<circle cx="550.8" cy="158.6" r="1.55" fill="#d9531f"/>
<circle cx="311.3" cy="233.3" r="1.55" fill="#a0c93f"/>
<circle cx="152.3" cy="79.8" r="1.55" fill="#e05f1d"/>
<circle cx="582.8" cy="162.5" r="1.55" fill="#df5f1d"/>
<circle cx="69.4" cy="70.5" r="1.55" fill="#d8501f"/>
<circle cx="94.2" cy="25.1" r="1.55" fill="#0e6fb8"/>
<circle cx="202.7" cy="60.3" r="1.55" fill="#0e6db7"/>
<circle cx="255.0" cy="220.3" r="1.55" fill="#0f73ba"/>
<circle cx="98.0" cy="76.7" r="1.55" fill="#e0601d"/>
<circle cx="328.2" cy="232.8" r="1.55" fill="#3dba8d"/>
<circle cx="592.9" cy="186.0" r="1.55" fill="#d9511f"/>
<circle cx="263.3" cy="217.5" r="1.55" fill="#1280bf"/>
<circle cx="332.9" cy="235.4" r="1.55" fill="#2db7a1"/>
<circle cx="594.4" cy="186.8" r="1.55" fill="#de5c1e"/>
<circle cx="178.6" cy="37.2" r="1.55" fill="#0d68b4"/>
<circle cx="263.9" cy="221.6" r="1.55" fill="#117cbe"/>
<circle cx="131.5" cy="45.9" r="1.55" fill="#0e71b9"/>
<circle cx="218.8" cy="97.5" r="1.55" fill="#c5cf28"/>
<circle cx="357.9" cy="236.6" r="1.55" fill="#4bbc82"/>
<circle cx="394.7" cy="216.2" r="1.55" fill="#117cbf"/>
<circle cx="407.9" cy="210.9" r="1.55" fill="#9ec841"/>
<circle cx="99.8" cy="79.5" r="1.55" fill="#d4d220"/>
<circle cx="355.4" cy="215.9" r="1.55" fill="#1383c0"/>
<circle cx="420.5" cy="179.6" r="1.55" fill="#d8501f"/>
<circle cx="274.4" cy="216.6" r="1.55" fill="#0c65b2"/>
<circle cx="288.5" cy="216.1" r="1.55" fill="#0d6cb6"/>
<circle cx="276.6" cy="250.4" r="1.55" fill="#23b5ae"/>
<circle cx="245.7" cy="266.6" r="1.55" fill="#3fba8b"/>
<circle cx="487.8" cy="164.6" r="1.55" fill="#db561e"/>
<circle cx="160.0" cy="78.7" r="1.55" fill="#de5b1e"/>
<circle cx="392.4" cy="238.6" r="1.55" fill="#a3c93d"/>
<circle cx="283.1" cy="241.2" r="1.55" fill="#35b997"/>
<circle cx="621.1" cy="79.3" r="1.55" fill="#0f75bb"/>
<circle cx="107.5" cy="81.7" r="1.55" fill="#e56a1c"/>
<circle cx="329.7" cy="217.3" r="1.55" fill="#0d6ab5"/>
<circle cx="245.7" cy="46.0" r="1.55" fill="#0f77bc"/>
<circle cx="268.6" cy="218.1" r="1.55" fill="#1383c0"/>
<circle cx="272.0" cy="258.1" r="1.55" fill="#2bb6a5"/>
<circle cx="69.5" cy="69.1" r="1.55" fill="#73c160"/>
<circle cx="237.6" cy="238.9" r="1.55" fill="#107bbe"/>
<circle cx="310.0" cy="230.6" r="1.55" fill="#1eb0b6"/>
<circle cx="181.6" cy="48.5" r="1.55" fill="#0e6eb7"/>
<circle cx="426.8" cy="174.7" r="1.55" fill="#e5691c"/>
<circle cx="588.6" cy="186.2" r="1.55" fill="#d8501f"/>
<circle cx="311.5" cy="228.6" r="1.55" fill="#4ebc7f"/>
<circle cx="153.8" cy="38.6" r="1.55" fill="#0e70b9"/>
<circle cx="159.5" cy="79.1" r="1.55" fill="#da541f"/>
<circle cx="500.1" cy="160.6" r="1.55" fill="#d8511f"/>
<circle cx="256.2" cy="272.8" r="1.55" fill="#0e6eb8"/>
<circle cx="279.0" cy="245.9" r="1.55" fill="#1ca8bb"/>
<circle cx="457.6" cy="171.5" r="1.55" fill="#db561e"/>
<circle cx="245.6" cy="215.6" r="1.55" fill="#0f77bc"/>
<circle cx="298.3" cy="234.6" r="1.55" fill="#8cc54e"/>
<circle cx="451.8" cy="173.5" r="1.55" fill="#de5d1e"/>
<circle cx="387.2" cy="230.1" r="1.55" fill="#0e6cb7"/>
<circle cx="201.1" cy="91.7" r="1.55" fill="#f5a414"/>
<circle cx="184.8" cy="86.9" r="1.55" fill="#e56a1c"/>
<circle cx="570.0" cy="174.3" r="1.55" fill="#d8511f"/>
<circle cx="370.6" cy="217.1" r="1.55" fill="#127fbf"/>
<circle cx="332.0" cy="235.1" r="1.55" fill="#2db7a2"/>
<circle cx="316.8" cy="234.0" r="1.55" fill="#27b6a9"/>
<circle cx="609.2" cy="159.6" r="1.55" fill="#d9531f"/>
<circle cx="234.6" cy="32.3" r="1.55" fill="#0f74bb"/>
<circle cx="394.8" cy="239.8" r="1.55" fill="#36b996"/>
<circle cx="340.6" cy="218.7" r="1.55" fill="#0e70b9"/>
<circle cx="254.9" cy="214.5" r="1.55" fill="#1a9dc0"/>
<circle cx="184.7" cy="87.8" r="1.55" fill="#f39b15"/>
<circle cx="399.9" cy="215.3" r="1.55" fill="#1dabb9"/>
<circle cx="390.4" cy="231.7" r="1.55" fill="#0e6cb7"/>
<circle cx="340.6" cy="221.8" r="1.55" fill="#0d67b4"/>
<circle cx="564.9" cy="171.7" r="1.55" fill="#da541f"/>
<circle cx="584.5" cy="167.2" r="1.55" fill="#e66c1c"/>
<circle cx="397.5" cy="237.0" r="1.55" fill="#65bf6b"/>
<circle cx="513.2" cy="152.0" r="1.55" fill="#dd5a1e"/>
<circle cx="341.2" cy="235.6" r="1.55" fill="#49bb83"/>
<circle cx="163.3" cy="77.7" r="1.55" fill="#e05f1d"/>
<circle cx="599.6" cy="174.6" r="1.55" fill="#dc571e"/>
<circle cx="274.3" cy="258.3" r="1.55" fill="#43bb88"/>
<circle cx="128.3" cy="83.8" r="1.55" fill="#df5f1d"/>
<circle cx="298.9" cy="217.2" r="1.55" fill="#0d6cb6"/>
<circle cx="213.2" cy="96.9" r="1.55" fill="#ec8219"/>
<circle cx="602.9" cy="166.3" r="1.55" fill="#dc581e"/>
<circle cx="382.2" cy="217.6" r="1.55" fill="#1385c0"/>
<circle cx="357.4" cy="238.2" r="1.55" fill="#8bc54e"/>
<circle cx="352.9" cy="238.8" r="1.55" fill="#1079be"/>
<circle cx="614.2" cy="107.2" r="1.55" fill="#0f73ba"/>
<circle cx="585.9" cy="180.5" r="1.55" fill="#da541f"/>
<circle cx="154.0" cy="45.1" r="1.55" fill="#0f74bb"/>
<circle cx="139.8" cy="33.6" r="1.55" fill="#1078bd"/>
<circle cx="563.0" cy="179.8" r="1.55" fill="#e0601d"/>
<circle cx="189.4" cy="90.0" r="1.55" fill="#fbd30e"/>
<circle cx="226.4" cy="169.7" r="1.55" fill="#2cb7a4"/>
<circle cx="416.6" cy="187.0" r="1.55" fill="#71c061"/>
<circle cx="217.3" cy="28.6" r="1.55" fill="#0e6fb8"/>
<circle cx="113.1" cy="82.6" r="1.55" fill="#e2631d"/>
<circle cx="581.3" cy="160.8" r="1.55" fill="#e66e1c"/>
<circle cx="573.3" cy="167.4" r="1.55" fill="#de5c1e"/>
<circle cx="453.2" cy="172.6" r="1.55" fill="#f9c40f"/>
<circle cx="404.6" cy="186.9" r="1.55" fill="#0e71b9"/>
<circle cx="223.4" cy="101.1" r="1.55" fill="#76c15e"/>
<circle cx="456.4" cy="171.6" r="1.55" fill="#e0601d"/>
<circle cx="616.4" cy="154.0" r="1.55" fill="#20b4b3"/>
<circle cx="106.9" cy="83.8" r="1.55" fill="#e4671c"/>
<circle cx="367.2" cy="237.6" r="1.55" fill="#3eba8c"/>
<circle cx="467.5" cy="169.9" r="1.55" fill="#e3661d"/>
<circle cx="597.1" cy="173.8" r="1.55" fill="#d9521f"/>
<circle cx="535.7" cy="152.1" r="1.55" fill="#da541f"/>
<circle cx="153.0" cy="81.0" r="1.55" fill="#e8731b"/>
<circle cx="326.0" cy="233.0" r="1.55" fill="#32b89c"/>
<circle cx="192.0" cy="92.5" r="1.55" fill="#e2651d"/>
<circle cx="100.7" cy="80.2" r="1.55" fill="#f7b312"/>
<circle cx="499.5" cy="161.1" r="1.55" fill="#df5f1d"/>
<circle cx="373.2" cy="239.5" r="1.55" fill="#2bb6a5"/>
<circle cx="300.9" cy="216.3" r="1.55" fill="#1079be"/>
<circle cx="278.9" cy="238.9" r="1.55" fill="#46bb85"/>
<circle cx="623.7" cy="122.6" r="1.55" fill="#57bd77"/>
<circle cx="115.7" cy="86.3" r="1.55" fill="#f8b911"/>
<circle cx="188.9" cy="91.1" r="1.55" fill="#f9c210"/>
<circle cx="225.6" cy="141.6" r="1.55" fill="#0c64b2"/>
<circle cx="505.0" cy="130.0" r="1.55" fill="#0e6fb8"/>
<circle cx="445.8" cy="176.5" r="1.55" fill="#d9521f"/>
<circle cx="586.8" cy="177.2" r="1.55" fill="#e1621d"/>
<circle cx="150.0" cy="82.7" r="1.55" fill="#f5d710"/>
<circle cx="382.9" cy="217.9" r="1.55" fill="#0c65b2"/>
<circle cx="271.6" cy="267.9" r="1.55" fill="#1998c3"/>
<circle cx="229.8" cy="205.2" r="1.55" fill="#0e6fb8"/>
<circle cx="584.3" cy="166.0" r="1.55" fill="#dc571e"/>
<circle cx="245.5" cy="218.2" r="1.55" fill="#0f73ba"/>
<circle cx="614.6" cy="152.1" r="1.55" fill="#f6b112"/>
<circle cx="301.8" cy="235.3" r="1.55" fill="#48bb84"/>
<circle cx="63.7" cy="76.9" r="1.55" fill="#d8501f"/>
<circle cx="215.6" cy="31.1" r="1.55" fill="#0c66b3"/>
<circle cx="502.1" cy="159.6" r="1.55" fill="#e1611d"/>
<circle cx="476.9" cy="165.6" r="1.55" fill="#da551e"/>
<circle cx="185.8" cy="89.7" r="1.55" fill="#efd613"/>
<circle cx="243.4" cy="232.8" r="1.55" fill="#35b997"/>
<circle cx="214.9" cy="28.4" r="1.55" fill="#0f74bb"/>
<circle cx="385.6" cy="235.0" r="1.55" fill="#1386c1"/>
<circle cx="561.2" cy="172.6" r="1.55" fill="#dd591e"/>
<circle cx="118.3" cy="82.6" r="1.55" fill="#dd591e"/>
<circle cx="622.0" cy="102.5" r="1.55" fill="#1eb1b5"/>
<circle cx="407.6" cy="223.1" r="1.55" fill="#30b79e"/>
<circle cx="304.1" cy="232.8" r="1.55" fill="#4bbc81"/>
<circle cx="499.3" cy="158.2" r="1.55" fill="#e05f1d"/>
<circle cx="151.1" cy="83.3" r="1.55" fill="#f9c110"/>
<circle cx="598.4" cy="180.9" r="1.55" fill="#dd5a1e"/>
<circle cx="157.6" cy="76.3" r="1.55" fill="#e2641d"/>
<circle cx="131.8" cy="82.2" r="1.55" fill="#ec8319"/>
<circle cx="207.4" cy="93.7" r="1.55" fill="#fbd10e"/>
<circle cx="336.2" cy="236.8" r="1.55" fill="#56bd78"/>
<circle cx="458.0" cy="171.9" r="1.55" fill="#e0601d"/>
<circle cx="405.2" cy="218.5" r="1.55" fill="#45bb87"/>
<circle cx="368.8" cy="240.5" r="1.55" fill="#1daab9"/>
<circle cx="555.8" cy="159.8" r="1.55" fill="#f7b811"/>
<circle cx="405.0" cy="220.2" r="1.55" fill="#1078bd"/>
<circle cx="495.5" cy="162.2" r="1.55" fill="#dd591e"/>
<circle cx="400.5" cy="218.7" r="1.55" fill="#0c67b3"/>
<circle cx="589.3" cy="183.7" r="1.55" fill="#d9531f"/>
<circle cx="145.9" cy="85.1" r="1.55" fill="#eb7d19"/>
<circle cx="264.5" cy="275.7" r="1.55" fill="#1283c0"/>
<circle cx="404.6" cy="220.7" r="1.55" fill="#afcb34"/>
<circle cx="552.0" cy="136.0" r="1.55" fill="#0e6fb8"/>
<circle cx="190.9" cy="88.6" r="1.55" fill="#f1d612"/>
<circle cx="454.0" cy="172.0" r="1.55" fill="#dd5a1e"/>
<circle cx="142.8" cy="66.6" r="1.55" fill="#0f74bb"/>
<circle cx="118.3" cy="49.2" r="1.55" fill="#0d67b4"/>
<circle cx="339.7" cy="232.7" r="1.55" fill="#6ec064"/>
<circle cx="430.9" cy="170.6" r="1.55" fill="#e3651d"/>
<circle cx="222.3" cy="99.6" r="1.55" fill="#f29815"/>
<circle cx="594.5" cy="180.2" r="1.55" fill="#db551e"/>
<circle cx="512.0" cy="153.3" r="1.55" fill="#e4671d"/>
<circle cx="234.8" cy="222.0" r="1.55" fill="#0d6cb6"/>
<circle cx="582.1" cy="160.5" r="1.55" fill="#d8501f"/>
<circle cx="411.7" cy="197.9" r="1.55" fill="#e56a1c"/>
<circle cx="455.6" cy="173.5" r="1.55" fill="#e0601d"/>
<circle cx="174.8" cy="46.6" r="1.55" fill="#0d6ab5"/>
<circle cx="164.3" cy="45.3" r="1.55" fill="#0d69b5"/>
<circle cx="108.2" cy="83.9" r="1.55" fill="#e4681c"/>
<circle cx="402.3" cy="236.1" r="1.55" fill="#67bf6a"/>
<circle cx="385.0" cy="238.8" r="1.55" fill="#61be6e"/>
<circle cx="197.2" cy="94.0" r="1.55" fill="#9fc940"/>
<circle cx="612.1" cy="105.2" r="1.55" fill="#107abe"/>
<circle cx="143.0" cy="86.0" r="1.55" fill="#db561e"/>
<circle cx="279.3" cy="246.5" r="1.55" fill="#1eb1b6"/>
<circle cx="591.8" cy="186.0" r="1.55" fill="#db571e"/>
<circle cx="571.9" cy="168.5" r="1.55" fill="#e4681c"/>
<circle cx="477.2" cy="168.1" r="1.55" fill="#de5c1e"/>
<circle cx="621.4" cy="135.5" r="1.55" fill="#e1621d"/>
<circle cx="283.7" cy="242.4" r="1.55" fill="#68bf69"/>
<circle cx="384.7" cy="237.5" r="1.55" fill="#24b5ae"/>
<circle cx="476.2" cy="168.6" r="1.55" fill="#fcd70d"/>
<circle cx="287.8" cy="240.7" r="1.55" fill="#bcce2c"/>
<circle cx="371.8" cy="239.6" r="1.55" fill="#5dbe72"/>
<circle cx="460.6" cy="169.8" r="1.55" fill="#e3651d"/>
<circle cx="124.5" cy="85.3" r="1.55" fill="#f29915"/>
<circle cx="412.5" cy="192.9" r="1.55" fill="#f5a813"/>
<circle cx="263.6" cy="273.1" r="1.55" fill="#0c64b2"/>
<circle cx="256.7" cy="249.2" r="1.55" fill="#1fb3b4"/>
<circle cx="620.5" cy="80.1" r="1.55" fill="#b1cc33"/>
<circle cx="553.0" cy="160.2" r="1.55" fill="#e76f1c"/>
<circle cx="422.8" cy="177.0" r="1.55" fill="#e9781a"/>
<circle cx="595.8" cy="176.2" r="1.55" fill="#df5d1e"/>
<circle cx="620.2" cy="72.4" r="1.55" fill="#0f75bb"/>
<circle cx="308.9" cy="232.4" r="1.55" fill="#36b996"/>
<circle cx="516.2" cy="148.7" r="1.55" fill="#e4681c"/>
<circle cx="388.7" cy="238.5" r="1.55" fill="#3aba91"/>
<circle cx="200.8" cy="58.7" r="1.55" fill="#0e6eb7"/>
<circle cx="561.2" cy="173.0" r="1.55" fill="#e4681c"/>
<circle cx="614.5" cy="105.3" r="1.55" fill="#0f74bb"/>
<circle cx="404.6" cy="203.4" r="1.55" fill="#1385c0"/>
<circle cx="479.3" cy="168.2" r="1.55" fill="#d9511f"/>
<circle cx="201.8" cy="22.0" r="1.55" fill="#0e6fb8"/>
<circle cx="325.4" cy="214.8" r="1.55" fill="#0e6fb8"/>
<circle cx="430.8" cy="173.1" r="1.55" fill="#e0611d"/>
<circle cx="495.6" cy="162.9" r="1.55" fill="#e66c1c"/>
<circle cx="247.1" cy="55.2" r="1.55" fill="#0e71b9"/>
<circle cx="271.3" cy="263.5" r="1.55" fill="#168fc2"/>
<circle cx="619.8" cy="82.9" r="1.55" fill="#f5d710"/>
<circle cx="406.5" cy="226.0" r="1.55" fill="#6fc063"/>
<circle cx="591.7" cy="182.3" r="1.55" fill="#faca0f"/>
<circle cx="404.6" cy="215.2" r="1.55" fill="#0d6bb6"/>
<circle cx="202.3" cy="24.2" r="1.55" fill="#0f72ba"/>
<circle cx="106.5" cy="80.1" r="1.55" fill="#e0601d"/>
<circle cx="596.5" cy="181.4" r="1.55" fill="#db571e"/>
<circle cx="343.7" cy="233.8" r="1.55" fill="#51bc7c"/>
<circle cx="599.2" cy="173.1" r="1.55" fill="#de5c1e"/>
<circle cx="410.2" cy="224.4" r="1.55" fill="#77c15d"/>
<circle cx="537.3" cy="153.3" r="1.55" fill="#de5d1e"/>
<circle cx="162.6" cy="78.5" r="1.55" fill="#f4a214"/>
<circle cx="236.5" cy="233.1" r="1.55" fill="#107cbe"/>
<circle cx="475.2" cy="171.8" r="1.55" fill="#d8511f"/>
<circle cx="371.1" cy="225.2" r="1.55" fill="#0d69b5"/>
<circle cx="210.8" cy="94.7" r="1.55" fill="#85c453"/>
<circle cx="567.3" cy="176.2" r="1.55" fill="#dc581e"/>
<circle cx="355.3" cy="237.3" r="1.55" fill="#53bd7a"/>
<circle cx="274.9" cy="259.7" r="1.55" fill="#3bba8f"/>
<circle cx="623.3" cy="106.1" r="1.55" fill="#70c062"/>
<circle cx="206.4" cy="96.2" r="1.55" fill="#f8d70f"/>
<circle cx="261.9" cy="269.2" r="1.55" fill="#27b6aa"/>
<circle cx="465.0" cy="166.4" r="1.55" fill="#da551e"/>
<circle cx="223.8" cy="120.6" r="1.55" fill="#53bd7b"/>
<circle cx="251.8" cy="268.2" r="1.55" fill="#0e70b9"/>
<circle cx="624.7" cy="109.5" r="1.55" fill="#70c062"/>
<circle cx="196.9" cy="91.2" r="1.55" fill="#8ec54c"/>
<circle cx="402.7" cy="217.0" r="1.55" fill="#1488c1"/>
<circle cx="582.8" cy="162.9" r="1.55" fill="#da551e"/>
<circle cx="566.5" cy="174.7" r="1.55" fill="#db561e"/>
<circle cx="566.4" cy="173.7" r="1.55" fill="#dd5a1e"/>
<circle cx="270.7" cy="261.6" r="1.55" fill="#1895c4"/>
<circle cx="514.7" cy="153.7" r="1.55" fill="#da551e"/>
<circle cx="189.9" cy="93.7" r="1.55" fill="#b7cd2f"/>
<circle cx="622.3" cy="75.8" r="1.55" fill="#f5d710"/>
<circle cx="521.6" cy="145.7" r="1.55" fill="#e1611d"/>
<circle cx="99.6" cy="77.5" r="1.55" fill="#e1611d"/>
<circle cx="614.2" cy="159.3" r="1.55" fill="#dc571e"/>
<circle cx="344.8" cy="235.5" r="1.55" fill="#4cbc81"/>
<circle cx="405.8" cy="224.8" r="1.55" fill="#83c354"/>
<circle cx="123.8" cy="60.1" r="1.55" fill="#1079bd"/>
<circle cx="421.7" cy="178.7" r="1.55" fill="#db551e"/>
<circle cx="205.8" cy="94.4" r="1.55" fill="#ead516"/>
<circle cx="631.5" cy="84.8" r="1.55" fill="#db551e"/>
<circle cx="569.1" cy="172.6" r="1.55" fill="#df5d1e"/>
<circle cx="203.4" cy="95.3" r="1.55" fill="#93c649"/>
<circle cx="224.8" cy="111.5" r="1.55" fill="#adcb36"/>
<circle cx="573.6" cy="170.9" r="1.55" fill="#e56a1c"/>
<circle cx="278.5" cy="250.0" r="1.55" fill="#65bf6b"/>
<circle cx="495.0" cy="163.9" r="1.55" fill="#dd591e"/>
<circle cx="588.5" cy="187.8" r="1.55" fill="#dd5b1e"/>
<circle cx="523.3" cy="149.5" r="1.55" fill="#db561e"/>
<circle cx="601.5" cy="168.0" r="1.55" fill="#fcd80d"/>
<circle cx="281.9" cy="218.4" r="1.55" fill="#0f77bc"/>
<circle cx="461.1" cy="171.5" r="1.55" fill="#d8511f"/>
<circle cx="221.3" cy="100.1" r="1.55" fill="#86c452"/>
<circle cx="347.4" cy="236.6" r="1.55" fill="#1eaeb7"/>
<circle cx="396.2" cy="238.8" r="1.55" fill="#38b994"/>
<circle cx="270.6" cy="263.0" r="1.55" fill="#148ac1"/>
<circle cx="172.8" cy="81.2" r="1.55" fill="#d9511f"/>
<circle cx="206.1" cy="52.9" r="1.55" fill="#26b5ab"/>
<circle cx="353.6" cy="235.8" r="1.55" fill="#40ba8b"/>
<circle cx="209.1" cy="33.0" r="1.55" fill="#0e6db7"/>
<circle cx="240.9" cy="252.9" r="1.55" fill="#98c745"/>
<circle cx="285.2" cy="238.7" r="1.55" fill="#9bc843"/>
<circle cx="145.1" cy="53.6" r="1.55" fill="#1ca9ba"/>
<circle cx="615.9" cy="146.4" r="1.55" fill="#0e71b9"/>
<circle cx="270.0" cy="59.6" r="1.55" fill="#1077bd"/>
<circle cx="490.8" cy="162.7" r="1.55" fill="#de5d1e"/>
<circle cx="385.6" cy="218.2" r="1.55" fill="#0f73ba"/>
<circle cx="524.0" cy="149.1" r="1.55" fill="#e4671c"/>
<circle cx="371.9" cy="215.6" r="1.55" fill="#0e6fb8"/>
<circle cx="557.0" cy="165.4" r="1.55" fill="#dd5a1e"/>
<circle cx="605.7" cy="165.3" r="1.55" fill="#e1611d"/>
<circle cx="82.2" cy="69.5" r="1.55" fill="#e1611d"/>
<circle cx="517.0" cy="138.0" r="1.55" fill="#0e6fb8"/>
<circle cx="575.7" cy="166.1" r="1.55" fill="#dc591e"/>
<circle cx="271.9" cy="261.5" r="1.55" fill="#1386c0"/>
<circle cx="82.2" cy="75.4" r="1.55" fill="#e56a1c"/>
<circle cx="201.1" cy="64.6" r="1.55" fill="#0f76bc"/>
<circle cx="203.1" cy="36.4" r="1.55" fill="#0f75bb"/>
<circle cx="338.0" cy="233.7" r="1.55" fill="#199ac2"/>
<circle cx="206.5" cy="44.1" r="1.55" fill="#0f77bc"/>
<circle cx="327.0" cy="235.0" r="1.55" fill="#40ba8a"/>
<circle cx="153.0" cy="47.1" r="1.55" fill="#0f77bc"/>
<circle cx="400.4" cy="236.3" r="1.55" fill="#57bd77"/>
<circle cx="266.7" cy="38.3" r="1.55" fill="#0e6db7"/>
<circle cx="416.4" cy="187.8" r="1.55" fill="#e56a1c"/>
<circle cx="311.2" cy="217.2" r="1.55" fill="#1280bf"/>
<circle cx="143.3" cy="44.8" r="1.55" fill="#0c65b3"/>
<circle cx="303.7" cy="232.4" r="1.55" fill="#5ebe71"/>
<circle cx="230.5" cy="130.8" r="1.55" fill="#1fb4b4"/>
<circle cx="223.4" cy="100.8" r="1.55" fill="#d8d21e"/>
<circle cx="235.5" cy="226.6" r="1.55" fill="#1ba4bd"/>
<circle cx="316.0" cy="217.1" r="1.55" fill="#1489c1"/>
<circle cx="489.5" cy="165.2" r="1.55" fill="#e1631d"/>
<circle cx="95.8" cy="80.1" r="1.55" fill="#ecd515"/>
<circle cx="221.7" cy="100.7" r="1.55" fill="#a4c93c"/>
<circle cx="440.7" cy="174.0" r="1.55" fill="#dc581e"/>
<circle cx="595.4" cy="174.5" r="1.55" fill="#e3671d"/>
<circle cx="262.8" cy="216.8" r="1.55" fill="#0d69b5"/>
<circle cx="360.7" cy="236.2" r="1.55" fill="#5bbe74"/>
<circle cx="587.2" cy="171.8" r="1.55" fill="#de5c1e"/>
<circle cx="529.9" cy="155.1" r="1.55" fill="#da531f"/>
<circle cx="627.6" cy="78.9" r="1.55" fill="#da531f"/>
<circle cx="239.3" cy="246.1" r="1.55" fill="#62be6d"/>
<circle cx="315.0" cy="231.7" r="1.55" fill="#4abc82"/>
<circle cx="163.0" cy="79.7" r="1.55" fill="#ed8618"/>
<circle cx="622.2" cy="77.2" r="1.55" fill="#1eb1b5"/>
<circle cx="75.5" cy="69.8" r="1.55" fill="#e56a1c"/>
<circle cx="152.9" cy="33.4" r="1.55" fill="#107abe"/>
<circle cx="78.1" cy="73.4" r="1.55" fill="#ed8418"/>
<circle cx="129.7" cy="53.0" r="1.55" fill="#0e6eb7"/>
<circle cx="558.3" cy="164.6" r="1.55" fill="#df5f1d"/>
<circle cx="406.8" cy="226.8" r="1.55" fill="#7bc25a"/>
<circle cx="398.8" cy="215.3" r="1.55" fill="#0f75bb"/>
<circle cx="226.3" cy="124.6" r="1.55" fill="#30b89e"/>
<circle cx="375.1" cy="218.0" r="1.55" fill="#0d6bb6"/>
<circle cx="234.7" cy="210.0" r="1.55" fill="#1079bd"/>
<circle cx="588.1" cy="186.6" r="1.55" fill="#e5691c"/>
<circle cx="124.9" cy="84.0" r="1.55" fill="#ec8318"/>
<circle cx="120.6" cy="48.4" r="1.55" fill="#0d67b4"/>
<circle cx="217.7" cy="98.1" r="1.55" fill="#c7cf27"/>
<circle cx="137.1" cy="82.4" r="1.55" fill="#e56a1c"/>
<circle cx="448.8" cy="171.9" r="1.55" fill="#de5c1e"/>
<circle cx="572.4" cy="168.7" r="1.55" fill="#e2641d"/>
<circle cx="236.5" cy="84.0" r="1.55" fill="#0e6fb8"/>
<circle cx="587.6" cy="177.8" r="1.55" fill="#e2631d"/>
<circle cx="171.6" cy="82.2" r="1.55" fill="#ed8518"/>
<circle cx="249.2" cy="83.3" r="1.55" fill="#0f77bc"/>
<circle cx="270.2" cy="265.3" r="1.55" fill="#4bbc81"/>
<circle cx="279.9" cy="216.6" r="1.55" fill="#1487c1"/>
<circle cx="415.2" cy="189.6" r="1.55" fill="#c8d026"/>
<circle cx="273.6" cy="258.6" r="1.55" fill="#1ba1be"/>
<circle cx="213.7" cy="97.7" r="1.55" fill="#f9c50f"/>
<circle cx="396.3" cy="216.7" r="1.55" fill="#158ac1"/>
<circle cx="497.3" cy="159.7" r="1.55" fill="#db561e"/>
<circle cx="225.3" cy="99.1" r="1.55" fill="#56bd78"/>
<circle cx="73.7" cy="47.0" r="1.55" fill="#0e6fb8"/>
<circle cx="336.5" cy="235.4" r="1.55" fill="#45bb86"/>
<circle cx="145.9" cy="83.5" r="1.55" fill="#f6ae12"/>
<circle cx="583.4" cy="166.3" r="1.55" fill="#dc591e"/>
<circle cx="73.6" cy="73.5" r="1.55" fill="#e56a1c"/>
<circle cx="480.2" cy="166.1" r="1.55" fill="#f4a314"/>
<circle cx="257.4" cy="274.0" r="1.55" fill="#0e6fb8"/>
<circle cx="181.4" cy="45.4" r="1.55" fill="#0d68b4"/>
<circle cx="158.5" cy="76.5" r="1.55" fill="#f5a513"/>
<circle cx="617.8" cy="106.6" r="1.55" fill="#0e71b9"/>
<circle cx="400.8" cy="228.2" r="1.55" fill="#c9d026"/>
<circle cx="408.1" cy="218.2" r="1.55" fill="#c8d026"/>
<circle cx="325.3" cy="234.4" r="1.55" fill="#2bb6a5"/>
<circle cx="84.3" cy="78.5" r="1.55" fill="#93c649"/>
<circle cx="315.8" cy="218.3" r="1.55" fill="#0d69b5"/>
<circle cx="221.9" cy="99.7" r="1.55" fill="#ee8b17"/>
<circle cx="310.0" cy="215.4" r="1.55" fill="#0f74bb"/>
<circle cx="227.2" cy="154.1" r="1.55" fill="#1ca6bc"/>
<circle cx="427.4" cy="174.7" r="1.55" fill="#f6af12"/>
<circle cx="237.7" cy="32.7" r="1.55" fill="#0f72ba"/>
<circle cx="479.2" cy="165.5" r="1.55" fill="#da551f"/>
<circle cx="409.0" cy="211.9" r="1.55" fill="#97c746"/>
<circle cx="146.7" cy="81.8" r="1.55" fill="#e2641d"/>
<circle cx="136.8" cy="83.0" r="1.55" fill="#e8741b"/>
<circle cx="622.0" cy="129.1" r="1.55" fill="#1895c4"/>
<circle cx="402.7" cy="229.0" r="1.55" fill="#85c453"/>
<circle cx="169.0" cy="81.6" r="1.55" fill="#e05f1d"/>
<circle cx="167.5" cy="78.4" r="1.55" fill="#f6ae12"/>
<circle cx="120.1" cy="84.5" r="1.55" fill="#db551e"/>
<circle cx="218.2" cy="49.4" r="1.55" fill="#0f77bc"/>
<circle cx="510.9" cy="153.7" r="1.55" fill="#dd5b1e"/>
<circle cx="399.8" cy="216.7" r="1.55" fill="#0e6eb7"/>
<circle cx="295.2" cy="233.4" r="1.55" fill="#5bbe74"/>
<circle cx="251.2" cy="271.3" r="1.55" fill="#accb37"/>
<circle cx="63.6" cy="76.7" r="1.55" fill="#e0601d"/>
<circle cx="479.4" cy="167.2" r="1.55" fill="#eb7d19"/>
<circle cx="386.3" cy="223.1" r="1.55" fill="#1079bd"/>
<circle cx="520.0" cy="138.0" r="1.55" fill="#2cb7a3"/>
<circle cx="264.9" cy="277.0" r="1.55" fill="#0d6ab5"/>
<circle cx="269.8" cy="215.4" r="1.55" fill="#23b5af"/>
<circle cx="69.9" cy="71.7" r="1.55" fill="#e3651d"/>
<circle cx="589.0" cy="172.5" r="1.55" fill="#d9521f"/>
<circle cx="632.7" cy="77.8" r="1.55" fill="#e66d1c"/>
<circle cx="266.1" cy="276.5" r="1.55" fill="#29b6a7"/>
<circle cx="194.3" cy="93.1" r="1.55" fill="#38b993"/>
<circle cx="443.5" cy="172.3" r="1.55" fill="#e0601d"/>
<circle cx="130.8" cy="49.6" r="1.55" fill="#0e6db7"/>
<circle cx="447.6" cy="173.7" r="1.55" fill="#dc581e"/>
<circle cx="273.6" cy="260.5" r="1.55" fill="#49bb83"/>
<circle cx="215.9" cy="98.4" r="1.55" fill="#bfce2b"/>
<circle cx="617.2" cy="145.7" r="1.55" fill="#1ba4bd"/>
<circle cx="298.7" cy="219.7" r="1.55" fill="#0e6fb8"/>
<circle cx="407.1" cy="214.5" r="1.55" fill="#b2cc33"/>
<circle cx="206.1" cy="94.0" r="1.55" fill="#94c748"/>
<circle cx="499.7" cy="158.3" r="1.55" fill="#db561e"/>
<circle cx="173.8" cy="85.3" r="1.55" fill="#e4d419"/>
<circle cx="83.7" cy="74.4" r="1.55" fill="#df5e1d"/>
<circle cx="262.7" cy="276.6" r="1.55" fill="#0f73ba"/>
<circle cx="204.4" cy="52.7" r="1.55" fill="#0d67b4"/>
<circle cx="232.7" cy="114.1" r="1.55" fill="#1895c4"/>
<circle cx="396.8" cy="239.0" r="1.55" fill="#32b89b"/>
<circle cx="342.8" cy="236.3" r="1.55" fill="#63be6d"/>
<circle cx="387.2" cy="236.6" r="1.55" fill="#25b5ac"/>
<circle cx="237.9" cy="78.2" r="1.55" fill="#0e6fb8"/>
<circle cx="363.3" cy="217.1" r="1.55" fill="#1281c0"/>
<circle cx="384.7" cy="223.4" r="1.55" fill="#127fbf"/>
<circle cx="113.1" cy="83.1" r="1.55" fill="#e4681c"/>
<circle cx="365.6" cy="241.3" r="1.55" fill="#38b993"/>
<circle cx="146.3" cy="86.5" r="1.55" fill="#ef8f17"/>
<circle cx="551.0" cy="131.0" r="1.55" fill="#0e6fb8"/>
<circle cx="587.6" cy="177.8" r="1.55" fill="#da541f"/>
<circle cx="611.7" cy="161.4" r="1.55" fill="#d9521f"/>
<circle cx="408.2" cy="210.0" r="1.55" fill="#facb0f"/>
<circle cx="442.0" cy="174.6" r="1.55" fill="#e0601d"/>
<circle cx="496.1" cy="163.3" r="1.55" fill="#da551e"/>
<circle cx="542.2" cy="153.2" r="1.55" fill="#da551e"/>
<circle cx="506.0" cy="133.0" r="1.55" fill="#0e6fb8"/>
<circle cx="517.0" cy="150.4" r="1.55" fill="#db551e"/>
<circle cx="293.3" cy="234.7" r="1.55" fill="#fcd60d"/>
<circle cx="140.0" cy="81.2" r="1.55" fill="#e1621d"/>
<circle cx="607.3" cy="164.4" r="1.55" fill="#e66c1c"/>
<circle cx="619.5" cy="142.0" r="1.55" fill="#9ec841"/>
<circle cx="360.0" cy="219.2" r="1.55" fill="#1ba2bd"/>
<circle cx="241.1" cy="61.2" r="1.55" fill="#0e6db7"/>
<circle cx="145.3" cy="23.8" r="1.55" fill="#1079be"/>
<circle cx="311.5" cy="228.8" r="1.55" fill="#70c062"/>
<circle cx="622.2" cy="73.8" r="1.55" fill="#da551e"/>
<circle cx="306.5" cy="231.5" r="1.55" fill="#54bd7a"/>
<circle cx="588.4" cy="174.5" r="1.55" fill="#d9531f"/>
<circle cx="308.6" cy="222.0" r="1.55" fill="#127fbf"/>
<circle cx="597.9" cy="179.0" r="1.55" fill="#dc581e"/>
<circle cx="401.6" cy="214.9" r="1.55" fill="#0d6ab5"/>
<circle cx="600.9" cy="166.2" r="1.55" fill="#e3661d"/>
<circle cx="167.4" cy="80.7" r="1.55" fill="#eb7f19"/>
<circle cx="531.5" cy="150.7" r="1.55" fill="#de5c1e"/>
<circle cx="383.0" cy="215.7" r="1.55" fill="#1ca8ba"/>
<circle cx="251.4" cy="23.0" r="1.55" fill="#0c65b3"/>
<circle cx="620.7" cy="69.5" r="1.55" fill="#0e71b9"/>
<circle cx="303.8" cy="230.4" r="1.55" fill="#55bd79"/>
<circle cx="62.4" cy="77.8" r="1.55" fill="#f19316"/>
<circle cx="571.3" cy="172.3" r="1.55" fill="#db561e"/>
<circle cx="96.0" cy="80.3" r="1.55" fill="#eed614"/>
<circle cx="207.5" cy="94.5" r="1.55" fill="#d8d21f"/>
<circle cx="215.1" cy="34.5" r="1.55" fill="#0f76bc"/>
<circle cx="510.6" cy="153.8" r="1.55" fill="#de5b1e"/>
<circle cx="410.5" cy="195.5" r="1.55" fill="#f39e14"/>
<circle cx="273.1" cy="265.5" r="1.55" fill="#2fb79f"/>
<circle cx="383.2" cy="214.6" r="1.55" fill="#1386c1"/>
<circle cx="508.2" cy="155.0" r="1.55" fill="#df5e1e"/>
<circle cx="322.4" cy="235.8" r="1.55" fill="#4bbc81"/>
<circle cx="349.0" cy="216.0" r="1.55" fill="#0e71b9"/>
<circle cx="84.1" cy="77.0" r="1.55" fill="#e4691c"/>
<circle cx="322.7" cy="232.1" r="1.55" fill="#4ebc7f"/>
<circle cx="275.1" cy="260.1" r="1.55" fill="#46bb86"/>
<circle cx="271.6" cy="219.3" r="1.55" fill="#1281c0"/>
<circle cx="508.0" cy="155.1" r="1.55" fill="#e2631d"/>
<circle cx="230.5" cy="139.4" r="1.55" fill="#0f75bb"/>
<circle cx="587.3" cy="175.8" r="1.55" fill="#d8511f"/>
<circle cx="350.8" cy="219.6" r="1.55" fill="#1fb4b4"/>
<circle cx="471.3" cy="168.3" r="1.55" fill="#db561e"/>
<circle cx="368.8" cy="241.9" r="1.55" fill="#67bf69"/>
<circle cx="620.5" cy="72.4" r="1.55" fill="#0f73ba"/>
<circle cx="455.9" cy="170.8" r="1.55" fill="#dc571e"/>
<circle cx="501.1" cy="159.6" r="1.55" fill="#e1631d"/>
<circle cx="388.5" cy="237.7" r="1.55" fill="#22b5b0"/>
<circle cx="249.7" cy="222.2" r="1.55" fill="#0d69b5"/>
<circle cx="95.5" cy="78.9" r="1.55" fill="#aecb35"/>
<circle cx="405.7" cy="187.8" r="1.55" fill="#107abe"/>
<circle cx="523.1" cy="150.2" r="1.55" fill="#dc591e"/>
<circle cx="77.2" cy="71.6" r="1.55" fill="#dc581e"/>
<circle cx="420.6" cy="179.5" r="1.55" fill="#e1611d"/>
<circle cx="335.5" cy="234.3" r="1.55" fill="#76c15e"/>
<circle cx="533.6" cy="150.0" r="1.55" fill="#dd5a1e"/>
<circle cx="456.2" cy="172.1" r="1.55" fill="#db551e"/>
<circle cx="416.0" cy="165.0" r="1.55" fill="#de5c1e"/>
<circle cx="156.4" cy="78.2" r="1.55" fill="#e05f1d"/>
<circle cx="245.7" cy="245.2" r="1.55" fill="#1489c1"/>
<circle cx="223.0" cy="100.4" r="1.55" fill="#bcce2c"/>
<circle cx="92.7" cy="48.3" r="1.55" fill="#0d69b5"/>
<circle cx="448.1" cy="173.7" r="1.55" fill="#dc571e"/>
<circle cx="435.7" cy="175.7" r="1.55" fill="#f49f14"/>
<circle cx="398.0" cy="238.3" r="1.55" fill="#3dba8d"/>
<circle cx="410.8" cy="206.5" r="1.55" fill="#95c748"/>
<circle cx="217.5" cy="40.1" r="1.55" fill="#0c64b2"/>
<circle cx="216.1" cy="97.5" r="1.55" fill="#b7cd2f"/>
<circle cx="339.2" cy="234.2" r="1.55" fill="#1999c3"/>
<circle cx="350.8" cy="234.6" r="1.55" fill="#3bba8f"/>
<circle cx="95.0" cy="78.5" r="1.55" fill="#d8501f"/>
<circle cx="345.6" cy="214.6" r="1.55" fill="#0e71b9"/>
<circle cx="400.9" cy="234.9" r="1.55" fill="#8dc54d"/>
<circle cx="169.9" cy="81.1" r="1.55" fill="#f8bd10"/>
<circle cx="394.8" cy="215.7" r="1.55" fill="#1aa0bf"/>
<circle cx="486.8" cy="165.4" r="1.55" fill="#df5d1e"/>
<circle cx="195.6" cy="91.4" r="1.55" fill="#73c060"/>
<circle cx="627.6" cy="77.7" r="1.55" fill="#de5c1e"/>
<circle cx="142.5" cy="12.6" r="1.55" fill="#1079be"/>
<circle cx="173.4" cy="82.8" r="1.55" fill="#76c15e"/>
<circle cx="350.3" cy="215.3" r="1.55" fill="#0d6ab5"/>
<circle cx="271.1" cy="215.6" r="1.55" fill="#1384c0"/>
<circle cx="384.9" cy="238.7" r="1.55" fill="#9fc940"/>
<circle cx="418.6" cy="195.0" r="1.55" fill="#f9c60f"/>
<circle cx="297.7" cy="215.4" r="1.55" fill="#1eb1b5"/>
<circle cx="337.1" cy="236.7" r="1.55" fill="#59bd75"/>
<circle cx="584.6" cy="166.5" r="1.55" fill="#e0611d"/>
<circle cx="343.2" cy="237.3" r="1.55" fill="#3fba8c"/>
<circle cx="109.9" cy="82.3" r="1.55" fill="#e7711b"/>
<circle cx="428.6" cy="175.4" r="1.55" fill="#e9771a"/>
<circle cx="156.5" cy="77.3" r="1.55" fill="#dd5b1e"/>
<circle cx="527.4" cy="152.1" r="1.55" fill="#d8511f"/>
<circle cx="241.6" cy="216.9" r="1.55" fill="#1daab9"/>
<circle cx="252.2" cy="266.6" r="1.55" fill="#0f77bc"/>
<circle cx="272.4" cy="215.6" r="1.55" fill="#1486c1"/>
<circle cx="396.4" cy="240.7" r="1.55" fill="#3aba90"/>
<circle cx="597.5" cy="172.2" r="1.55" fill="#d9511f"/>
<circle cx="225.4" cy="84.9" r="1.55" fill="#0e70b9"/>
<circle cx="389.5" cy="227.5" r="1.55" fill="#0d6bb6"/>
<circle cx="81.2" cy="74.2" r="1.55" fill="#f39d14"/>
<circle cx="545.6" cy="156.1" r="1.55" fill="#e4671d"/>
<circle cx="570.6" cy="168.9" r="1.55" fill="#dc571e"/>
<circle cx="84.8" cy="77.3" r="1.55" fill="#eb8019"/>
<circle cx="335.7" cy="234.2" r="1.55" fill="#1dacb8"/>
<circle cx="422.0" cy="178.7" r="1.55" fill="#e56b1c"/>
<circle cx="570.7" cy="172.8" r="1.55" fill="#dc581e"/>
<circle cx="409.3" cy="200.2" r="1.55" fill="#fcd60d"/>
<circle cx="614.4" cy="160.3" r="1.55" fill="#e05f1d"/>
<circle cx="229.1" cy="110.3" r="1.55" fill="#199cc1"/>
<circle cx="308.4" cy="217.2" r="1.55" fill="#1999c2"/>
<circle cx="617.7" cy="139.4" r="1.55" fill="#38b994"/>
<circle cx="519.3" cy="147.5" r="1.55" fill="#d9531f"/>
<circle cx="420.8" cy="178.3" r="1.55" fill="#e66c1c"/>
<circle cx="156.5" cy="76.7" r="1.55" fill="#e76f1b"/>
<circle cx="268.3" cy="275.1" r="1.55" fill="#5ebe72"/>
<circle cx="140.8" cy="83.1" r="1.55" fill="#ec8119"/>
<circle cx="565.4" cy="177.0" r="1.55" fill="#e9771a"/>
<circle cx="142.8" cy="85.9" r="1.55" fill="#de5c1e"/>
<circle cx="277.1" cy="250.4" r="1.55" fill="#29b6a7"/>
<circle cx="219.8" cy="46.7" r="1.55" fill="#0f72ba"/>
<circle cx="178.2" cy="56.4" r="1.55" fill="#0e70b9"/>
<circle cx="543.8" cy="156.3" r="1.55" fill="#d8511f"/>
<circle cx="296.0" cy="236.9" r="1.55" fill="#57bd77"/>
<circle cx="307.1" cy="232.2" r="1.55" fill="#69bf68"/>
<circle cx="195.7" cy="90.9" r="1.55" fill="#fcd60d"/>
<circle cx="264.7" cy="249.1" r="1.55" fill="#7ec358"/>
<circle cx="257.2" cy="217.9" r="1.55" fill="#82c355"/>
<circle cx="280.2" cy="214.7" r="1.55" fill="#1078bd"/>
<circle cx="621.8" cy="77.9" r="1.55" fill="#107abe"/>
<circle cx="442.1" cy="174.4" r="1.55" fill="#e5691c"/>
<circle cx="72.4" cy="69.7" r="1.55" fill="#ec8318"/>
<circle cx="212.3" cy="33.2" r="1.55" fill="#0f75bb"/>
<circle cx="168.4" cy="81.7" r="1.55" fill="#accb37"/>
<circle cx="122.0" cy="84.1" r="1.55" fill="#e0601d"/>
<circle cx="151.1" cy="52.1" r="1.55" fill="#0e70b8"/>
<circle cx="61.0" cy="80.2" r="1.55" fill="#dc581e"/>
<circle cx="273.7" cy="257.6" r="1.55" fill="#1fb3b4"/>
<circle cx="406.3" cy="201.4" r="1.55" fill="#f39b15"/>
<circle cx="120.1" cy="57.8" r="1.55" fill="#0f77bc"/>
<circle cx="206.9" cy="93.2" r="1.55" fill="#f8bb11"/>
<circle cx="405.6" cy="233.2" r="1.55" fill="#fac90f"/>
<circle cx="359.7" cy="238.0" r="1.55" fill="#46bb86"/>
<circle cx="255.2" cy="237.2" r="1.55" fill="#27b6aa"/>
<circle cx="284.6" cy="214.9" r="1.55" fill="#107abe"/>
<circle cx="277.1" cy="254.9" r="1.55" fill="#1fb2b5"/>
<circle cx="400.2" cy="215.5" r="1.55" fill="#0d69b5"/>
<circle cx="85.1" cy="77.0" r="1.55" fill="#df5f1d"/>
<circle cx="273.9" cy="262.1" r="1.55" fill="#1daab9"/>
<circle cx="435.2" cy="170.9" r="1.55" fill="#d9531f"/>
<circle cx="216.2" cy="36.7" r="1.55" fill="#0f72ba"/>
<circle cx="253.5" cy="216.3" r="1.55" fill="#0f77bc"/>
<circle cx="71.8" cy="70.3" r="1.55" fill="#f09216"/>
<circle cx="563.4" cy="173.4" r="1.55" fill="#e2641d"/>
<circle cx="623.3" cy="91.9" r="1.55" fill="#107abe"/>
<circle cx="153.2" cy="81.1" r="1.55" fill="#f5a513"/>
<circle cx="488.9" cy="165.6" r="1.55" fill="#d9521f"/>
<circle cx="106.2" cy="82.8" r="1.55" fill="#de5c1e"/>
<circle cx="328.1" cy="231.9" r="1.55" fill="#1fb3b4"/>
<circle cx="574.1" cy="166.9" r="1.55" fill="#dd591e"/>
<circle cx="531.1" cy="151.1" r="1.55" fill="#de5c1e"/>
<circle cx="589.8" cy="185.1" r="1.55" fill="#db571e"/>
<circle cx="194.6" cy="91.8" r="1.55" fill="#2cb7a4"/>
<circle cx="186.1" cy="89.8" r="1.55" fill="#da551e"/>
<circle cx="162.6" cy="45.9" r="1.55" fill="#0f72ba"/>
<circle cx="214.3" cy="47.9" r="1.55" fill="#0e71b9"/>
<circle cx="381.1" cy="216.8" r="1.55" fill="#0d67b4"/>
<circle cx="272.9" cy="264.8" r="1.55" fill="#59bd75"/>
<circle cx="440.9" cy="173.7" r="1.55" fill="#e05f1d"/>
<circle cx="274.3" cy="77.7" r="1.55" fill="#0e6fb8"/>
<circle cx="239.7" cy="220.0" r="1.55" fill="#4dbc7f"/>
<circle cx="264.8" cy="268.9" r="1.55" fill="#1ca9ba"/>
<circle cx="276.5" cy="252.3" r="1.55" fill="#1ca7bb"/>
<circle cx="404.1" cy="227.0" r="1.55" fill="#d0d123"/>
<circle cx="71.4" cy="67.8" r="1.55" fill="#ea791a"/>
<circle cx="586.8" cy="175.5" r="1.55" fill="#df5e1e"/>
<circle cx="419.4" cy="181.7" r="1.55" fill="#d8501f"/>
<circle cx="225.9" cy="128.7" r="1.55" fill="#107abe"/>
<circle cx="503.3" cy="156.0" r="1.55" fill="#d9521f"/>
<circle cx="380.0" cy="238.4" r="1.55" fill="#1ba4bd"/>
<circle cx="323.0" cy="233.8" r="1.55" fill="#73c160"/>
<circle cx="233.1" cy="207.1" r="1.55" fill="#199ac2"/>
<circle cx="317.7" cy="233.9" r="1.55" fill="#45bb87"/>
<circle cx="220.7" cy="96.1" r="1.55" fill="#d4d220"/>
<circle cx="413.9" cy="188.5" r="1.55" fill="#f29a15"/>
<circle cx="590.0" cy="185.2" r="1.55" fill="#e2641d"/>
<circle cx="622.5" cy="143.6" r="1.55" fill="#c8d026"/>
<circle cx="596.6" cy="167.3" r="1.55" fill="#dc581e"/>
<circle cx="227.1" cy="115.7" r="1.55" fill="#23b5ae"/>
<circle cx="593.3" cy="178.5" r="1.55" fill="#e2651d"/>
<circle cx="534.9" cy="153.5" r="1.55" fill="#d9511f"/>
<circle cx="274.9" cy="256.7" r="1.55" fill="#1487c1"/>
<circle cx="297.8" cy="214.8" r="1.55" fill="#1486c1"/>
<circle cx="346.1" cy="218.4" r="1.55" fill="#1384c0"/>
<circle cx="398.7" cy="217.9" r="1.55" fill="#107abe"/>
<circle cx="308.8" cy="231.8" r="1.55" fill="#8ac54f"/>
<circle cx="527.7" cy="147.9" r="1.55" fill="#da551f"/>
<circle cx="594.9" cy="180.0" r="1.55" fill="#d9511f"/>
<circle cx="503.0" cy="161.1" r="1.55" fill="#df5f1d"/>
<circle cx="315.1" cy="217.4" r="1.55" fill="#1385c0"/>
<circle cx="286.5" cy="216.0" r="1.55" fill="#1078bd"/>
<circle cx="499.8" cy="161.2" r="1.55" fill="#df5e1e"/>
<circle cx="140.1" cy="46.5" r="1.55" fill="#0f75bb"/>
<circle cx="437.7" cy="175.7" r="1.55" fill="#f9c310"/>
<circle cx="559.1" cy="165.1" r="1.55" fill="#db561e"/>
<circle cx="607.8" cy="162.4" r="1.55" fill="#df5f1d"/>
<circle cx="116.6" cy="84.8" r="1.55" fill="#e1621d"/>
<circle cx="472.0" cy="168.1" r="1.55" fill="#e0601d"/>
<circle cx="496.2" cy="162.2" r="1.55" fill="#e2651d"/>
<circle cx="266.2" cy="238.7" r="1.55" fill="#1eb0b6"/>
<circle cx="238.7" cy="229.5" r="1.55" fill="#5abe74"/>
<circle cx="229.3" cy="193.5" r="1.55" fill="#0c64b2"/>
<circle cx="273.9" cy="243.0" r="1.55" fill="#29b6a7"/>
<circle cx="312.7" cy="230.9" r="1.55" fill="#24b5ae"/>
<circle cx="275.8" cy="268.2" r="1.55" fill="#46bb86"/>
<circle cx="590.5" cy="166.0" r="1.55" fill="#3cba8e"/>
<circle cx="217.7" cy="97.1" r="1.55" fill="#e6d517"/>
<circle cx="348.8" cy="235.8" r="1.55" fill="#82c355"/>
<circle cx="533.4" cy="154.1" r="1.55" fill="#dd591e"/>
<circle cx="534.0" cy="154.1" r="1.55" fill="#de5b1e"/>
<circle cx="423.8" cy="179.8" r="1.55" fill="#ed8518"/>
<circle cx="268.5" cy="274.2" r="1.55" fill="#1792c3"/>
<circle cx="74.2" cy="66.4" r="1.55" fill="#f7b811"/>
<circle cx="146.9" cy="79.6" r="1.55" fill="#e56b1c"/>
<circle cx="105.2" cy="56.3" r="1.55" fill="#0f75bb"/>
<circle cx="261.9" cy="39.5" r="1.55" fill="#0f74bb"/>
<circle cx="233.4" cy="221.9" r="1.55" fill="#0e6eb8"/>
<circle cx="572.7" cy="167.6" r="1.55" fill="#e0611d"/>
<circle cx="591.6" cy="183.7" r="1.55" fill="#de5c1e"/>
<circle cx="360.3" cy="223.6" r="1.55" fill="#1489c1"/>
<circle cx="154.6" cy="78.2" r="1.55" fill="#d4d121"/>
<circle cx="142.3" cy="32.7" r="1.55" fill="#0d67b4"/>
<circle cx="623.4" cy="74.9" r="1.55" fill="#d9521f"/>
<circle cx="569.3" cy="172.8" r="1.55" fill="#da531f"/>
<circle cx="391.3" cy="230.6" r="1.55" fill="#0e6eb7"/>
<circle cx="536.9" cy="155.1" r="1.55" fill="#d9521f"/>
<circle cx="434.3" cy="171.7" r="1.55" fill="#db571e"/>
<circle cx="213.7" cy="43.1" r="1.55" fill="#0c66b3"/>
<circle cx="167.4" cy="80.9" r="1.55" fill="#f29715"/>
<circle cx="273.6" cy="259.2" r="1.55" fill="#2bb6a4"/>
<circle cx="271.5" cy="252.1" r="1.55" fill="#107bbe"/>
<circle cx="203.0" cy="18.7" r="1.55" fill="#0d68b4"/>
<circle cx="91.9" cy="78.7" r="1.55" fill="#dd5a1e"/>
<circle cx="157.6" cy="32.1" r="1.55" fill="#0f73ba"/>
<circle cx="110.7" cy="83.7" r="1.55" fill="#e2651d"/>
<circle cx="222.7" cy="145.8" r="1.55" fill="#57bd77"/>
<circle cx="586.3" cy="165.0" r="1.55" fill="#d9531f"/>
<circle cx="333.7" cy="235.6" r="1.55" fill="#33b89a"/>
<circle cx="265.3" cy="18.9" r="1.55" fill="#0d67b4"/>
<circle cx="175.3" cy="83.9" r="1.55" fill="#e2d41a"/>
<circle cx="618.9" cy="147.8" r="1.55" fill="#e2631d"/>
<circle cx="487.6" cy="164.4" r="1.55" fill="#dd5a1e"/>
<circle cx="485.9" cy="166.5" r="1.55" fill="#df5e1e"/>
<circle cx="297.0" cy="235.2" r="1.55" fill="#3eba8c"/>
<circle cx="315.1" cy="228.4" r="1.55" fill="#97c746"/>
<circle cx="400.8" cy="217.2" r="1.55" fill="#158ac1"/>
<circle cx="491.7" cy="164.3" r="1.55" fill="#e4681c"/>
<circle cx="314.3" cy="232.9" r="1.55" fill="#1eb1b6"/>
<circle cx="220.9" cy="98.1" r="1.55" fill="#7bc25a"/>
<circle cx="447.0" cy="174.2" r="1.55" fill="#de5c1e"/>
<circle cx="613.9" cy="158.6" r="1.55" fill="#da551f"/>
<circle cx="600.4" cy="170.7" r="1.55" fill="#d9521f"/>
<circle cx="272.4" cy="67.2" r="1.55" fill="#0d6cb6"/>
<circle cx="224.8" cy="106.2" r="1.55" fill="#45bb87"/>
<circle cx="378.5" cy="238.4" r="1.55" fill="#3fba8c"/>
<circle cx="331.1" cy="233.8" r="1.55" fill="#1ca6bc"/>
<circle cx="263.1" cy="278.0" r="1.55" fill="#1487c1"/>
<circle cx="591.9" cy="186.6" r="1.55" fill="#db571e"/>
<circle cx="212.6" cy="94.0" r="1.55" fill="#b5cc30"/>
<circle cx="558.3" cy="165.5" r="1.55" fill="#d9531f"/>
<circle cx="200.9" cy="92.6" r="1.55" fill="#e4d419"/>
<circle cx="138.5" cy="81.6" r="1.55" fill="#ed8718"/>
<circle cx="597.5" cy="174.2" r="1.55" fill="#e1621d"/>
<circle cx="588.9" cy="181.5" r="1.55" fill="#dc591e"/>
<circle cx="207.2" cy="58.0" r="1.55" fill="#0d67b4"/>
<circle cx="457.4" cy="172.1" r="1.55" fill="#dd5b1e"/>
<circle cx="370.0" cy="240.0" r="1.55" fill="#50bc7d"/>
<circle cx="428.3" cy="173.9" r="1.55" fill="#eb7f19"/>
<circle cx="590.0" cy="185.1" r="1.55" fill="#da541f"/>
<circle cx="154.5" cy="54.5" r="1.55" fill="#0c65b3"/>
<circle cx="214.0" cy="43.2" r="1.55" fill="#0e6fb8"/>
<circle cx="271.9" cy="63.2" r="1.55" fill="#0c67b3"/>
<circle cx="172.8" cy="82.8" r="1.55" fill="#e8741b"/>
<circle cx="385.9" cy="239.0" r="1.55" fill="#4dbc7f"/>
<circle cx="586.7" cy="173.6" r="1.55" fill="#ed8618"/>
<circle cx="382.9" cy="217.1" r="1.55" fill="#0d6bb6"/>
<circle cx="598.7" cy="174.9" r="1.55" fill="#df5e1e"/>
<circle cx="274.2" cy="254.0" r="1.55" fill="#1eaeb7"/>
<circle cx="488.1" cy="167.3" r="1.55" fill="#da541f"/>
<circle cx="289.7" cy="233.8" r="1.55" fill="#93c649"/>
<circle cx="622.2" cy="135.7" r="1.55" fill="#31b89d"/>
<circle cx="612.8" cy="162.7" r="1.55" fill="#de5b1e"/>
<circle cx="626.0" cy="120.1" r="1.55" fill="#0d6bb6"/>
<circle cx="463.0" cy="168.7" r="1.55" fill="#de5b1e"/>
<circle cx="623.7" cy="133.1" r="1.55" fill="#e2631d"/>
<circle cx="325.4" cy="229.1" r="1.55" fill="#78c25c"/>
<circle cx="346.9" cy="215.7" r="1.55" fill="#0d67b4"/>
<circle cx="253.9" cy="228.3" r="1.55" fill="#4abc83"/>
<circle cx="387.1" cy="218.1" r="1.55" fill="#1eafb7"/>
<circle cx="419.3" cy="186.6" r="1.55" fill="#f7b611"/>
<circle cx="564.5" cy="178.6" r="1.55" fill="#df5f1d"/>
<circle cx="138.1" cy="83.2" r="1.55" fill="#e2651d"/>
<circle cx="424.0" cy="158.0" r="1.55" fill="#f5d710"/>
<circle cx="354.3" cy="237.0" r="1.55" fill="#64bf6c"/>
<circle cx="157.8" cy="78.1" r="1.55" fill="#e2641d"/>
<circle cx="623.5" cy="75.8" r="1.55" fill="#f9c50f"/>
<circle cx="139.6" cy="42.8" r="1.55" fill="#0e70b8"/>
<circle cx="375.2" cy="239.2" r="1.55" fill="#45bb86"/>
<circle cx="437.8" cy="172.6" r="1.55" fill="#e1611d"/>
<circle cx="347.0" cy="217.1" r="1.55" fill="#0c64b2"/>
<circle cx="356.9" cy="217.4" r="1.55" fill="#117ebf"/>
<circle cx="574.2" cy="165.7" r="1.55" fill="#d9511f"/>
<circle cx="227.1" cy="126.4" r="1.55" fill="#39b991"/>
<circle cx="606.5" cy="163.6" r="1.55" fill="#d8511f"/>
<circle cx="356.1" cy="238.1" r="1.55" fill="#46bb85"/>
<circle cx="412.4" cy="204.6" r="1.55" fill="#a6ca3b"/>
<circle cx="249.0" cy="215.9" r="1.55" fill="#1998c3"/>
<circle cx="70.2" cy="70.2" r="1.55" fill="#f1d612"/>
<circle cx="323.1" cy="216.7" r="1.55" fill="#1384c0"/>
<circle cx="262.7" cy="32.5" r="1.55" fill="#0d6bb6"/>
<circle cx="123.4" cy="53.1" r="1.55" fill="#0e6eb7"/>
<circle cx="223.2" cy="148.9" r="1.55" fill="#32b89b"/>
<circle cx="420.3" cy="178.3" r="1.55" fill="#f6ae12"/>
<circle cx="473.3" cy="167.5" r="1.55" fill="#dc591e"/>
<circle cx="267.7" cy="28.9" r="1.55" fill="#0f77bc"/>
<circle cx="96.1" cy="79.0" r="1.55" fill="#9dc841"/>
<circle cx="566.0" cy="176.0" r="1.55" fill="#db571e"/>
<circle cx="271.8" cy="260.1" r="1.55" fill="#1897c3"/>
<circle cx="546.6" cy="157.5" r="1.55" fill="#d9521f"/>
<circle cx="329.1" cy="231.5" r="1.55" fill="#59bd75"/>
<circle cx="224.7" cy="97.5" r="1.55" fill="#87c451"/>
<circle cx="614.9" cy="107.6" r="1.55" fill="#0c66b3"/>
<circle cx="301.1" cy="215.2" r="1.55" fill="#0c65b2"/>
<circle cx="202.8" cy="35.5" r="1.55" fill="#0d68b4"/>
<circle cx="541.0" cy="133.0" r="1.55" fill="#0e6fb8"/>
<circle cx="114.5" cy="86.3" r="1.55" fill="#ed8818"/>
<circle cx="287.4" cy="237.4" r="1.55" fill="#59bd76"/>
<circle cx="245.5" cy="216.8" r="1.55" fill="#0d6bb6"/>
<circle cx="204.8" cy="96.3" r="1.55" fill="#fbd00e"/>
<circle cx="315.6" cy="218.5" r="1.55" fill="#1488c1"/>
<circle cx="610.0" cy="159.2" r="1.55" fill="#db571e"/>
<circle cx="585.6" cy="174.9" r="1.55" fill="#dd5b1e"/>
<circle cx="270.1" cy="263.6" r="1.55" fill="#1ca9ba"/>
<circle cx="437.7" cy="171.9" r="1.55" fill="#dc581e"/>
<circle cx="612.1" cy="158.9" r="1.55" fill="#e2631d"/>
<circle cx="331.6" cy="233.8" r="1.55" fill="#63bf6d"/>
<circle cx="611.3" cy="103.1" r="1.55" fill="#0c66b3"/>
<circle cx="418.1" cy="183.7" r="1.55" fill="#f7b312"/>
<circle cx="615.1" cy="103.7" r="1.55" fill="#1079be"/>
<circle cx="592.5" cy="181.0" r="1.55" fill="#df5e1e"/>
<circle cx="271.0" cy="252.9" r="1.55" fill="#4cbc80"/>
<circle cx="211.0" cy="26.3" r="1.55" fill="#1eb1b6"/>
<circle cx="212.5" cy="95.6" r="1.55" fill="#f7d710"/>
<circle cx="586.7" cy="166.7" r="1.55" fill="#db551e"/>
<circle cx="282.7" cy="240.9" r="1.55" fill="#1daab9"/>
<circle cx="65.1" cy="75.2" r="1.55" fill="#e66b1c"/>
<circle cx="261.3" cy="265.5" r="1.55" fill="#1fb3b5"/>
<circle cx="92.3" cy="45.8" r="1.55" fill="#0d69b5"/>
<circle cx="608.9" cy="160.0" r="1.55" fill="#db571e"/>
<circle cx="259.0" cy="264.0" r="1.55" fill="#a6ca3b"/>
<circle cx="217.4" cy="30.2" r="1.55" fill="#0e70b8"/>
<circle cx="402.8" cy="215.6" r="1.55" fill="#0f74bb"/>
<circle cx="78.4" cy="70.9" r="1.55" fill="#e0611d"/>
<circle cx="584.5" cy="167.7" r="1.55" fill="#d8511f"/>
<circle cx="622.2" cy="88.3" r="1.55" fill="#70c062"/>
<circle cx="335.7" cy="234.6" r="1.55" fill="#5bbe74"/>
<circle cx="336.1" cy="223.4" r="1.55" fill="#0c66b3"/>
<circle cx="521.7" cy="149.2" r="1.55" fill="#da531f"/>
<circle cx="422.5" cy="180.1" r="1.55" fill="#e66c1c"/>
<circle cx="264.3" cy="216.0" r="1.55" fill="#1078bd"/>
<circle cx="608.2" cy="161.6" r="1.55" fill="#dd591e"/>
<circle cx="410.6" cy="205.3" r="1.55" fill="#8dc54d"/>
<circle cx="463.3" cy="169.0" r="1.55" fill="#dd5a1e"/>
<circle cx="620.6" cy="74.0" r="1.55" fill="#0e6fb8"/>
<circle cx="489.2" cy="163.2" r="1.55" fill="#e0601d"/>
<circle cx="588.0" cy="170.8" r="1.55" fill="#de5c1e"/>
<circle cx="304.2" cy="215.6" r="1.55" fill="#0f77bc"/>
<circle cx="632.1" cy="77.0" r="1.55" fill="#d9531f"/>
<circle cx="572.7" cy="169.8" r="1.55" fill="#dd591e"/>
<circle cx="151.3" cy="28.3" r="1.55" fill="#1078bd"/>
<circle cx="177.8" cy="86.9" r="1.55" fill="#e3d419"/>
<circle cx="304.7" cy="221.9" r="1.55" fill="#25b5ac"/>
<circle cx="399.1" cy="215.9" r="1.55" fill="#0f73ba"/>
<circle cx="145.2" cy="41.9" r="1.55" fill="#1078bd"/>
<circle cx="175.9" cy="52.4" r="1.55" fill="#0f76bc"/>
<circle cx="621.9" cy="77.2" r="1.55" fill="#1383c0"/>
<circle cx="158.5" cy="76.0" r="1.55" fill="#f39c15"/>
<circle cx="566.9" cy="176.4" r="1.55" fill="#d9521f"/>
<circle cx="304.3" cy="229.3" r="1.55" fill="#38b993"/>
<circle cx="75.0" cy="71.8" r="1.55" fill="#e2651d"/>
<circle cx="498.8" cy="162.1" r="1.55" fill="#e4681c"/>
<circle cx="476.3" cy="167.3" r="1.55" fill="#de5b1e"/>
<circle cx="626.1" cy="80.0" r="1.55" fill="#f5aa13"/>
<circle cx="348.2" cy="235.8" r="1.55" fill="#56bd78"/>
<circle cx="391.4" cy="231.9" r="1.55" fill="#0c65b3"/>
<circle cx="339.3" cy="234.9" r="1.55" fill="#5fbe71"/>
<circle cx="234.2" cy="204.9" r="1.55" fill="#158ac1"/>
<circle cx="390.4" cy="216.5" r="1.55" fill="#0d6ab5"/>
<circle cx="510.6" cy="156.3" r="1.55" fill="#de5b1e"/>
<circle cx="152.2" cy="84.1" r="1.55" fill="#ec8119"/>
<circle cx="349.6" cy="239.2" r="1.55" fill="#5abd75"/>
<circle cx="367.0" cy="240.2" r="1.55" fill="#31b89d"/>
<circle cx="225.7" cy="112.8" r="1.55" fill="#1ba3bd"/>
<circle cx="253.2" cy="243.4" r="1.55" fill="#117fbf"/>
<circle cx="202.3" cy="33.0" r="1.55" fill="#0c66b3"/>
<circle cx="119.8" cy="83.3" r="1.55" fill="#e05f1d"/>
<circle cx="88.1" cy="76.7" r="1.55" fill="#e2651d"/>
<circle cx="583.9" cy="162.7" r="1.55" fill="#df5f1d"/>
<circle cx="576.0" cy="166.1" r="1.55" fill="#e1611d"/>
<circle cx="582.0" cy="164.7" r="1.55" fill="#d8511f"/>
<circle cx="423.5" cy="176.2" r="1.55" fill="#e7711b"/>
<circle cx="171.4" cy="83.0" r="1.55" fill="#c3cf29"/>
<circle cx="91.7" cy="79.7" r="1.55" fill="#f4a014"/>
<circle cx="174.0" cy="86.1" r="1.55" fill="#ef8d17"/>
<circle cx="260.4" cy="238.2" r="1.55" fill="#1486c1"/>
<circle cx="278.2" cy="215.6" r="1.55" fill="#0e6eb7"/>
<circle cx="406.3" cy="227.2" r="1.55" fill="#a7ca3a"/>
<circle cx="450.4" cy="173.6" r="1.55" fill="#dc581e"/>
<circle cx="507.2" cy="155.0" r="1.55" fill="#db551e"/>
<circle cx="358.3" cy="238.8" r="1.55" fill="#1eb1b6"/>
<circle cx="433.9" cy="169.0" r="1.55" fill="#e1621d"/>
<circle cx="177.1" cy="84.0" r="1.55" fill="#f39d14"/>
<circle cx="304.4" cy="232.9" r="1.55" fill="#2ab6a6"/>
<circle cx="238.7" cy="33.9" r="1.55" fill="#0f76bc"/>
<circle cx="90.5" cy="49.6" r="1.55" fill="#0f76bc"/>
<circle cx="329.8" cy="217.5" r="1.55" fill="#0f76bc"/>
<circle cx="374.6" cy="215.1" r="1.55" fill="#1eb0b6"/>
<circle cx="407.7" cy="225.5" r="1.55" fill="#b7cd2f"/>
<circle cx="416.6" cy="185.8" r="1.55" fill="#ec8318"/>
<circle cx="451.5" cy="174.5" r="1.55" fill="#e66e1c"/>
<circle cx="70.1" cy="73.7" r="1.55" fill="#facd0e"/>
<circle cx="225.3" cy="113.1" r="1.55" fill="#e1d41a"/>
<circle cx="455.5" cy="171.3" r="1.55" fill="#dd5a1e"/>
<circle cx="415.7" cy="187.3" r="1.55" fill="#c8d026"/>
<circle cx="575.5" cy="167.2" r="1.55" fill="#da541f"/>
<circle cx="420.1" cy="179.3" r="1.55" fill="#d8501f"/>
<circle cx="130.7" cy="81.8" r="1.55" fill="#ed8718"/>
<circle cx="483.3" cy="165.0" r="1.55" fill="#e0601d"/>
<circle cx="391.4" cy="217.3" r="1.55" fill="#0f75bb"/>
<circle cx="256.4" cy="217.5" r="1.55" fill="#0f73ba"/>
<circle cx="185.0" cy="86.6" r="1.55" fill="#f9d80e"/>
<circle cx="80.0" cy="72.0" r="1.55" fill="#e05f1d"/>
<circle cx="82.8" cy="75.3" r="1.55" fill="#dd5b1e"/>
<circle cx="410.0" cy="203.1" r="1.55" fill="#0d6bb6"/>
<circle cx="148.2" cy="84.2" r="1.55" fill="#ea7a1a"/>
<circle cx="157.9" cy="76.9" r="1.55" fill="#ea7b1a"/>
<circle cx="587.9" cy="180.3" r="1.55" fill="#da531f"/>
<circle cx="336.6" cy="236.0" r="1.55" fill="#4ebc7f"/>
<circle cx="497.4" cy="158.3" r="1.55" fill="#d8511f"/>
<circle cx="543.7" cy="153.3" r="1.55" fill="#dd591e"/>
<circle cx="401.2" cy="215.7" r="1.55" fill="#0c66b3"/>
<circle cx="266.9" cy="273.5" r="1.55" fill="#158bc2"/>
<circle cx="530.7" cy="150.3" r="1.55" fill="#f3d711"/>
<circle cx="394.3" cy="214.8" r="1.55" fill="#107abe"/>
<circle cx="562.5" cy="176.1" r="1.55" fill="#db551e"/>
<circle cx="271.2" cy="27.5" r="1.55" fill="#0e72b9"/>
<circle cx="282.8" cy="242.2" r="1.55" fill="#1ca6bc"/>
<circle cx="156.1" cy="74.5" r="1.55" fill="#dfd31b"/>
<circle cx="100.4" cy="81.0" r="1.55" fill="#ea791a"/>
<circle cx="514.4" cy="150.4" r="1.55" fill="#f9c310"/>
<circle cx="229.3" cy="205.6" r="1.55" fill="#1ba3bd"/>
<circle cx="232.8" cy="179.4" r="1.55" fill="#117fbf"/>
<circle cx="209.0" cy="30.9" r="1.55" fill="#0d6cb6"/>
<circle cx="165.1" cy="44.5" r="1.55" fill="#0e6fb8"/>
<circle cx="563.5" cy="178.4" r="1.55" fill="#e2651d"/>
<circle cx="96.6" cy="79.0" r="1.55" fill="#d8501f"/>
<circle cx="610.6" cy="104.6" r="1.55" fill="#0c65b3"/>
<circle cx="205.2" cy="92.8" r="1.55" fill="#5fbe70"/>
<circle cx="356.0" cy="239.7" r="1.55" fill="#59bd76"/>
<circle cx="413.3" cy="192.4" r="1.55" fill="#f7d70f"/>
<circle cx="543.7" cy="157.5" r="1.55" fill="#dd591e"/>
<circle cx="206.3" cy="94.9" r="1.55" fill="#9cc842"/>
<circle cx="117.4" cy="84.7" r="1.55" fill="#e0611d"/>
<circle cx="328.7" cy="230.7" r="1.55" fill="#5ebe71"/>
<circle cx="233.9" cy="48.9" r="1.55" fill="#0d69b4"/>
<circle cx="85.2" cy="72.8" r="1.55" fill="#c2cf29"/>
<circle cx="424.0" cy="175.3" r="1.55" fill="#e8741b"/>
<circle cx="431.2" cy="171.5" r="1.55" fill="#db551e"/>
<circle cx="221.4" cy="110.3" r="1.55" fill="#24b5ad"/>
<circle cx="586.8" cy="169.9" r="1.55" fill="#e4681c"/>
<circle cx="230.0" cy="88.0" r="1.55" fill="#0e6fb8"/>
<circle cx="466.2" cy="167.9" r="1.55" fill="#db561e"/>
<circle cx="398.5" cy="238.4" r="1.55" fill="#b0cc33"/>
<circle cx="279.8" cy="248.2" r="1.55" fill="#1eb1b6"/>
<circle cx="507.7" cy="156.2" r="1.55" fill="#d9521f"/>
<circle cx="517.0" cy="148.8" r="1.55" fill="#df5e1e"/>
<circle cx="199.5" cy="68.5" r="1.55" fill="#3cba8e"/>
<circle cx="622.5" cy="73.5" r="1.55" fill="#e3651d"/>
<circle cx="609.9" cy="162.6" r="1.55" fill="#e1621d"/>
<circle cx="369.0" cy="238.1" r="1.55" fill="#75c15f"/>
<circle cx="338.7" cy="236.3" r="1.55" fill="#1ba5bc"/>
<circle cx="264.3" cy="246.4" r="1.55" fill="#74c15f"/>
<circle cx="102.9" cy="81.9" r="1.55" fill="#d8501f"/>
<circle cx="142.8" cy="82.6" r="1.55" fill="#e1631d"/>
<circle cx="362.7" cy="238.8" r="1.55" fill="#47bb84"/>
<circle cx="343.9" cy="219.0" r="1.55" fill="#1384c0"/>
<circle cx="277.7" cy="218.6" r="1.55" fill="#1385c0"/>
<circle cx="243.9" cy="36.7" r="1.55" fill="#0e6eb7"/>
<circle cx="282.2" cy="242.4" r="1.55" fill="#1fb2b5"/>
<circle cx="304.3" cy="229.1" r="1.55" fill="#a9ca39"/>
<circle cx="237.2" cy="220.3" r="1.55" fill="#accb37"/>
<circle cx="268.3" cy="267.0" r="1.55" fill="#70c062"/>
<circle cx="465.0" cy="170.0" r="1.55" fill="#e1621d"/>
<circle cx="94.0" cy="80.1" r="1.55" fill="#f4d711"/>
<circle cx="253.0" cy="125.0" r="1.55" fill="#0e6fb8"/>
<circle cx="276.9" cy="249.9" r="1.55" fill="#3dba8d"/>
<circle cx="523.7" cy="148.9" r="1.55" fill="#de5b1e"/>
<circle cx="159.7" cy="55.1" r="1.55" fill="#0f75bb"/>
<circle cx="622.1" cy="68.5" r="1.55" fill="#0f75bb"/>
<circle cx="409.8" cy="200.5" r="1.55" fill="#fac70f"/>
<circle cx="275.7" cy="252.7" r="1.55" fill="#1ba1be"/>
<circle cx="418.6" cy="184.8" r="1.55" fill="#e56b1c"/>
<circle cx="69.3" cy="68.9" r="1.55" fill="#de5d1e"/>
<circle cx="580.1" cy="162.9" r="1.55" fill="#df5e1d"/>
<circle cx="153.1" cy="80.4" r="1.55" fill="#eb8019"/>
<circle cx="620.8" cy="79.8" r="1.55" fill="#b1cc33"/>
<circle cx="196.2" cy="93.6" r="1.55" fill="#f6ad12"/>
<circle cx="378.3" cy="216.1" r="1.55" fill="#0e6fb8"/>
</g>
<line x1="204.5" y1="213.8" x2="435.5" y2="213.8" stroke="#ee1c25" stroke-width="3.2"/>
<rect x="63.5" y="9.9" width="570" height="288.6" fill="none" stroke="#4a4a4a" stroke-width="1"/>
<text x="63.1" y="320.8" font-size="16" text-anchor="middle">-30</text>
<line x1="158.4" y1="298" x2="158.4" y2="292.5" stroke="#4a4a4a"/>
<line x1="158.4" y1="9.9" x2="158.4" y2="15.5" stroke="#4a4a4a"/>
<text x="158.0" y="320.8" font-size="16" text-anchor="middle">-20</text>
<line x1="253.3" y1="298" x2="253.3" y2="292.5" stroke="#4a4a4a"/>
<line x1="253.3" y1="9.9" x2="253.3" y2="15.5" stroke="#4a4a4a"/>
<text x="252.9" y="320.8" font-size="16" text-anchor="middle">-10</text>
<line x1="348.2" y1="298" x2="348.2" y2="292.5" stroke="#4a4a4a"/>
<line x1="348.2" y1="9.9" x2="348.2" y2="15.5" stroke="#4a4a4a"/>
<text x="348.2" y="320.8" font-size="16" text-anchor="middle">0</text>
<line x1="443.1" y1="298" x2="443.1" y2="292.5" stroke="#4a4a4a"/>
<line x1="443.1" y1="9.9" x2="443.1" y2="15.5" stroke="#4a4a4a"/>
<text x="443.1" y="320.8" font-size="16" text-anchor="middle">10</text>
<line x1="538.0" y1="298" x2="538.0" y2="292.5" stroke="#4a4a4a"/>
<line x1="538.0" y1="9.9" x2="538.0" y2="15.5" stroke="#4a4a4a"/>
<text x="538.0" y="320.8" font-size="16" text-anchor="middle">20</text>
<text x="632.9" y="320.8" font-size="16" text-anchor="middle">30</text>
<line x1="63.5" y1="272.3" x2="69" y2="272.3" stroke="#4a4a4a"/>
<line x1="633.5" y1="272.3" x2="628" y2="272.3" stroke="#4a4a4a"/>
<text x="57.5" y="278.9" font-size="16" text-anchor="end">258</text>
<line x1="63.5" y1="219.8" x2="69" y2="219.8" stroke="#4a4a4a"/>
<line x1="633.5" y1="219.8" x2="628" y2="219.8" stroke="#4a4a4a"/>
<text x="57.5" y="226.4" font-size="16" text-anchor="end">259</text>
<line x1="63.5" y1="167.3" x2="69" y2="167.3" stroke="#4a4a4a"/>
<line x1="633.5" y1="167.3" x2="628" y2="167.3" stroke="#4a4a4a"/>
<text x="57.5" y="173.9" font-size="16" text-anchor="end">260</text>
<line x1="63.5" y1="114.8" x2="69" y2="114.8" stroke="#4a4a4a"/>
<line x1="633.5" y1="114.8" x2="628" y2="114.8" stroke="#4a4a4a"/>
<text x="57.5" y="121.4" font-size="16" text-anchor="end">261</text>
<line x1="63.5" y1="62.3" x2="69" y2="62.3" stroke="#4a4a4a"/>
<line x1="633.5" y1="62.3" x2="628" y2="62.3" stroke="#4a4a4a"/>
<text x="57.5" y="68.9" font-size="16" text-anchor="end">262</text>
<text x="57.5" y="16.4" font-size="16" text-anchor="end">263</text>
<text transform="translate(20.5,202.7) rotate(-90)" font-size="19.4" textLength="109.5" lengthAdjust="spacingAndGlyphs">elevation [m]</text>
<text x="253" y="336.5" font-size="19.4" textLength="189" lengthAdjust="spacingAndGlyphs">distance from axis [m]</text>
<rect x="368.7" y="12.3" width="260.6" height="13.7" fill="url(#cb)" stroke="#3a3a3a" stroke-width="0.9"/>
<text x="372" y="41.5" font-size="18.2" textLength="89" lengthAdjust="spacingAndGlyphs">reflectance</text>
<text x="372" y="63.8" font-size="18.2">high</text>
<text x="540.5" y="41.5" font-size="18.2" textLength="89" lengthAdjust="spacingAndGlyphs">reflectance</text>
<text x="540.5" y="63.8" font-size="18.2">low</text>
<rect x="84.5" y="182.5" width="116" height="58.5" fill="#fff" stroke="#222" stroke-width="1.1"/>
<text x="89" y="205.8" font-size="22" textLength="95.3" lengthAdjust="spacingAndGlyphs">estimated</text>
<text x="89" y="234.5" font-size="22" textLength="106" lengthAdjust="spacingAndGlyphs">water level</text>
<text x="71.8" y="290" font-size="20.5" textLength="23.9" lengthAdjust="spacingAndGlyphs">(a)</text>
<text x="475.2" y="281.2" font-size="20.5" textLength="149.4" lengthAdjust="spacingAndGlyphs">axis profil 54.5m</text>
<path d="M65.0 481.5 L67.1 480.6 L72.0 478.6 L85.6 476.6 L86.0 476.6" fill="none" stroke="#7d7d7d" stroke-width="1.7"/>
<path d="M86.0 476.6 L108.3 476.4 L108.5 476.2" fill="none" stroke="#7d7d7d" stroke-width="1.7" stroke-dasharray="6 2.5 3 2.5 3 2"/>
<path d="M108.5 476.2 L116.0 470.5 L125.3 465.0 L134.0 461.0 L142.4 457.9 L148.0 454.0 L153.8 449.4 L160.0 447.2 L173.6 445.1 L190.7 440.9 L207.7 438.0 L221.9 435.2 L229.0 431.0 L236.1 426.6 L247.0 423.6 L258.9 421.0 L290.1 413.3 L315.7 407.6 L349.8 401.9 L367.8 399.5 L373.7 395.9 L384.0 394.2 L392.0 390.5 L398.6 386.9 L406.0 383.8 L413.2 381.0 L422.0 376.6 L427.9 370.8 L432.0 369.3 L436.7 368.5 L437.5 368.3" fill="none" stroke="#7d7d7d" stroke-width="1.7"/>
<path d="M446.0 366.6 L447.0 366.4 L466.0 361.4 L489.4 359.9 L510.8 356.7 L545.0 355.8" fill="none" stroke="#7d7d7d" stroke-width="1.7"/>
<path d="M545.0 355.8 L603.7 354.6" fill="none" stroke="#7d7d7d" stroke-width="1.7"/>
<rect x="563" y="354" width="2" height="3" fill="#fff" opacity="0.8"/><rect x="569" y="354" width="1.2" height="3" fill="#fff" opacity="0.8"/>
<circle cx="66.0" cy="481.1" r="2.9" fill="none" stroke="#3cb44b" stroke-width="1"/>
<circle cx="66.6" cy="480.2" r="2.9" fill="none" stroke="#3cb44b" stroke-width="1"/>
<circle cx="67.3" cy="480.2" r="2.9" fill="none" stroke="#3cb44b" stroke-width="1"/>
<circle cx="68.1" cy="480.2" r="2.9" fill="none" stroke="#3cb44b" stroke-width="1"/>
<circle cx="68.8" cy="479.8" r="2.9" fill="none" stroke="#3cb44b" stroke-width="1"/>
<circle cx="69.3" cy="480.1" r="2.9" fill="none" stroke="#3cb44b" stroke-width="1"/>
<circle cx="70.3" cy="479.5" r="2.9" fill="none" stroke="#3cb44b" stroke-width="1"/>
<circle cx="71.3" cy="479.0" r="2.9" fill="none" stroke="#3cb44b" stroke-width="1"/>
<circle cx="71.9" cy="478.5" r="2.9" fill="none" stroke="#3cb44b" stroke-width="1"/>
<circle cx="72.5" cy="478.5" r="2.9" fill="none" stroke="#3cb44b" stroke-width="1"/>
<circle cx="73.4" cy="478.6" r="2.9" fill="none" stroke="#3cb44b" stroke-width="1"/>
<circle cx="74.4" cy="478.1" r="2.9" fill="none" stroke="#3cb44b" stroke-width="1"/>
<circle cx="75.1" cy="477.9" r="2.9" fill="none" stroke="#3cb44b" stroke-width="1"/>
<circle cx="75.7" cy="477.6" r="2.9" fill="none" stroke="#3cb44b" stroke-width="1"/>
<circle cx="76.6" cy="477.9" r="2.9" fill="none" stroke="#3cb44b" stroke-width="1"/>
<circle cx="77.2" cy="478.1" r="2.9" fill="none" stroke="#3cb44b" stroke-width="1"/>
<circle cx="78.3" cy="477.6" r="2.9" fill="none" stroke="#3cb44b" stroke-width="1"/>
<circle cx="79.3" cy="477.8" r="2.9" fill="none" stroke="#3cb44b" stroke-width="1"/>
<circle cx="80.0" cy="477.1" r="2.9" fill="none" stroke="#3cb44b" stroke-width="1"/>
<circle cx="81.0" cy="477.1" r="2.9" fill="none" stroke="#3cb44b" stroke-width="1"/>
<circle cx="81.8" cy="477.3" r="2.9" fill="none" stroke="#3cb44b" stroke-width="1"/>
<circle cx="82.9" cy="476.9" r="2.9" fill="none" stroke="#3cb44b" stroke-width="1"/>
<circle cx="83.4" cy="477.0" r="2.9" fill="none" stroke="#3cb44b" stroke-width="1"/>
<circle cx="84.4" cy="476.5" r="2.9" fill="none" stroke="#3cb44b" stroke-width="1"/>
<circle cx="85.0" cy="477.0" r="2.9" fill="none" stroke="#3cb44b" stroke-width="1"/>
<circle cx="85.8" cy="476.8" r="2.9" fill="none" stroke="#3cb44b" stroke-width="1"/>
<circle cx="108.0" cy="476.6" r="2.9" fill="none" stroke="#3cb44b" stroke-width="1"/>
<circle cx="109.0" cy="475.6" r="2.9" fill="none" stroke="#3cb44b" stroke-width="1"/>
<circle cx="109.5" cy="475.2" r="2.9" fill="none" stroke="#3cb44b" stroke-width="1"/>
<circle cx="110.0" cy="475.0" r="2.9" fill="none" stroke="#3cb44b" stroke-width="1"/>
<circle cx="110.7" cy="474.4" r="2.9" fill="none" stroke="#3cb44b" stroke-width="1"/>
<circle cx="111.6" cy="473.8" r="2.9" fill="none" stroke="#3cb44b" stroke-width="1"/>
<circle cx="112.2" cy="473.2" r="2.9" fill="none" stroke="#3cb44b" stroke-width="1"/>
<circle cx="112.9" cy="472.8" r="2.9" fill="none" stroke="#3cb44b" stroke-width="1"/>
<circle cx="113.9" cy="471.9" r="2.9" fill="none" stroke="#3cb44b" stroke-width="1"/>
<circle cx="114.4" cy="471.9" r="2.9" fill="none" stroke="#3cb44b" stroke-width="1"/>
<circle cx="115.1" cy="471.1" r="2.9" fill="none" stroke="#3cb44b" stroke-width="1"/>
<circle cx="116.0" cy="471.1" r="2.9" fill="none" stroke="#3cb44b" stroke-width="1"/>
<circle cx="116.5" cy="470.3" r="2.9" fill="none" stroke="#3cb44b" stroke-width="1"/>
<circle cx="117.3" cy="469.2" r="2.9" fill="none" stroke="#3cb44b" stroke-width="1"/>
<circle cx="118.3" cy="469.1" r="2.9" fill="none" stroke="#3cb44b" stroke-width="1"/>
<circle cx="119.1" cy="469.2" r="2.9" fill="none" stroke="#3cb44b" stroke-width="1"/>
<circle cx="119.9" cy="467.8" r="2.9" fill="none" stroke="#3cb44b" stroke-width="1"/>
<circle cx="120.9" cy="467.7" r="2.9" fill="none" stroke="#3cb44b" stroke-width="1"/>
<circle cx="121.4" cy="467.7" r="2.9" fill="none" stroke="#3cb44b" stroke-width="1"/>
<circle cx="121.9" cy="467.1" r="2.9" fill="none" stroke="#3cb44b" stroke-width="1"/>
<circle cx="122.8" cy="467.0" r="2.9" fill="none" stroke="#3cb44b" stroke-width="1"/>
<circle cx="123.3" cy="465.5" r="2.9" fill="none" stroke="#3cb44b" stroke-width="1"/>
<circle cx="123.9" cy="466.2" r="2.9" fill="none" stroke="#3cb44b" stroke-width="1"/>
<circle cx="124.4" cy="465.7" r="2.9" fill="none" stroke="#3cb44b" stroke-width="1"/>
<circle cx="124.9" cy="465.3" r="2.9" fill="none" stroke="#3cb44b" stroke-width="1"/>
<circle cx="125.8" cy="464.9" r="2.9" fill="none" stroke="#3cb44b" stroke-width="1"/>
<circle cx="126.8" cy="464.2" r="2.9" fill="none" stroke="#3cb44b" stroke-width="1"/>
<circle cx="127.4" cy="463.7" r="2.9" fill="none" stroke="#3cb44b" stroke-width="1"/>
<circle cx="127.9" cy="463.8" r="2.9" fill="none" stroke="#3cb44b" stroke-width="1"/>
<circle cx="128.4" cy="463.7" r="2.9" fill="none" stroke="#3cb44b" stroke-width="1"/>
<circle cx="129.0" cy="463.2" r="2.9" fill="none" stroke="#3cb44b" stroke-width="1"/>
<circle cx="129.7" cy="462.9" r="2.9" fill="none" stroke="#3cb44b" stroke-width="1"/>
<circle cx="130.4" cy="462.6" r="2.9" fill="none" stroke="#3cb44b" stroke-width="1"/>
<circle cx="131.1" cy="462.4" r="2.9" fill="none" stroke="#3cb44b" stroke-width="1"/>
<circle cx="132.0" cy="461.9" r="2.9" fill="none" stroke="#3cb44b" stroke-width="1"/>
<circle cx="132.6" cy="461.3" r="2.9" fill="none" stroke="#3cb44b" stroke-width="1"/>
<circle cx="133.1" cy="461.4" r="2.9" fill="none" stroke="#3cb44b" stroke-width="1"/>
<circle cx="133.8" cy="461.0" r="2.9" fill="none" stroke="#3cb44b" stroke-width="1"/>
<circle cx="134.4" cy="460.9" r="2.9" fill="none" stroke="#3cb44b" stroke-width="1"/>
<circle cx="135.0" cy="460.7" r="2.9" fill="none" stroke="#3cb44b" stroke-width="1"/>
<circle cx="135.7" cy="459.9" r="2.9" fill="none" stroke="#3cb44b" stroke-width="1"/>
<circle cx="136.5" cy="460.1" r="2.9" fill="none" stroke="#3cb44b" stroke-width="1"/>
<circle cx="137.4" cy="459.8" r="2.9" fill="none" stroke="#3cb44b" stroke-width="1"/>
<circle cx="138.1" cy="459.7" r="2.9" fill="none" stroke="#3cb44b" stroke-width="1"/>
<circle cx="138.6" cy="459.3" r="2.9" fill="none" stroke="#3cb44b" stroke-width="1"/>
<circle cx="139.2" cy="459.4" r="2.9" fill="none" stroke="#3cb44b" stroke-width="1"/>
<circle cx="139.8" cy="458.9" r="2.9" fill="none" stroke="#3cb44b" stroke-width="1"/>
<circle cx="140.7" cy="458.1" r="2.9" fill="none" stroke="#3cb44b" stroke-width="1"/>
<circle cx="141.4" cy="458.0" r="2.9" fill="none" stroke="#3cb44b" stroke-width="1"/>
<circle cx="142.4" cy="457.7" r="2.9" fill="none" stroke="#3cb44b" stroke-width="1"/>
<circle cx="143.0" cy="457.7" r="2.9" fill="none" stroke="#3cb44b" stroke-width="1"/>
<circle cx="143.8" cy="456.7" r="2.9" fill="none" stroke="#3cb44b" stroke-width="1"/>
<circle cx="144.7" cy="456.2" r="2.9" fill="none" stroke="#3cb44b" stroke-width="1"/>
<circle cx="145.4" cy="456.2" r="2.9" fill="none" stroke="#3cb44b" stroke-width="1"/>
<circle cx="145.9" cy="455.0" r="2.9" fill="none" stroke="#3cb44b" stroke-width="1"/>
<circle cx="146.5" cy="455.5" r="2.9" fill="none" stroke="#3cb44b" stroke-width="1"/>
<circle cx="147.0" cy="454.6" r="2.9" fill="none" stroke="#3cb44b" stroke-width="1"/>
<circle cx="147.7" cy="453.9" r="2.9" fill="none" stroke="#3cb44b" stroke-width="1"/>
<circle cx="148.2" cy="453.5" r="2.9" fill="none" stroke="#3cb44b" stroke-width="1"/>
<circle cx="149.0" cy="453.2" r="2.9" fill="none" stroke="#3cb44b" stroke-width="1"/>
<circle cx="149.7" cy="452.0" r="2.9" fill="none" stroke="#3cb44b" stroke-width="1"/>
<circle cx="150.1" cy="452.0" r="2.9" fill="none" stroke="#3cb44b" stroke-width="1"/>
<circle cx="150.6" cy="451.9" r="2.9" fill="none" stroke="#3cb44b" stroke-width="1"/>
<circle cx="151.0" cy="451.7" r="2.9" fill="none" stroke="#3cb44b" stroke-width="1"/>
<circle cx="151.9" cy="450.9" r="2.9" fill="none" stroke="#3cb44b" stroke-width="1"/>
<circle cx="152.4" cy="450.5" r="2.9" fill="none" stroke="#3cb44b" stroke-width="1"/>
<circle cx="152.9" cy="449.5" r="2.9" fill="none" stroke="#3cb44b" stroke-width="1"/>
<circle cx="153.4" cy="450.2" r="2.9" fill="none" stroke="#3cb44b" stroke-width="1"/>
<circle cx="154.0" cy="449.1" r="2.9" fill="none" stroke="#3cb44b" stroke-width="1"/>
<circle cx="154.6" cy="449.1" r="2.9" fill="none" stroke="#3cb44b" stroke-width="1"/>
<circle cx="155.5" cy="448.6" r="2.9" fill="none" stroke="#3cb44b" stroke-width="1"/>
<circle cx="156.3" cy="448.1" r="2.9" fill="none" stroke="#3cb44b" stroke-width="1"/>
<circle cx="156.9" cy="448.3" r="2.9" fill="none" stroke="#3cb44b" stroke-width="1"/>
<circle cx="157.7" cy="448.1" r="2.9" fill="none" stroke="#3cb44b" stroke-width="1"/>
<circle cx="158.5" cy="447.6" r="2.9" fill="none" stroke="#3cb44b" stroke-width="1"/>
<circle cx="159.2" cy="447.2" r="2.9" fill="none" stroke="#3cb44b" stroke-width="1"/>
<circle cx="159.6" cy="447.2" r="2.9" fill="none" stroke="#3cb44b" stroke-width="1"/>
<circle cx="160.2" cy="447.2" r="2.9" fill="none" stroke="#3cb44b" stroke-width="1"/>
<circle cx="161.1" cy="446.6" r="2.9" fill="none" stroke="#3cb44b" stroke-width="1"/>
<circle cx="162.0" cy="446.6" r="2.9" fill="none" stroke="#3cb44b" stroke-width="1"/>
<circle cx="162.8" cy="446.9" r="2.9" fill="none" stroke="#3cb44b" stroke-width="1"/>
<circle cx="163.6" cy="446.6" r="2.9" fill="none" stroke="#3cb44b" stroke-width="1"/>
<circle cx="164.4" cy="446.4" r="2.9" fill="none" stroke="#3cb44b" stroke-width="1"/>
<circle cx="165.1" cy="446.4" r="2.9" fill="none" stroke="#3cb44b" stroke-width="1"/>
<circle cx="166.0" cy="446.1" r="2.9" fill="none" stroke="#3cb44b" stroke-width="1"/>
<circle cx="166.9" cy="445.6" r="2.9" fill="none" stroke="#3cb44b" stroke-width="1"/>
<circle cx="167.3" cy="445.7" r="2.9" fill="none" stroke="#3cb44b" stroke-width="1"/>
<circle cx="168.2" cy="446.2" r="2.9" fill="none" stroke="#3cb44b" stroke-width="1"/>
<circle cx="168.9" cy="445.6" r="2.9" fill="none" stroke="#3cb44b" stroke-width="1"/>
<circle cx="169.5" cy="445.8" r="2.9" fill="none" stroke="#3cb44b" stroke-width="1"/>
<circle cx="170.1" cy="445.3" r="2.9" fill="none" stroke="#3cb44b" stroke-width="1"/>
<circle cx="170.6" cy="445.6" r="2.9" fill="none" stroke="#3cb44b" stroke-width="1"/>
<circle cx="171.1" cy="445.3" r="2.9" fill="none" stroke="#3cb44b" stroke-width="1"/>
<circle cx="171.8" cy="445.1" r="2.9" fill="none" stroke="#3cb44b" stroke-width="1"/>
<circle cx="172.5" cy="444.7" r="2.9" fill="none" stroke="#3cb44b" stroke-width="1"/>
<circle cx="173.1" cy="445.9" r="2.9" fill="none" stroke="#3cb44b" stroke-width="1"/>
<circle cx="173.8" cy="444.9" r="2.9" fill="none" stroke="#3cb44b" stroke-width="1"/>
<circle cx="174.4" cy="445.2" r="2.9" fill="none" stroke="#3cb44b" stroke-width="1"/>
<circle cx="175.1" cy="445.0" r="2.9" fill="none" stroke="#3cb44b" stroke-width="1"/>
<circle cx="175.8" cy="444.6" r="2.9" fill="none" stroke="#3cb44b" stroke-width="1"/>
<circle cx="176.5" cy="444.4" r="2.9" fill="none" stroke="#3cb44b" stroke-width="1"/>
<circle cx="177.1" cy="444.2" r="2.9" fill="none" stroke="#3cb44b" stroke-width="1"/>
<circle cx="177.7" cy="443.6" r="2.9" fill="none" stroke="#3cb44b" stroke-width="1"/>
<circle cx="178.6" cy="444.0" r="2.9" fill="none" stroke="#3cb44b" stroke-width="1"/>
<circle cx="179.4" cy="443.9" r="2.9" fill="none" stroke="#3cb44b" stroke-width="1"/>
<circle cx="180.2" cy="443.4" r="2.9" fill="none" stroke="#3cb44b" stroke-width="1"/>
<circle cx="180.7" cy="443.3" r="2.9" fill="none" stroke="#3cb44b" stroke-width="1"/>
<circle cx="181.4" cy="443.0" r="2.9" fill="none" stroke="#3cb44b" stroke-width="1"/>
<circle cx="182.0" cy="442.8" r="2.9" fill="none" stroke="#3cb44b" stroke-width="1"/>
<circle cx="182.9" cy="442.8" r="2.9" fill="none" stroke="#3cb44b" stroke-width="1"/>
<circle cx="183.6" cy="442.7" r="2.9" fill="none" stroke="#3cb44b" stroke-width="1"/>
<circle cx="184.3" cy="442.3" r="2.9" fill="none" stroke="#3cb44b" stroke-width="1"/>
<circle cx="185.0" cy="442.2" r="2.9" fill="none" stroke="#3cb44b" stroke-width="1"/>
<circle cx="185.5" cy="442.4" r="2.9" fill="none" stroke="#3cb44b" stroke-width="1"/>
<circle cx="186.0" cy="441.9" r="2.9" fill="none" stroke="#3cb44b" stroke-width="1"/>
<circle cx="186.7" cy="442.2" r="2.9" fill="none" stroke="#3cb44b" stroke-width="1"/>
<circle cx="187.5" cy="441.8" r="2.9" fill="none" stroke="#3cb44b" stroke-width="1"/>
<circle cx="188.5" cy="441.5" r="2.9" fill="none" stroke="#3cb44b" stroke-width="1"/>
<circle cx="189.0" cy="441.5" r="2.9" fill="none" stroke="#3cb44b" stroke-width="1"/>
<circle cx="189.6" cy="441.4" r="2.9" fill="none" stroke="#3cb44b" stroke-width="1"/>
<circle cx="190.6" cy="441.1" r="2.9" fill="none" stroke="#3cb44b" stroke-width="1"/>
<circle cx="205.0" cy="438.2" r="2.9" fill="none" stroke="#3cb44b" stroke-width="1"/>
<circle cx="205.7" cy="438.5" r="2.9" fill="none" stroke="#3cb44b" stroke-width="1"/>
<circle cx="206.4" cy="438.2" r="2.9" fill="none" stroke="#3cb44b" stroke-width="1"/>
<circle cx="207.2" cy="438.0" r="2.9" fill="none" stroke="#3cb44b" stroke-width="1"/>
<circle cx="208.1" cy="437.8" r="2.9" fill="none" stroke="#3cb44b" stroke-width="1"/>
<circle cx="209.0" cy="437.7" r="2.9" fill="none" stroke="#3cb44b" stroke-width="1"/>
<circle cx="209.9" cy="437.4" r="2.9" fill="none" stroke="#3cb44b" stroke-width="1"/>
<circle cx="210.4" cy="437.8" r="2.9" fill="none" stroke="#3cb44b" stroke-width="1"/>
<circle cx="211.3" cy="437.3" r="2.9" fill="none" stroke="#3cb44b" stroke-width="1"/>
<circle cx="212.1" cy="437.0" r="2.9" fill="none" stroke="#3cb44b" stroke-width="1"/>
<circle cx="212.5" cy="437.0" r="2.9" fill="none" stroke="#3cb44b" stroke-width="1"/>
<circle cx="213.3" cy="436.9" r="2.9" fill="none" stroke="#3cb44b" stroke-width="1"/>
<circle cx="214.2" cy="436.5" r="2.9" fill="none" stroke="#3cb44b" stroke-width="1"/>
<circle cx="214.8" cy="436.2" r="2.9" fill="none" stroke="#3cb44b" stroke-width="1"/>
<circle cx="215.6" cy="436.5" r="2.9" fill="none" stroke="#3cb44b" stroke-width="1"/>
<circle cx="216.4" cy="436.5" r="2.9" fill="none" stroke="#3cb44b" stroke-width="1"/>
<circle cx="217.3" cy="436.4" r="2.9" fill="none" stroke="#3cb44b" stroke-width="1"/>
<circle cx="218.1" cy="435.7" r="2.9" fill="none" stroke="#3cb44b" stroke-width="1"/>
<circle cx="218.7" cy="435.6" r="2.9" fill="none" stroke="#3cb44b" stroke-width="1"/>
<circle cx="219.6" cy="435.8" r="2.9" fill="none" stroke="#3cb44b" stroke-width="1"/>
<circle cx="220.4" cy="435.5" r="2.9" fill="none" stroke="#3cb44b" stroke-width="1"/>
<circle cx="221.3" cy="435.1" r="2.9" fill="none" stroke="#3cb44b" stroke-width="1"/>
<circle cx="221.9" cy="435.2" r="2.9" fill="none" stroke="#3cb44b" stroke-width="1"/>
<circle cx="222.4" cy="435.0" r="2.9" fill="none" stroke="#3cb44b" stroke-width="1"/>
<circle cx="223.4" cy="434.0" r="2.9" fill="none" stroke="#3cb44b" stroke-width="1"/>
<circle cx="223.9" cy="434.4" r="2.9" fill="none" stroke="#3cb44b" stroke-width="1"/>
<circle cx="224.6" cy="433.5" r="2.9" fill="none" stroke="#3cb44b" stroke-width="1"/>
<circle cx="225.1" cy="433.6" r="2.9" fill="none" stroke="#3cb44b" stroke-width="1"/>
<circle cx="225.6" cy="433.1" r="2.9" fill="none" stroke="#3cb44b" stroke-width="1"/>
<circle cx="226.4" cy="432.6" r="2.9" fill="none" stroke="#3cb44b" stroke-width="1"/>
<circle cx="227.2" cy="432.7" r="2.9" fill="none" stroke="#3cb44b" stroke-width="1"/>
<circle cx="227.6" cy="432.1" r="2.9" fill="none" stroke="#3cb44b" stroke-width="1"/>
<circle cx="228.1" cy="431.2" r="2.9" fill="none" stroke="#3cb44b" stroke-width="1"/>
<circle cx="228.8" cy="430.9" r="2.9" fill="none" stroke="#3cb44b" stroke-width="1"/>
<circle cx="229.4" cy="430.3" r="2.9" fill="none" stroke="#3cb44b" stroke-width="1"/>
<circle cx="230.3" cy="430.8" r="2.9" fill="none" stroke="#3cb44b" stroke-width="1"/>
<circle cx="231.1" cy="429.5" r="2.9" fill="none" stroke="#3cb44b" stroke-width="1"/>
<circle cx="231.9" cy="429.5" r="2.9" fill="none" stroke="#3cb44b" stroke-width="1"/>
<circle cx="232.8" cy="428.8" r="2.9" fill="none" stroke="#3cb44b" stroke-width="1"/>
<circle cx="233.4" cy="428.4" r="2.9" fill="none" stroke="#3cb44b" stroke-width="1"/>
<circle cx="234.3" cy="427.5" r="2.9" fill="none" stroke="#3cb44b" stroke-width="1"/>
<circle cx="234.9" cy="427.0" r="2.9" fill="none" stroke="#3cb44b" stroke-width="1"/>
<circle cx="235.4" cy="426.9" r="2.9" fill="none" stroke="#3cb44b" stroke-width="1"/>
<circle cx="235.9" cy="426.6" r="2.9" fill="none" stroke="#3cb44b" stroke-width="1"/>
<circle cx="245.0" cy="424.4" r="2.9" fill="none" stroke="#3cb44b" stroke-width="1"/>
<circle cx="249.0" cy="423.7" r="2.9" fill="none" stroke="#3cb44b" stroke-width="1"/>
<circle cx="250.5" cy="422.7" r="2.9" fill="none" stroke="#3cb44b" stroke-width="1"/>
<circle cx="251.1" cy="422.7" r="2.9" fill="none" stroke="#3cb44b" stroke-width="1"/>
<circle cx="251.6" cy="422.5" r="2.9" fill="none" stroke="#3cb44b" stroke-width="1"/>
<circle cx="252.1" cy="422.8" r="2.9" fill="none" stroke="#3cb44b" stroke-width="1"/>
<circle cx="252.9" cy="422.1" r="2.9" fill="none" stroke="#3cb44b" stroke-width="1"/>
<circle cx="253.8" cy="422.0" r="2.9" fill="none" stroke="#3cb44b" stroke-width="1"/>
<circle cx="254.6" cy="421.9" r="2.9" fill="none" stroke="#3cb44b" stroke-width="1"/>
<circle cx="255.6" cy="422.1" r="2.9" fill="none" stroke="#3cb44b" stroke-width="1"/>
<circle cx="256.2" cy="421.7" r="2.9" fill="none" stroke="#3cb44b" stroke-width="1"/>
<circle cx="257.0" cy="421.5" r="2.9" fill="none" stroke="#3cb44b" stroke-width="1"/>
<circle cx="257.5" cy="421.4" r="2.9" fill="none" stroke="#3cb44b" stroke-width="1"/>
<circle cx="258.3" cy="421.3" r="2.9" fill="none" stroke="#3cb44b" stroke-width="1"/>
<circle cx="259.0" cy="420.9" r="2.9" fill="none" stroke="#3cb44b" stroke-width="1"/>
<circle cx="259.7" cy="420.7" r="2.9" fill="none" stroke="#3cb44b" stroke-width="1"/>
<circle cx="290.1" cy="413.4" r="2.9" fill="none" stroke="#3cb44b" stroke-width="1"/>
<circle cx="301.0" cy="411.0" r="2.9" fill="none" stroke="#3cb44b" stroke-width="1"/>
<circle cx="302.1" cy="410.6" r="2.9" fill="none" stroke="#3cb44b" stroke-width="1"/>
<circle cx="303.3" cy="410.0" r="2.9" fill="none" stroke="#3cb44b" stroke-width="1"/>
<circle cx="304.2" cy="410.3" r="2.9" fill="none" stroke="#3cb44b" stroke-width="1"/>
<circle cx="305.4" cy="410.3" r="2.9" fill="none" stroke="#3cb44b" stroke-width="1"/>
<circle cx="306.6" cy="409.8" r="2.9" fill="none" stroke="#3cb44b" stroke-width="1"/>
<circle cx="307.6" cy="409.5" r="2.9" fill="none" stroke="#3cb44b" stroke-width="1"/>
<circle cx="308.6" cy="409.2" r="2.9" fill="none" stroke="#3cb44b" stroke-width="1"/>
<circle cx="309.6" cy="409.2" r="2.9" fill="none" stroke="#3cb44b" stroke-width="1"/>
<circle cx="310.8" cy="408.8" r="2.9" fill="none" stroke="#3cb44b" stroke-width="1"/>
<circle cx="311.8" cy="408.1" r="2.9" fill="none" stroke="#3cb44b" stroke-width="1"/>
<circle cx="313.0" cy="408.5" r="2.9" fill="none" stroke="#3cb44b" stroke-width="1"/>
<circle cx="313.7" cy="408.0" r="2.9" fill="none" stroke="#3cb44b" stroke-width="1"/>
<circle cx="314.8" cy="408.3" r="2.9" fill="none" stroke="#3cb44b" stroke-width="1"/>
<circle cx="315.6" cy="408.3" r="2.9" fill="none" stroke="#3cb44b" stroke-width="1"/>
<circle cx="316.6" cy="407.4" r="2.9" fill="none" stroke="#3cb44b" stroke-width="1"/>
<circle cx="367.8" cy="399.5" r="2.9" fill="none" stroke="#3cb44b" stroke-width="1"/>
<circle cx="369.0" cy="398.8" r="2.9" fill="none" stroke="#3cb44b" stroke-width="1"/>
<circle cx="373.7" cy="395.7" r="2.9" fill="none" stroke="#3cb44b" stroke-width="1"/>
<circle cx="374.5" cy="395.9" r="2.9" fill="none" stroke="#3cb44b" stroke-width="1"/>
<circle cx="381.0" cy="394.8" r="2.9" fill="none" stroke="#3cb44b" stroke-width="1"/>
<circle cx="382.0" cy="394.6" r="2.9" fill="none" stroke="#3cb44b" stroke-width="1"/>
<circle cx="382.9" cy="394.3" r="2.9" fill="none" stroke="#3cb44b" stroke-width="1"/>
<circle cx="383.9" cy="394.3" r="2.9" fill="none" stroke="#3cb44b" stroke-width="1"/>
<circle cx="384.9" cy="393.8" r="2.9" fill="none" stroke="#3cb44b" stroke-width="1"/>
<circle cx="385.7" cy="393.0" r="2.9" fill="none" stroke="#3cb44b" stroke-width="1"/>
<circle cx="386.3" cy="393.1" r="2.9" fill="none" stroke="#3cb44b" stroke-width="1"/>
<circle cx="387.0" cy="392.8" r="2.9" fill="none" stroke="#3cb44b" stroke-width="1"/>
<circle cx="387.5" cy="392.9" r="2.9" fill="none" stroke="#3cb44b" stroke-width="1"/>
<circle cx="388.3" cy="392.5" r="2.9" fill="none" stroke="#3cb44b" stroke-width="1"/>
<circle cx="388.9" cy="392.0" r="2.9" fill="none" stroke="#3cb44b" stroke-width="1"/>
<circle cx="389.8" cy="391.2" r="2.9" fill="none" stroke="#3cb44b" stroke-width="1"/>
<circle cx="390.7" cy="391.2" r="2.9" fill="none" stroke="#3cb44b" stroke-width="1"/>
<circle cx="391.2" cy="391.1" r="2.9" fill="none" stroke="#3cb44b" stroke-width="1"/>
<circle cx="392.1" cy="390.4" r="2.9" fill="none" stroke="#3cb44b" stroke-width="1"/>
<circle cx="392.8" cy="390.0" r="2.9" fill="none" stroke="#3cb44b" stroke-width="1"/>
<circle cx="393.3" cy="389.9" r="2.9" fill="none" stroke="#3cb44b" stroke-width="1"/>
<circle cx="393.9" cy="389.2" r="2.9" fill="none" stroke="#3cb44b" stroke-width="1"/>
<circle cx="394.7" cy="389.5" r="2.9" fill="none" stroke="#3cb44b" stroke-width="1"/>
<circle cx="395.4" cy="388.4" r="2.9" fill="none" stroke="#3cb44b" stroke-width="1"/>
<circle cx="395.9" cy="388.2" r="2.9" fill="none" stroke="#3cb44b" stroke-width="1"/>
<circle cx="396.8" cy="388.0" r="2.9" fill="none" stroke="#3cb44b" stroke-width="1"/>
<circle cx="397.4" cy="387.7" r="2.9" fill="none" stroke="#3cb44b" stroke-width="1"/>
<circle cx="398.4" cy="386.8" r="2.9" fill="none" stroke="#3cb44b" stroke-width="1"/>
<circle cx="399.4" cy="386.5" r="2.9" fill="none" stroke="#3cb44b" stroke-width="1"/>
<circle cx="400.3" cy="386.2" r="2.9" fill="none" stroke="#3cb44b" stroke-width="1"/>
<circle cx="401.3" cy="386.0" r="2.9" fill="none" stroke="#3cb44b" stroke-width="1"/>
<circle cx="401.8" cy="385.9" r="2.9" fill="none" stroke="#3cb44b" stroke-width="1"/>
<circle cx="402.4" cy="385.3" r="2.9" fill="none" stroke="#3cb44b" stroke-width="1"/>
<circle cx="403.3" cy="385.1" r="2.9" fill="none" stroke="#3cb44b" stroke-width="1"/>
<circle cx="404.3" cy="383.9" r="2.9" fill="none" stroke="#3cb44b" stroke-width="1"/>
<circle cx="404.9" cy="384.2" r="2.9" fill="none" stroke="#3cb44b" stroke-width="1"/>
<circle cx="405.5" cy="383.9" r="2.9" fill="none" stroke="#3cb44b" stroke-width="1"/>
<circle cx="406.1" cy="384.2" r="2.9" fill="none" stroke="#3cb44b" stroke-width="1"/>
<circle cx="406.8" cy="383.7" r="2.9" fill="none" stroke="#3cb44b" stroke-width="1"/>
<circle cx="407.4" cy="383.0" r="2.9" fill="none" stroke="#3cb44b" stroke-width="1"/>
<circle cx="408.4" cy="383.0" r="2.9" fill="none" stroke="#3cb44b" stroke-width="1"/>
<circle cx="409.2" cy="382.7" r="2.9" fill="none" stroke="#3cb44b" stroke-width="1"/>
<circle cx="410.0" cy="382.1" r="2.9" fill="none" stroke="#3cb44b" stroke-width="1"/>
<circle cx="410.8" cy="381.5" r="2.9" fill="none" stroke="#3cb44b" stroke-width="1"/>
<circle cx="411.4" cy="381.7" r="2.9" fill="none" stroke="#3cb44b" stroke-width="1"/>
<circle cx="411.9" cy="381.3" r="2.9" fill="none" stroke="#3cb44b" stroke-width="1"/>
<circle cx="412.5" cy="381.0" r="2.9" fill="none" stroke="#3cb44b" stroke-width="1"/>
<circle cx="413.1" cy="381.3" r="2.9" fill="none" stroke="#3cb44b" stroke-width="1"/>
<circle cx="413.9" cy="380.1" r="2.9" fill="none" stroke="#3cb44b" stroke-width="1"/>
<circle cx="414.6" cy="380.8" r="2.9" fill="none" stroke="#3cb44b" stroke-width="1"/>
<circle cx="415.6" cy="379.9" r="2.9" fill="none" stroke="#3cb44b" stroke-width="1"/>
<circle cx="416.4" cy="379.1" r="2.9" fill="none" stroke="#3cb44b" stroke-width="1"/>
<circle cx="416.9" cy="379.7" r="2.9" fill="none" stroke="#3cb44b" stroke-width="1"/>
<circle cx="417.9" cy="378.3" r="2.9" fill="none" stroke="#3cb44b" stroke-width="1"/>
<circle cx="418.4" cy="378.4" r="2.9" fill="none" stroke="#3cb44b" stroke-width="1"/>
<circle cx="419.0" cy="378.3" r="2.9" fill="none" stroke="#3cb44b" stroke-width="1"/>
<circle cx="419.6" cy="378.1" r="2.9" fill="none" stroke="#3cb44b" stroke-width="1"/>
<circle cx="420.6" cy="377.5" r="2.9" fill="none" stroke="#3cb44b" stroke-width="1"/>
<circle cx="421.2" cy="377.3" r="2.9" fill="none" stroke="#3cb44b" stroke-width="1"/>
<circle cx="422.0" cy="376.2" r="2.9" fill="none" stroke="#3cb44b" stroke-width="1"/>
<circle cx="423.0" cy="375.6" r="2.9" fill="none" stroke="#3cb44b" stroke-width="1"/>
<circle cx="423.8" cy="375.2" r="2.9" fill="none" stroke="#3cb44b" stroke-width="1"/>
<circle cx="424.3" cy="374.6" r="2.9" fill="none" stroke="#3cb44b" stroke-width="1"/>
<circle cx="425.0" cy="373.6" r="2.9" fill="none" stroke="#3cb44b" stroke-width="1"/>
<circle cx="425.9" cy="372.6" r="2.9" fill="none" stroke="#3cb44b" stroke-width="1"/>
<circle cx="427.0" cy="371.7" r="2.9" fill="none" stroke="#3cb44b" stroke-width="1"/>
<circle cx="428.0" cy="370.6" r="2.9" fill="none" stroke="#3cb44b" stroke-width="1"/>
<circle cx="428.4" cy="370.6" r="2.9" fill="none" stroke="#3cb44b" stroke-width="1"/>
<circle cx="429.1" cy="370.8" r="2.9" fill="none" stroke="#3cb44b" stroke-width="1"/>
<circle cx="429.6" cy="370.1" r="2.9" fill="none" stroke="#3cb44b" stroke-width="1"/>
<circle cx="430.4" cy="370.1" r="2.9" fill="none" stroke="#3cb44b" stroke-width="1"/>
<circle cx="431.5" cy="369.6" r="2.9" fill="none" stroke="#3cb44b" stroke-width="1"/>
<circle cx="431.9" cy="368.7" r="2.9" fill="none" stroke="#3cb44b" stroke-width="1"/>
<circle cx="433.5" cy="369.0" r="2.9" fill="none" stroke="#3cb44b" stroke-width="1"/>
<circle cx="435.0" cy="368.4" r="2.9" fill="none" stroke="#3cb44b" stroke-width="1"/>
<circle cx="437.0" cy="368.6" r="2.9" fill="none" stroke="#3cb44b" stroke-width="1"/>
<circle cx="438.5" cy="368.3" r="2.9" fill="none" stroke="#3cb44b" stroke-width="1"/>
<circle cx="464.5" cy="361.5" r="2.9" fill="none" stroke="#3cb44b" stroke-width="1"/>
<circle cx="465.5" cy="361.3" r="2.9" fill="none" stroke="#3cb44b" stroke-width="1"/>
<circle cx="466.5" cy="361.2" r="2.9" fill="none" stroke="#3cb44b" stroke-width="1"/>
<circle cx="467.5" cy="361.0" r="2.9" fill="none" stroke="#3cb44b" stroke-width="1"/>
<circle cx="468.5" cy="360.6" r="2.9" fill="none" stroke="#3cb44b" stroke-width="1"/>
<circle cx="487.0" cy="360.0" r="2.9" fill="none" stroke="#3cb44b" stroke-width="1"/>
<circle cx="489.5" cy="359.7" r="2.9" fill="none" stroke="#3cb44b" stroke-width="1"/>
<circle cx="491.0" cy="359.7" r="2.9" fill="none" stroke="#3cb44b" stroke-width="1"/>
<circle cx="510.8" cy="357.0" r="2.9" fill="none" stroke="#3cb44b" stroke-width="1"/>
<circle cx="600.5" cy="354.4" r="2.9" fill="none" stroke="#3cb44b" stroke-width="1"/>
<circle cx="602.0" cy="354.2" r="2.9" fill="none" stroke="#3cb44b" stroke-width="1"/>
<circle cx="603.3" cy="354.6" r="2.9" fill="none" stroke="#3cb44b" stroke-width="1"/>
<circle cx="604.5" cy="354.8" r="2.9" fill="none" stroke="#3cb44b" stroke-width="1"/>
<rect x="63.5" y="347" width="570.6" height="135.3" fill="none" stroke="#4a4a4a" stroke-width="1"/>
<line x1="630.1" y1="347" x2="630.1" y2="352.5" stroke="#4a4a4a"/>
<text x="63.6" y="505.2" font-size="16" text-anchor="middle">0</text>
<line x1="253.4" y1="482.3" x2="253.4" y2="476.8" stroke="#4a4a4a"/>
<line x1="253.4" y1="347" x2="253.4" y2="352.5" stroke="#4a4a4a"/>
<text x="253.8" y="505.2" font-size="16" text-anchor="middle">500</text>
<line x1="443.6" y1="482.3" x2="443.6" y2="476.8" stroke="#4a4a4a"/>
<line x1="443.6" y1="347" x2="443.6" y2="352.5" stroke="#4a4a4a"/>
<text x="443.9" y="505.2" font-size="16" text-anchor="middle">1000</text>
<line x1="633.8" y1="482.3" x2="633.8" y2="476.8" stroke="#4a4a4a"/>
<line x1="633.8" y1="347" x2="633.8" y2="352.5" stroke="#4a4a4a"/>
<text x="634.0" y="505.2" font-size="16" text-anchor="middle">1500</text>
<text x="57.5" y="488.9" font-size="16" text-anchor="end">259</text>
<line x1="63.5" y1="441.3" x2="69" y2="441.3" stroke="#4a4a4a"/>
<line x1="634" y1="441.3" x2="628.5" y2="441.3" stroke="#4a4a4a"/>
<text x="57.5" y="447.9" font-size="16" text-anchor="end">260</text>
<line x1="63.5" y1="400.3" x2="69" y2="400.3" stroke="#4a4a4a"/>
<line x1="634" y1="400.3" x2="628.5" y2="400.3" stroke="#4a4a4a"/>
<text x="57.5" y="406.9" font-size="16" text-anchor="end">261</text>
<line x1="63.5" y1="359.3" x2="69" y2="359.3" stroke="#4a4a4a"/>
<line x1="634" y1="359.3" x2="628.5" y2="359.3" stroke="#4a4a4a"/>
<text x="57.5" y="365.9" font-size="16" text-anchor="end">262</text>
<text transform="translate(20.5,518) rotate(-90)" font-size="19.4" textLength="229" lengthAdjust="spacingAndGlyphs">elevation of water level [m]</text>
<text x="274" y="519.3" font-size="19.4" textLength="147" lengthAdjust="spacingAndGlyphs">length of axis [m]</text>
<text x="72" y="372" font-size="20.5" textLength="25" lengthAdjust="spacingAndGlyphs">(b)</text>
<rect x="327.6" y="426" width="304" height="52.4" fill="#fff" stroke="#333" stroke-width="1"/>
<line x1="341.5" y1="441" x2="362" y2="441" stroke="#7d7d7d" stroke-width="2"/>
<circle cx="349.4" cy="464.5" r="2.9" fill="none" stroke="#3cb44b" stroke-width="1"/>
<text x="367.8" y="446.8" font-size="18.4" textLength="230.5" lengthAdjust="spacingAndGlyphs">only width of river measured</text>
<text x="367.8" y="471.2" font-size="18.4" textLength="258.7" lengthAdjust="spacingAndGlyphs">water level and width measured</text>
<text x="677.3" y="36" font-size="20" textLength="23.3" lengthAdjust="spacingAndGlyphs" style="fill:#000">(c)</text>
<g clip-path="url(#cm)">
<rect x="681" y="92" width="339" height="318" fill="#8e8e8e"/>
<rect x="681" y="92" width="339" height="318" filter="url(#soft)"/>
<g filter="url(#b4)">
<polygon points="835.0,95.0 1000.0,95.0 990.0,200.0 900.0,240.0 850.0,200.0 838.0,150.0" fill="#969696" opacity="0.7"/>
<polygon points="985.0,95.0 1000.0,95.0 1000.0,240.0 900.0,240.0 905.0,175.0" fill="#a6a6a6" opacity="0.75"/>
<polygon points="900.0,352.0 935.0,315.0 975.0,293.0 1018.0,283.0 1018.0,330.0 960.0,350.0 920.0,380.0 890.0,400.0" fill="#7e7e7e" opacity="0.8"/>
<polygon points="930.0,330.0 1000.0,300.0 1018.0,300.0 1018.0,320.0 950.0,350.0" fill="#a0a0a0" opacity="0.6"/>
<polygon points="794.0,317.0 886.0,306.0 862.0,338.0 846.0,354.0 825.0,363.0 800.0,360.0 790.0,345.0" fill="#8e8e8e" opacity="0.9"/>
</g>
<g filter="url(#b1)">
<path d="M778 93 L777 120 L775 150 L773 175 L771 200 L769 223 L772 242 L770 262" stroke="#4a4a4a" stroke-width="2.2" fill="none"/>
<path d="M790 93 L788 120 L787 150 L788 175 L790 195" stroke="#555" stroke-width="1.4" fill="none" opacity="0.8"/>
<path d="M784 93 L783 120 L781 150 L779 175 L777 200 L775 223 L778 242 L776 262" stroke="#a4a4a4" stroke-width="3" fill="none" opacity="0.8"/>
<path d="M824 93 L828 105 L830 118 L829 135 L832 165 L834 185 L831 205 L827 225 L821 245 L815 262" stroke="#f0f0f0" stroke-width="2.6" fill="none" opacity="0.9"/>
<path d="M829 93 L833 110 L834 135 L837 165 L841 190 L838 210 L832 232 L826 262" stroke="#707070" stroke-width="2" fill="none" opacity="0.8"/>
<polygon points="796.0,205.0 830.0,210.0 816.0,262.0 776.0,262.0 778.0,240.0" fill="#9a9a9a" opacity="0.7"/>
<path d="M1018 280 L1008 283 L992 287 L974 291 L961 296 L945 305 L931 313 L921 324 L913 331 L906 341 L900 349 L886 362 L873 376 L892 405" stroke="#a8a8a8" stroke-width="2.5" fill="none" opacity="0.8"/>
<path d="M905 170 L948 123 L975 98" stroke="#a2a2a2" stroke-width="1.5" fill="none"/>
<path d="M907 172 L950 125 L977 100" stroke="#777" stroke-width="1.2" fill="none"/>
</g>
<g filter="url(#trees)">
<polygon points="682.8,91.4 783.0,91.4 780.7,105.0 768.4,112.5 760.9,121.0 744.0,122.7 727.0,117.2 710.0,122.7 696.4,129.5 681.1,126.1" fill="#000"/>
<polygon points="679.4,157.7 689.6,161.1 699.8,167.9 710.0,183.1 720.2,189.9 737.2,200.1 754.2,218.8 765.0,232.4 769.4,247.7 771.1,264.7 679.4,264.7" fill="#000"/>
<polygon points="679.4,240.0 765.0,240.0 772.8,253.6 762.6,265.5 713.4,265.5 679.4,265.5" fill="#000"/>
<polygon points="679.4,265.5 716.8,265.5 716.8,315.4 760.9,316.5 753.5,341.9 754.2,369.1 765.0,389.5 791.5,399.7 806.8,408.9 806.8,413.3 679.4,413.3" fill="#000"/>
<polygon points="805.1,402.4 893.5,407.5 900.3,413.3 805.1,413.3" fill="#000"/>
<polygon points="937.6,413.3 942.7,392.9 947.8,381.0 964.8,352.8 983.5,341.9 1002.2,339.2 1020.9,327.7 1020.9,413.3" fill="#000"/>
<polygon points="993.7,91.4 1020.9,91.4 1020.9,140.7 1013.1,136.3 1006.3,122.0 999.5,108.4" fill="#000"/>
<ellipse cx="886.7" cy="135.6" rx="7.5" ry="4.1"/>
<ellipse cx="895.2" cy="154.9" rx="5.4" ry="5.4"/>
<ellipse cx="888.4" cy="179.7" rx="8.8" ry="6.8"/>
<ellipse cx="944.4" cy="110.4" rx="6.8" ry="5.4"/>
<ellipse cx="926.8" cy="99.6" rx="6.1" ry="3.4"/>
<ellipse cx="913.9" cy="247.7" rx="13.6" ry="7.5"/>
<ellipse cx="877.2" cy="196.1" rx="5.4" ry="3.4"/>
<ellipse cx="910.5" cy="255.3" rx="12.9" ry="8.2"/>
<ellipse cx="881.6" cy="319.9" rx="5.4" ry="3.4"/>
</g>
<g filter="url(#b2)">
<polygon points="688.0,272.0 706.0,270.0 711.0,280.0 706.0,291.0 690.0,290.0" fill="#8d8d8d" opacity="0.9"/>
<polygon points="688.0,350.0 715.0,346.0 722.0,356.0 712.0,366.0 690.0,364.0" fill="#8d8d8d" opacity="0.9"/>
<polygon points="958.0,369.1 981.8,355.5 1002.2,352.1 998.8,362.3 975.0,375.9 961.4,382.7" fill="#8c8c8c" opacity="0.8"/>
</g>
<circle cx="868.3" cy="156.0" r="0.9" fill="#cfcfcf" opacity="0.8"/><circle cx="869.3" cy="157.0" r="0.8" fill="#666" opacity="0.7"/>
<circle cx="869.2" cy="150.8" r="0.9" fill="#cfcfcf" opacity="0.8"/><circle cx="870.2" cy="151.8" r="0.8" fill="#666" opacity="0.7"/>
<circle cx="850.4" cy="151.2" r="0.9" fill="#cfcfcf" opacity="0.8"/><circle cx="851.4" cy="152.2" r="0.8" fill="#666" opacity="0.7"/>
<circle cx="847.2" cy="208.5" r="0.9" fill="#cfcfcf" opacity="0.8"/><circle cx="848.2" cy="209.5" r="0.8" fill="#666" opacity="0.7"/>
<circle cx="884.5" cy="104.2" r="0.9" fill="#cfcfcf" opacity="0.8"/><circle cx="885.5" cy="105.2" r="0.8" fill="#666" opacity="0.7"/>
<circle cx="902.6" cy="165.4" r="0.9" fill="#cfcfcf" opacity="0.8"/><circle cx="903.6" cy="166.4" r="0.8" fill="#666" opacity="0.7"/>
<circle cx="848.6" cy="101.5" r="0.9" fill="#cfcfcf" opacity="0.8"/><circle cx="849.6" cy="102.5" r="0.8" fill="#666" opacity="0.7"/>
<circle cx="841.1" cy="160.5" r="0.9" fill="#cfcfcf" opacity="0.8"/><circle cx="842.1" cy="161.5" r="0.8" fill="#666" opacity="0.7"/>
<circle cx="867.5" cy="184.2" r="0.9" fill="#cfcfcf" opacity="0.8"/><circle cx="868.5" cy="185.2" r="0.8" fill="#666" opacity="0.7"/>
<circle cx="880.9" cy="150.0" r="0.9" fill="#cfcfcf" opacity="0.8"/><circle cx="881.9" cy="151.0" r="0.8" fill="#666" opacity="0.7"/>
<circle cx="868.6" cy="127.8" r="0.9" fill="#cfcfcf" opacity="0.8"/><circle cx="869.6" cy="128.8" r="0.8" fill="#666" opacity="0.7"/>
<circle cx="904.7" cy="184.0" r="0.9" fill="#cfcfcf" opacity="0.8"/><circle cx="905.7" cy="185.0" r="0.8" fill="#666" opacity="0.7"/>
<circle cx="845.2" cy="202.5" r="0.9" fill="#cfcfcf" opacity="0.8"/><circle cx="846.2" cy="203.5" r="0.8" fill="#666" opacity="0.7"/>
<circle cx="935.7" cy="213.8" r="0.9" fill="#cfcfcf" opacity="0.8"/><circle cx="936.7" cy="214.8" r="0.8" fill="#666" opacity="0.7"/>
<circle cx="838.0" cy="121.0" r="0.9" fill="#cfcfcf" opacity="0.8"/><circle cx="839.0" cy="122.0" r="0.8" fill="#666" opacity="0.7"/>
<circle cx="845.4" cy="183.5" r="0.9" fill="#cfcfcf" opacity="0.8"/><circle cx="846.4" cy="184.5" r="0.8" fill="#666" opacity="0.7"/>
<circle cx="871.9" cy="230.0" r="0.9" fill="#cfcfcf" opacity="0.8"/><circle cx="872.9" cy="231.0" r="0.8" fill="#666" opacity="0.7"/>
<circle cx="848.3" cy="104.3" r="0.9" fill="#cfcfcf" opacity="0.8"/><circle cx="849.3" cy="105.3" r="0.8" fill="#666" opacity="0.7"/>
<circle cx="891.4" cy="117.8" r="0.9" fill="#cfcfcf" opacity="0.8"/><circle cx="892.4" cy="118.8" r="0.8" fill="#666" opacity="0.7"/>
<circle cx="868.0" cy="119.1" r="0.9" fill="#cfcfcf" opacity="0.8"/><circle cx="869.0" cy="120.1" r="0.8" fill="#666" opacity="0.7"/>
<circle cx="880.9" cy="125.6" r="0.9" fill="#cfcfcf" opacity="0.8"/><circle cx="881.9" cy="126.6" r="0.8" fill="#666" opacity="0.7"/>
<circle cx="856.1" cy="197.1" r="0.9" fill="#cfcfcf" opacity="0.8"/><circle cx="857.1" cy="198.1" r="0.8" fill="#666" opacity="0.7"/>
<circle cx="878.2" cy="214.8" r="0.9" fill="#cfcfcf" opacity="0.8"/><circle cx="879.2" cy="215.8" r="0.8" fill="#666" opacity="0.7"/>
<circle cx="881.0" cy="110.0" r="0.9" fill="#cfcfcf" opacity="0.8"/><circle cx="882.0" cy="111.0" r="0.8" fill="#666" opacity="0.7"/>
<circle cx="852.3" cy="125.8" r="0.9" fill="#cfcfcf" opacity="0.8"/><circle cx="853.3" cy="126.8" r="0.8" fill="#666" opacity="0.7"/>
<circle cx="847.2" cy="177.0" r="0.9" fill="#cfcfcf" opacity="0.8"/><circle cx="848.2" cy="178.0" r="0.8" fill="#666" opacity="0.7"/>
<circle cx="884.2" cy="229.3" r="0.9" fill="#cfcfcf" opacity="0.8"/><circle cx="885.2" cy="230.3" r="0.8" fill="#666" opacity="0.7"/>
<circle cx="870.4" cy="157.5" r="0.9" fill="#cfcfcf" opacity="0.8"/><circle cx="871.4" cy="158.5" r="0.8" fill="#666" opacity="0.7"/>
<circle cx="850.2" cy="115.4" r="0.9" fill="#cfcfcf" opacity="0.8"/><circle cx="851.2" cy="116.4" r="0.8" fill="#666" opacity="0.7"/>
<circle cx="913.4" cy="226.7" r="0.9" fill="#cfcfcf" opacity="0.8"/><circle cx="914.4" cy="227.7" r="0.8" fill="#666" opacity="0.7"/>
<circle cx="851.2" cy="195.0" r="0.9" fill="#cfcfcf" opacity="0.8"/><circle cx="852.2" cy="196.0" r="0.8" fill="#666" opacity="0.7"/>
<circle cx="841.9" cy="229.8" r="0.9" fill="#cfcfcf" opacity="0.8"/><circle cx="842.9" cy="230.8" r="0.8" fill="#666" opacity="0.7"/>
<circle cx="922.0" cy="178.9" r="0.9" fill="#cfcfcf" opacity="0.8"/><circle cx="923.0" cy="179.9" r="0.8" fill="#666" opacity="0.7"/>
<circle cx="857.7" cy="117.5" r="0.9" fill="#cfcfcf" opacity="0.8"/><circle cx="858.7" cy="118.5" r="0.8" fill="#666" opacity="0.7"/>
<circle cx="842.6" cy="122.8" r="0.9" fill="#cfcfcf" opacity="0.8"/><circle cx="843.6" cy="123.8" r="0.8" fill="#666" opacity="0.7"/>
<circle cx="931.6" cy="124.4" r="0.9" fill="#cfcfcf" opacity="0.8"/><circle cx="932.6" cy="125.4" r="0.8" fill="#666" opacity="0.7"/>
<circle cx="839.1" cy="126.9" r="0.9" fill="#cfcfcf" opacity="0.8"/><circle cx="840.1" cy="127.9" r="0.8" fill="#666" opacity="0.7"/>
<circle cx="896.4" cy="114.3" r="0.9" fill="#cfcfcf" opacity="0.8"/><circle cx="897.4" cy="115.3" r="0.8" fill="#666" opacity="0.7"/>
<circle cx="862.3" cy="189.1" r="0.9" fill="#cfcfcf" opacity="0.8"/><circle cx="863.3" cy="190.1" r="0.8" fill="#666" opacity="0.7"/>
<circle cx="882.0" cy="169.1" r="0.9" fill="#cfcfcf" opacity="0.8"/><circle cx="883.0" cy="170.1" r="0.8" fill="#666" opacity="0.7"/>
<circle cx="930.8" cy="193.4" r="0.9" fill="#cfcfcf" opacity="0.8"/><circle cx="931.8" cy="194.4" r="0.8" fill="#666" opacity="0.7"/>
<circle cx="902.5" cy="102.1" r="0.9" fill="#cfcfcf" opacity="0.8"/><circle cx="903.5" cy="103.1" r="0.8" fill="#666" opacity="0.7"/>
<circle cx="939.9" cy="106.5" r="0.9" fill="#cfcfcf" opacity="0.8"/><circle cx="940.9" cy="107.5" r="0.8" fill="#666" opacity="0.7"/>
<circle cx="874.6" cy="173.7" r="0.9" fill="#cfcfcf" opacity="0.8"/><circle cx="875.6" cy="174.7" r="0.8" fill="#666" opacity="0.7"/>
<circle cx="887.4" cy="170.4" r="0.9" fill="#cfcfcf" opacity="0.8"/><circle cx="888.4" cy="171.4" r="0.8" fill="#666" opacity="0.7"/>
<circle cx="899.3" cy="135.2" r="0.9" fill="#cfcfcf" opacity="0.8"/><circle cx="900.3" cy="136.2" r="0.8" fill="#666" opacity="0.7"/>
<circle cx="898.4" cy="187.1" r="0.9" fill="#cfcfcf" opacity="0.8"/><circle cx="899.4" cy="188.1" r="0.8" fill="#666" opacity="0.7"/>
<circle cx="891.0" cy="186.3" r="0.9" fill="#cfcfcf" opacity="0.8"/><circle cx="892.0" cy="187.3" r="0.8" fill="#666" opacity="0.7"/>
<circle cx="879.9" cy="138.2" r="0.9" fill="#cfcfcf" opacity="0.8"/><circle cx="880.9" cy="139.2" r="0.8" fill="#666" opacity="0.7"/>
<circle cx="878.8" cy="108.0" r="0.9" fill="#cfcfcf" opacity="0.8"/><circle cx="879.8" cy="109.0" r="0.8" fill="#666" opacity="0.7"/>
<circle cx="904.6" cy="188.0" r="0.9" fill="#cfcfcf" opacity="0.8"/><circle cx="905.6" cy="189.0" r="0.8" fill="#666" opacity="0.7"/>
<circle cx="864.0" cy="173.5" r="0.9" fill="#cfcfcf" opacity="0.8"/><circle cx="865.0" cy="174.5" r="0.8" fill="#666" opacity="0.7"/>
<circle cx="914.5" cy="100.1" r="0.9" fill="#cfcfcf" opacity="0.8"/><circle cx="915.5" cy="101.1" r="0.8" fill="#666" opacity="0.7"/>
<circle cx="909.2" cy="165.1" r="0.9" fill="#cfcfcf" opacity="0.8"/><circle cx="910.2" cy="166.1" r="0.8" fill="#666" opacity="0.7"/>
<circle cx="839.2" cy="137.8" r="0.9" fill="#cfcfcf" opacity="0.8"/><circle cx="840.2" cy="138.8" r="0.8" fill="#666" opacity="0.7"/>
<circle cx="930.4" cy="187.7" r="0.9" fill="#cfcfcf" opacity="0.8"/><circle cx="931.4" cy="188.7" r="0.8" fill="#666" opacity="0.7"/>
<circle cx="905.9" cy="123.6" r="0.9" fill="#cfcfcf" opacity="0.8"/><circle cx="906.9" cy="124.6" r="0.8" fill="#666" opacity="0.7"/>
<circle cx="866.9" cy="180.6" r="0.9" fill="#cfcfcf" opacity="0.8"/><circle cx="867.9" cy="181.6" r="0.8" fill="#666" opacity="0.7"/>
<circle cx="897.0" cy="138.4" r="0.9" fill="#cfcfcf" opacity="0.8"/><circle cx="898.0" cy="139.4" r="0.8" fill="#666" opacity="0.7"/>
<circle cx="859.2" cy="113.6" r="0.9" fill="#cfcfcf" opacity="0.8"/><circle cx="860.2" cy="114.6" r="0.8" fill="#666" opacity="0.7"/>
<circle cx="894.1" cy="184.9" r="0.9" fill="#cfcfcf" opacity="0.8"/><circle cx="895.1" cy="185.9" r="0.8" fill="#666" opacity="0.7"/>
<circle cx="884.0" cy="134.2" r="0.9" fill="#cfcfcf" opacity="0.8"/><circle cx="885.0" cy="135.2" r="0.8" fill="#666" opacity="0.7"/>
<circle cx="852.3" cy="141.4" r="0.9" fill="#cfcfcf" opacity="0.8"/><circle cx="853.3" cy="142.4" r="0.8" fill="#666" opacity="0.7"/>
<circle cx="871.1" cy="131.5" r="0.9" fill="#cfcfcf" opacity="0.8"/><circle cx="872.1" cy="132.5" r="0.8" fill="#666" opacity="0.7"/>
<circle cx="841.2" cy="217.3" r="0.9" fill="#cfcfcf" opacity="0.8"/><circle cx="842.2" cy="218.3" r="0.8" fill="#666" opacity="0.7"/>
<circle cx="840.8" cy="170.9" r="0.9" fill="#cfcfcf" opacity="0.8"/><circle cx="841.8" cy="171.9" r="0.8" fill="#666" opacity="0.7"/>
<circle cx="851.9" cy="159.2" r="0.9" fill="#cfcfcf" opacity="0.8"/><circle cx="852.9" cy="160.2" r="0.8" fill="#666" opacity="0.7"/>
<circle cx="852.4" cy="102.5" r="0.9" fill="#cfcfcf" opacity="0.8"/><circle cx="853.4" cy="103.5" r="0.8" fill="#666" opacity="0.7"/>
<circle cx="880.2" cy="144.6" r="0.9" fill="#cfcfcf" opacity="0.8"/><circle cx="881.2" cy="145.6" r="0.8" fill="#666" opacity="0.7"/>
<circle cx="881.9" cy="180.7" r="0.9" fill="#cfcfcf" opacity="0.8"/><circle cx="882.9" cy="181.7" r="0.8" fill="#666" opacity="0.7"/>
<circle cx="883.9" cy="119.9" r="0.9" fill="#cfcfcf" opacity="0.8"/><circle cx="884.9" cy="120.9" r="0.8" fill="#666" opacity="0.7"/>
<circle cx="850.0" cy="101.1" r="0.9" fill="#cfcfcf" opacity="0.8"/><circle cx="851.0" cy="102.1" r="0.8" fill="#666" opacity="0.7"/>
<circle cx="873.3" cy="192.9" r="0.9" fill="#cfcfcf" opacity="0.8"/><circle cx="874.3" cy="193.9" r="0.8" fill="#666" opacity="0.7"/>
<circle cx="872.9" cy="161.4" r="0.9" fill="#cfcfcf" opacity="0.8"/><circle cx="873.9" cy="162.4" r="0.8" fill="#666" opacity="0.7"/>
<circle cx="864.4" cy="179.2" r="0.9" fill="#cfcfcf" opacity="0.8"/><circle cx="865.4" cy="180.2" r="0.8" fill="#666" opacity="0.7"/>
<circle cx="843.8" cy="193.3" r="0.9" fill="#cfcfcf" opacity="0.8"/><circle cx="844.8" cy="194.3" r="0.8" fill="#666" opacity="0.7"/>
<circle cx="846.7" cy="145.4" r="0.9" fill="#cfcfcf" opacity="0.8"/><circle cx="847.7" cy="146.4" r="0.8" fill="#666" opacity="0.7"/>
<circle cx="899.0" cy="137.7" r="0.9" fill="#cfcfcf" opacity="0.8"/><circle cx="900.0" cy="138.7" r="0.8" fill="#666" opacity="0.7"/>
<circle cx="896.9" cy="179.7" r="0.9" fill="#cfcfcf" opacity="0.8"/><circle cx="897.9" cy="180.7" r="0.8" fill="#666" opacity="0.7"/>
<circle cx="911.6" cy="209.8" r="0.9" fill="#cfcfcf" opacity="0.8"/><circle cx="912.6" cy="210.8" r="0.8" fill="#666" opacity="0.7"/>
<circle cx="929.8" cy="232.3" r="0.9" fill="#cfcfcf" opacity="0.8"/><circle cx="930.8" cy="233.3" r="0.8" fill="#666" opacity="0.7"/>
<circle cx="903.5" cy="153.7" r="0.9" fill="#cfcfcf" opacity="0.8"/><circle cx="904.5" cy="154.7" r="0.8" fill="#666" opacity="0.7"/>
<circle cx="859.5" cy="191.0" r="0.9" fill="#cfcfcf" opacity="0.8"/><circle cx="860.5" cy="192.0" r="0.8" fill="#666" opacity="0.7"/>
<circle cx="861.3" cy="108.3" r="0.9" fill="#cfcfcf" opacity="0.8"/><circle cx="862.3" cy="109.3" r="0.8" fill="#666" opacity="0.7"/>
<circle cx="874.9" cy="176.8" r="0.9" fill="#cfcfcf" opacity="0.8"/><circle cx="875.9" cy="177.8" r="0.8" fill="#666" opacity="0.7"/>
<circle cx="919.6" cy="120.0" r="0.9" fill="#cfcfcf" opacity="0.8"/><circle cx="920.6" cy="121.0" r="0.8" fill="#666" opacity="0.7"/>
<circle cx="853.2" cy="167.8" r="0.9" fill="#cfcfcf" opacity="0.8"/><circle cx="854.2" cy="168.8" r="0.8" fill="#666" opacity="0.7"/>
<circle cx="886.5" cy="184.0" r="0.9" fill="#cfcfcf" opacity="0.8"/><circle cx="887.5" cy="185.0" r="0.8" fill="#666" opacity="0.7"/>
<circle cx="901.4" cy="149.3" r="0.9" fill="#cfcfcf" opacity="0.8"/><circle cx="902.4" cy="150.3" r="0.8" fill="#666" opacity="0.7"/>
<circle cx="843.8" cy="122.1" r="0.9" fill="#cfcfcf" opacity="0.8"/><circle cx="844.8" cy="123.1" r="0.8" fill="#666" opacity="0.7"/>
<circle cx="857.4" cy="172.9" r="0.9" fill="#cfcfcf" opacity="0.8"/><circle cx="858.4" cy="173.9" r="0.8" fill="#666" opacity="0.7"/>
<circle cx="873.0" cy="184.4" r="0.9" fill="#cfcfcf" opacity="0.8"/><circle cx="874.0" cy="185.4" r="0.8" fill="#666" opacity="0.7"/>
<circle cx="858.9" cy="138.1" r="0.9" fill="#cfcfcf" opacity="0.8"/><circle cx="859.9" cy="139.1" r="0.8" fill="#666" opacity="0.7"/>
<circle cx="898.3" cy="120.8" r="0.9" fill="#cfcfcf" opacity="0.8"/><circle cx="899.3" cy="121.8" r="0.8" fill="#666" opacity="0.7"/>
<circle cx="902.9" cy="152.4" r="0.9" fill="#cfcfcf" opacity="0.8"/><circle cx="903.9" cy="153.4" r="0.8" fill="#666" opacity="0.7"/>
<circle cx="851.5" cy="153.6" r="0.9" fill="#cfcfcf" opacity="0.8"/><circle cx="852.5" cy="154.6" r="0.8" fill="#666" opacity="0.7"/>
<circle cx="878.6" cy="102.8" r="0.9" fill="#cfcfcf" opacity="0.8"/><circle cx="879.6" cy="103.8" r="0.8" fill="#666" opacity="0.7"/>
<circle cx="872.6" cy="140.1" r="0.9" fill="#cfcfcf" opacity="0.8"/><circle cx="873.6" cy="141.1" r="0.8" fill="#666" opacity="0.7"/>
<circle cx="875.7" cy="149.1" r="0.9" fill="#cfcfcf" opacity="0.8"/><circle cx="876.7" cy="150.1" r="0.8" fill="#666" opacity="0.7"/>
<circle cx="842.4" cy="153.9" r="0.9" fill="#cfcfcf" opacity="0.8"/><circle cx="843.4" cy="154.9" r="0.8" fill="#666" opacity="0.7"/>
<circle cx="886.3" cy="113.6" r="0.9" fill="#cfcfcf" opacity="0.8"/><circle cx="887.3" cy="114.6" r="0.8" fill="#666" opacity="0.7"/>
<circle cx="867.1" cy="181.6" r="0.9" fill="#cfcfcf" opacity="0.8"/><circle cx="868.1" cy="182.6" r="0.8" fill="#666" opacity="0.7"/>
<circle cx="901.0" cy="224.6" r="0.9" fill="#cfcfcf" opacity="0.8"/><circle cx="902.0" cy="225.6" r="0.8" fill="#666" opacity="0.7"/>
<circle cx="857.8" cy="127.6" r="0.9" fill="#cfcfcf" opacity="0.8"/><circle cx="858.8" cy="128.6" r="0.8" fill="#666" opacity="0.7"/>
<circle cx="901.2" cy="110.6" r="0.9" fill="#cfcfcf" opacity="0.8"/><circle cx="902.2" cy="111.6" r="0.8" fill="#666" opacity="0.7"/>
<circle cx="887.0" cy="112.3" r="0.9" fill="#cfcfcf" opacity="0.8"/><circle cx="888.0" cy="113.3" r="0.8" fill="#666" opacity="0.7"/>
<circle cx="854.8" cy="119.8" r="0.9" fill="#cfcfcf" opacity="0.8"/><circle cx="855.8" cy="120.8" r="0.8" fill="#666" opacity="0.7"/>
<circle cx="867.3" cy="137.6" r="0.9" fill="#cfcfcf" opacity="0.8"/><circle cx="868.3" cy="138.6" r="0.8" fill="#666" opacity="0.7"/>
<circle cx="902.4" cy="184.7" r="0.9" fill="#cfcfcf" opacity="0.8"/><circle cx="903.4" cy="185.7" r="0.8" fill="#666" opacity="0.7"/>
<circle cx="873.5" cy="185.1" r="0.9" fill="#cfcfcf" opacity="0.8"/><circle cx="874.5" cy="186.1" r="0.8" fill="#666" opacity="0.7"/>
<circle cx="895.4" cy="123.3" r="0.9" fill="#cfcfcf" opacity="0.8"/><circle cx="896.4" cy="124.3" r="0.8" fill="#666" opacity="0.7"/>
<circle cx="870.1" cy="224.3" r="0.9" fill="#cfcfcf" opacity="0.8"/><circle cx="871.1" cy="225.3" r="0.8" fill="#666" opacity="0.7"/>
<circle cx="852.6" cy="199.8" r="0.9" fill="#cfcfcf" opacity="0.8"/><circle cx="853.6" cy="200.8" r="0.8" fill="#666" opacity="0.7"/>
<circle cx="847.0" cy="123.9" r="0.9" fill="#cfcfcf" opacity="0.8"/><circle cx="848.0" cy="124.9" r="0.8" fill="#666" opacity="0.7"/>
<circle cx="855.4" cy="109.7" r="0.9" fill="#cfcfcf" opacity="0.8"/><circle cx="856.4" cy="110.7" r="0.8" fill="#666" opacity="0.7"/>
<circle cx="879.1" cy="191.2" r="0.9" fill="#cfcfcf" opacity="0.8"/><circle cx="880.1" cy="192.2" r="0.8" fill="#666" opacity="0.7"/>
<circle cx="839.2" cy="120.1" r="0.9" fill="#cfcfcf" opacity="0.8"/><circle cx="840.2" cy="121.1" r="0.8" fill="#666" opacity="0.7"/>
<circle cx="889.6" cy="201.4" r="0.9" fill="#cfcfcf" opacity="0.8"/><circle cx="890.6" cy="202.4" r="0.8" fill="#666" opacity="0.7"/>
<circle cx="845.2" cy="110.8" r="0.9" fill="#cfcfcf" opacity="0.8"/><circle cx="846.2" cy="111.8" r="0.8" fill="#666" opacity="0.7"/>
<circle cx="840.5" cy="155.2" r="0.9" fill="#cfcfcf" opacity="0.8"/><circle cx="841.5" cy="156.2" r="0.8" fill="#666" opacity="0.7"/>
<polygon points="799.4,114.7 827.2,111.3 827.8,121.4 823.4,134.0 800.7,134.0" fill="#128944"/>
<polygon points="799.6,118.2 827.4,114.8 827.6,118.6 799.9,121.9" fill="#faa61a"/>
<polygon points="800.0,124.6 827.2,121.4 826.5,124.4 800.2,127.6" fill="#faa61a"/>
<polygon points="800.3,129.1 825.4,126.4 824.6,128.0 800.4,130.6" fill="#faa61a"/>
<polygon points="805.3,160.0 829.0,160.0 832.7,172.0 833.7,185.0 834.6,194.6 829.0,209.7 796.8,205.0 802.5,194.6 804.2,183.0" fill="#128944"/>
<polygon points="804.4,185.1 833.7,188.9 833.9,192.7 804.0,188.9" fill="#faa61a"/>
<polygon points="796.8,205.0 829.0,209.7 827.5,215.0 794.9,209.4" fill="#faa61a"/>
<polygon points="794.0,213.2 825.2,220.2 824.8,222.0 793.6,215.0" fill="#faa61a"/>
<polygon points="792.0,216.4 826.1,224.0 823.3,232.5 788.8,225.8" fill="#faa61a"/>
<polygon points="788.3,226.8 817.6,234.4 817.2,236.2 787.3,228.7" fill="#faa61a"/>
<polygon points="778.8,239.1 815.7,246.7 813.8,256.1 776.9,246.7" fill="#faa61a"/>
<polygon points="776.0,252.3 811.9,260.9 811.0,266.0 780.7,266.0 779.7,257.0" fill="#faa61a"/>
<path d="M939 247.5 L927 261.5 L925.2 271 L911 278.8 L896.2 292.2 L885.8 303 L879.4 315.5" stroke="#383838" stroke-width="1.9" fill="none" stroke-linejoin="round"/>
<polygon points="1018.0,252.0 1008.0,249.0 939.5,248.5 927.6,262.5 926.0,271.8 911.7,279.7 897.0,293.0 886.5,303.6 880.0,316.0 876.0,319.5 863.0,334.0 861.0,340.3 856.4,346.8 850.9,352.3 841.4,358.4 834.5,361.1 825.0,363.9 815.5,364.5 807.3,363.2 797.7,359.1 790.2,353.6 789.9,338.2 794.1,314.0 767.6,314.0 761.2,327.6 754.9,340.3 751.7,349.9 753.8,361.5 761.2,378.5 771.8,391.2 780.0,394.5 788.2,398.6 795.0,397.3 803.9,395.9 807.3,403.4 820.9,405.5 848.2,406.8 861.8,408.2 875.5,408.2 891.8,406.1 871.4,378.9 876.0,372.0 880.9,366.5 887.4,361.0 894.8,353.6 902.1,344.2 909.5,335.6 916.9,328.0 926.8,319.4 936.6,312.0 948.9,304.6 961.2,298.5 973.5,293.5 990.7,289.2 1008.0,284.5 1018.0,279.7" fill="#128944"/>
<polygon points="962.0,248.5 1008.0,249.0 1018.0,252.0 1018.0,279.7 1008.0,284.5 990.7,289.2 977.5,292.4" fill="#faa61a"/>
<polygon points="950.0,248.5 956.0,248.5 972.3,294.0 966.5,296.3" fill="#faa61a"/>
<polygon points="909.0,282.4 911.1,280.8 932.1,311.0 930.2,312.9" fill="#faa61a"/>
<polygon points="887.7,306.2 889.1,304.8 915.3,327.0 913.9,328.6" fill="#faa61a"/>
<polygon points="879.0,321.2 885.4,315.9 911.3,335.1 906.0,340.4" fill="#faa61a"/>
<polygon points="863.9,331.6 865.8,329.8 897.5,352.4 895.4,354.5" fill="#faa61a"/>
<polygon points="861.2,334.6 862.3,333.5 892.1,357.1 890.8,358.4" fill="#faa61a"/>
<polygon points="858.8,339.7 860.7,337.4 887.5,360.5 885.4,363.1" fill="#faa61a"/>
<polygon points="855.7,346.3 858.4,344.0 882.6,364.1 879.5,366.7" fill="#faa61a"/>
<polygon points="886.5,315.3 887.4,314.4 910.4,333.3 909.5,334.3" fill="#faa61a"/>
<polygon points="853.1,350.9 854.5,349.7 875.5,374.9 873.8,376.4" fill="#faa61a"/>
<polygon points="842.5,357.7 851.2,352.5 871.4,378.9 891.8,406.1 875.9,408.2" fill="#faa61a"/>
<polygon points="836.6,360.5 841.4,358.4 874.1,408.2 861.8,407.9" fill="#faa61a"/>
<polygon points="832.1,362.5 833.5,362.1 853.9,407.1 852.3,406.8" fill="#faa61a"/>
<polygon points="829.8,363.5 831.1,362.9 850.9,406.8 848.9,406.8" fill="#faa61a"/>
<polygon points="809.7,364.3 811.6,364.5 822.5,405.5 820.5,405.3" fill="#faa61a"/>
<polygon points="801.8,360.5 808.4,363.9 818.6,405.2 807.3,403.4" fill="#faa61a"/>
<line x1="797.7" y1="359.1" x2="795.0" y2="397.3" stroke="#faa61a" stroke-width="0.8" opacity="0.85"/>
<line x1="799.1" y1="359.8" x2="798.4" y2="396.6" stroke="#faa61a" stroke-width="0.8" opacity="0.85"/>
<line x1="800.5" y1="360.5" x2="801.1" y2="396.2" stroke="#faa61a" stroke-width="0.8" opacity="0.85"/>
<polygon points="751.7,348.8 752.7,354.7 790.9,355.6 789.9,352.0" fill="#faa61a"/>
<line x1="755.9" y1="341.4" x2="789.9" y2="349.9" stroke="#faa61a" stroke-width="0.8"/>
<line x1="752.7" y1="344.6" x2="789.9" y2="351.4" stroke="#faa61a" stroke-width="0.8"/>
<line x1="753.8" y1="359.0" x2="788.8" y2="357.7" stroke="#faa61a" stroke-width="0.9"/>
<polygon points="762.3,380.6 779.3,370.0 763.3,382.3" fill="#faa61a"/>
<line x1="779.7" y1="194.6" x2="847.9" y2="208.8" stroke="#000" stroke-width="4.2" stroke-dasharray="11.5 3.05"/>
<line x1="749" y1="161" x2="772" y2="183.5" stroke="#000" stroke-width="1.8"/>
<polygon points="779.7,190.4 762.7,185.1 773.0,174.7" fill="#000"/>
<rect x="699" y="133.5" width="162.2" height="27" fill="#fff"/>
<text x="706.6" y="154.8" font-size="22" textLength="152" lengthAdjust="spacingAndGlyphs" style="fill:#000;stroke:#000;stroke-width:0.25">axis profil 54.5m</text>
<rect x="852.7" y="194" width="161.5" height="53.7" fill="#fff"/>
<text x="859" y="215.5" font-size="21" textLength="120.5" lengthAdjust="spacingAndGlyphs" style="fill:#109347;stroke:#109347;stroke-width:0.3">water level &amp;</text>
<text x="859" y="241.5" font-size="21" textLength="152" lengthAdjust="spacingAndGlyphs" style="fill:#109347;stroke:#109347;stroke-width:0.3">width measured</text>
<rect x="715" y="264.5" width="171.7" height="52" fill="#fff"/>
<text x="721" y="285" font-size="21" textLength="162" lengthAdjust="spacingAndGlyphs" style="fill:#f7a21b;stroke:#f7a21b;stroke-width:0.3">only river width</text>
<text x="721" y="310.5" font-size="21" textLength="102.5" lengthAdjust="spacingAndGlyphs" style="fill:#f7a21b;stroke:#f7a21b;stroke-width:0.3">measured</text>
</g>
<rect x="681.9" y="92.9" width="337.3" height="316.6" fill="none" stroke="#000" stroke-width="1.9"/>
<text x="677.5" y="139.4" font-size="16.8" text-anchor="end" style="fill:#000">250</text>
<text x="677.5" y="212.0" font-size="16.8" text-anchor="end" style="fill:#000">150</text>
<text x="677.5" y="298.0" font-size="16.8" text-anchor="end" style="fill:#000">100</text>
<text x="677.5" y="379.7" font-size="16.8" text-anchor="end" style="fill:#000">50</text>
<text x="641.5" y="247.9" font-size="17.5" textLength="37" lengthAdjust="spacingAndGlyphs" style="fill:#000">Y[m]</text>
<text x="699.0" y="425.7" font-size="16.8" text-anchor="middle" style="fill:#000">50</text>
<text x="848.2" y="425.7" font-size="16.8" text-anchor="middle" style="fill:#000">150</text>
<text x="1000.7" y="425.7" font-size="16.8" text-anchor="middle" style="fill:#000">250</text>
<text x="834.3" y="445.3" font-size="17.5" textLength="38" lengthAdjust="spacingAndGlyphs" style="fill:#000">X[m]</text>
</svg></body></html>
